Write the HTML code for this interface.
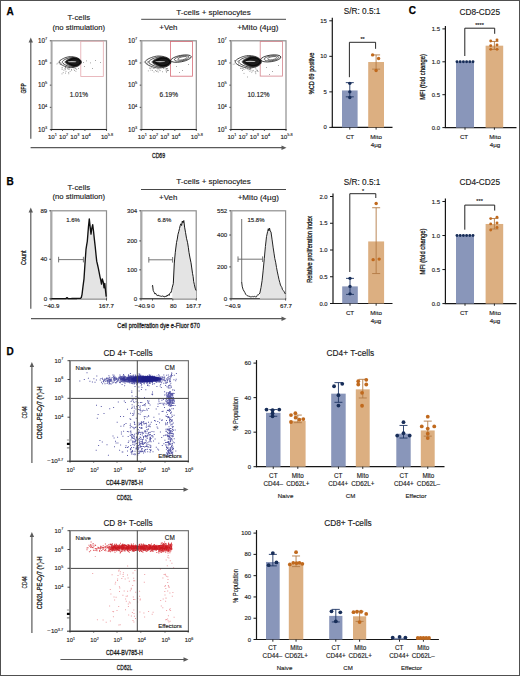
<!DOCTYPE html>
<html><head><meta charset="utf-8"><style>html,body{margin:0;padding:0;background:#fff;overflow:hidden;width:520px;height:676px;}svg{display:block;}text{font-family:"Liberation Sans", sans-serif;}</style></head><body>
<svg width="520" height="676" viewBox="0 0 520 676" font-family='"Liberation Sans", sans-serif'>
<rect x="0.00" y="0.00" width="520.00" height="676.00" fill="#ffffff" stroke="none" stroke-width="1"/>
<text x="6.60" y="14.50" font-size="10.0" text-anchor="start" font-weight="bold" fill="#000" stroke="#000" stroke-width="0.25">A</text>
<text x="6.60" y="184.70" font-size="10.0" text-anchor="start" font-weight="bold" fill="#000" stroke="#000" stroke-width="0.25">B</text>
<text x="408.70" y="14.40" font-size="10.0" text-anchor="start" font-weight="bold" fill="#000" stroke="#000" stroke-width="0.25">C</text>
<text x="6.60" y="354.70" font-size="10.0" text-anchor="start" font-weight="bold" fill="#000" stroke="#000" stroke-width="0.25">D</text>
<rect x="51.30" y="40.80" width="55.20" height="88.70" fill="#fff" stroke="#8e8e8e" stroke-width="1.2"/>
<line x1="51.80" y1="40.80" x2="51.80" y2="129.50" stroke="#a8a8a8" stroke-width="1.6"/>
<line x1="50.80" y1="129.50" x2="107.00" y2="129.50" stroke="#222" stroke-width="1.1"/>
<text x="38.10" y="42.90" font-size="6.3" text-anchor="start" fill="#222" stroke="#222" stroke-width="0.12">10<tspan font-size="3.91" dy="-2.83">7</tspan></text>
<line x1="49.80" y1="40.80" x2="51.30" y2="40.80" stroke="#333" stroke-width="0.8"/>
<text x="38.10" y="65.07" font-size="6.3" text-anchor="start" fill="#222" stroke="#222" stroke-width="0.12">10<tspan font-size="3.91" dy="-2.83">6</tspan></text>
<line x1="49.80" y1="62.97" x2="51.30" y2="62.97" stroke="#333" stroke-width="0.8"/>
<text x="38.10" y="87.25" font-size="6.3" text-anchor="start" fill="#222" stroke="#222" stroke-width="0.12">10<tspan font-size="3.91" dy="-2.83">5</tspan></text>
<line x1="49.80" y1="85.15" x2="51.30" y2="85.15" stroke="#333" stroke-width="0.8"/>
<text x="38.10" y="109.42" font-size="6.3" text-anchor="start" fill="#222" stroke="#222" stroke-width="0.12">10<tspan font-size="3.91" dy="-2.83">4</tspan></text>
<line x1="49.80" y1="107.33" x2="51.30" y2="107.33" stroke="#333" stroke-width="0.8"/>
<text x="38.10" y="131.60" font-size="6.3" text-anchor="start" fill="#222" stroke="#222" stroke-width="0.12">10<tspan font-size="3.91" dy="-2.83">3</tspan></text>
<line x1="49.80" y1="129.50" x2="51.30" y2="129.50" stroke="#333" stroke-width="0.8"/>
<text x="47.90" y="138.70" font-size="6.2" text-anchor="start" fill="#222" stroke="#222" stroke-width="0.12">10<tspan font-size="3.84" dy="-2.79">1</tspan></text>
<line x1="51.30" y1="129.50" x2="51.30" y2="131.00" stroke="#333" stroke-width="0.8"/>
<text x="59.10" y="138.70" font-size="6.2" text-anchor="start" fill="#222" stroke="#222" stroke-width="0.12">10<tspan font-size="3.84" dy="-2.79">2</tspan></text>
<line x1="62.50" y1="129.50" x2="62.50" y2="131.00" stroke="#333" stroke-width="0.8"/>
<text x="70.30" y="138.70" font-size="6.2" text-anchor="start" fill="#222" stroke="#222" stroke-width="0.12">10<tspan font-size="3.84" dy="-2.79">3</tspan></text>
<line x1="73.70" y1="129.50" x2="73.70" y2="131.00" stroke="#333" stroke-width="0.8"/>
<text x="81.50" y="138.70" font-size="6.2" text-anchor="start" fill="#222" stroke="#222" stroke-width="0.12">10<tspan font-size="3.84" dy="-2.79">4</tspan></text>
<line x1="84.90" y1="129.50" x2="84.90" y2="131.00" stroke="#333" stroke-width="0.8"/>
<text x="100.90" y="138.70" font-size="6.2" text-anchor="start" fill="#222" stroke="#222" stroke-width="0.12">10<tspan font-size="3.84" dy="-2.79">5.8</tspan></text>
<line x1="106.50" y1="129.50" x2="106.50" y2="131.00" stroke="#333" stroke-width="0.8"/>
<rect x="80.80" y="41.20" width="22.50" height="35.30" fill="none" stroke="#e4a8ae" stroke-width="0.8"/>
<text x="78.90" y="96.60" font-size="6.5" text-anchor="middle" fill="#222" stroke="#222" stroke-width="0.14">1.01%</text>
<rect x="141.20" y="40.80" width="55.10" height="88.70" fill="#fff" stroke="#8e8e8e" stroke-width="1.2"/>
<line x1="141.70" y1="40.80" x2="141.70" y2="129.50" stroke="#a8a8a8" stroke-width="1.6"/>
<line x1="140.70" y1="129.50" x2="196.80" y2="129.50" stroke="#222" stroke-width="1.1"/>
<text x="128.00" y="42.90" font-size="6.3" text-anchor="start" fill="#222" stroke="#222" stroke-width="0.12">10<tspan font-size="3.91" dy="-2.83">7</tspan></text>
<line x1="139.70" y1="40.80" x2="141.20" y2="40.80" stroke="#333" stroke-width="0.8"/>
<text x="128.00" y="65.07" font-size="6.3" text-anchor="start" fill="#222" stroke="#222" stroke-width="0.12">10<tspan font-size="3.91" dy="-2.83">6</tspan></text>
<line x1="139.70" y1="62.97" x2="141.20" y2="62.97" stroke="#333" stroke-width="0.8"/>
<text x="128.00" y="87.25" font-size="6.3" text-anchor="start" fill="#222" stroke="#222" stroke-width="0.12">10<tspan font-size="3.91" dy="-2.83">5</tspan></text>
<line x1="139.70" y1="85.15" x2="141.20" y2="85.15" stroke="#333" stroke-width="0.8"/>
<text x="128.00" y="109.42" font-size="6.3" text-anchor="start" fill="#222" stroke="#222" stroke-width="0.12">10<tspan font-size="3.91" dy="-2.83">4</tspan></text>
<line x1="139.70" y1="107.33" x2="141.20" y2="107.33" stroke="#333" stroke-width="0.8"/>
<text x="128.00" y="131.60" font-size="6.3" text-anchor="start" fill="#222" stroke="#222" stroke-width="0.12">10<tspan font-size="3.91" dy="-2.83">3</tspan></text>
<line x1="139.70" y1="129.50" x2="141.20" y2="129.50" stroke="#333" stroke-width="0.8"/>
<text x="137.80" y="138.70" font-size="6.2" text-anchor="start" fill="#222" stroke="#222" stroke-width="0.12">10<tspan font-size="3.84" dy="-2.79">1</tspan></text>
<line x1="141.20" y1="129.50" x2="141.20" y2="131.00" stroke="#333" stroke-width="0.8"/>
<text x="149.00" y="138.70" font-size="6.2" text-anchor="start" fill="#222" stroke="#222" stroke-width="0.12">10<tspan font-size="3.84" dy="-2.79">2</tspan></text>
<line x1="152.40" y1="129.50" x2="152.40" y2="131.00" stroke="#333" stroke-width="0.8"/>
<text x="160.20" y="138.70" font-size="6.2" text-anchor="start" fill="#222" stroke="#222" stroke-width="0.12">10<tspan font-size="3.84" dy="-2.79">3</tspan></text>
<line x1="163.60" y1="129.50" x2="163.60" y2="131.00" stroke="#333" stroke-width="0.8"/>
<text x="171.40" y="138.70" font-size="6.2" text-anchor="start" fill="#222" stroke="#222" stroke-width="0.12">10<tspan font-size="3.84" dy="-2.79">4</tspan></text>
<line x1="174.80" y1="129.50" x2="174.80" y2="131.00" stroke="#333" stroke-width="0.8"/>
<text x="190.70" y="138.70" font-size="6.2" text-anchor="start" fill="#222" stroke="#222" stroke-width="0.12">10<tspan font-size="3.84" dy="-2.79">5.8</tspan></text>
<line x1="196.30" y1="129.50" x2="196.30" y2="131.00" stroke="#333" stroke-width="0.8"/>
<rect x="170.40" y="41.40" width="22.20" height="34.80" fill="none" stroke="#d66c77" stroke-width="0.8"/>
<text x="168.75" y="96.60" font-size="6.5" text-anchor="middle" fill="#222" stroke="#222" stroke-width="0.14">6.19%</text>
<rect x="230.80" y="40.80" width="55.20" height="88.70" fill="#fff" stroke="#8e8e8e" stroke-width="1.2"/>
<line x1="231.30" y1="40.80" x2="231.30" y2="129.50" stroke="#a8a8a8" stroke-width="1.6"/>
<line x1="230.30" y1="129.50" x2="286.50" y2="129.50" stroke="#222" stroke-width="1.1"/>
<text x="217.60" y="42.90" font-size="6.3" text-anchor="start" fill="#222" stroke="#222" stroke-width="0.12">10<tspan font-size="3.91" dy="-2.83">7</tspan></text>
<line x1="229.30" y1="40.80" x2="230.80" y2="40.80" stroke="#333" stroke-width="0.8"/>
<text x="217.60" y="65.07" font-size="6.3" text-anchor="start" fill="#222" stroke="#222" stroke-width="0.12">10<tspan font-size="3.91" dy="-2.83">6</tspan></text>
<line x1="229.30" y1="62.97" x2="230.80" y2="62.97" stroke="#333" stroke-width="0.8"/>
<text x="217.60" y="87.25" font-size="6.3" text-anchor="start" fill="#222" stroke="#222" stroke-width="0.12">10<tspan font-size="3.91" dy="-2.83">5</tspan></text>
<line x1="229.30" y1="85.15" x2="230.80" y2="85.15" stroke="#333" stroke-width="0.8"/>
<text x="217.60" y="109.42" font-size="6.3" text-anchor="start" fill="#222" stroke="#222" stroke-width="0.12">10<tspan font-size="3.91" dy="-2.83">4</tspan></text>
<line x1="229.30" y1="107.33" x2="230.80" y2="107.33" stroke="#333" stroke-width="0.8"/>
<text x="217.60" y="131.60" font-size="6.3" text-anchor="start" fill="#222" stroke="#222" stroke-width="0.12">10<tspan font-size="3.91" dy="-2.83">3</tspan></text>
<line x1="229.30" y1="129.50" x2="230.80" y2="129.50" stroke="#333" stroke-width="0.8"/>
<text x="227.40" y="138.70" font-size="6.2" text-anchor="start" fill="#222" stroke="#222" stroke-width="0.12">10<tspan font-size="3.84" dy="-2.79">1</tspan></text>
<line x1="230.80" y1="129.50" x2="230.80" y2="131.00" stroke="#333" stroke-width="0.8"/>
<text x="238.60" y="138.70" font-size="6.2" text-anchor="start" fill="#222" stroke="#222" stroke-width="0.12">10<tspan font-size="3.84" dy="-2.79">2</tspan></text>
<line x1="242.00" y1="129.50" x2="242.00" y2="131.00" stroke="#333" stroke-width="0.8"/>
<text x="249.80" y="138.70" font-size="6.2" text-anchor="start" fill="#222" stroke="#222" stroke-width="0.12">10<tspan font-size="3.84" dy="-2.79">3</tspan></text>
<line x1="253.20" y1="129.50" x2="253.20" y2="131.00" stroke="#333" stroke-width="0.8"/>
<text x="261.00" y="138.70" font-size="6.2" text-anchor="start" fill="#222" stroke="#222" stroke-width="0.12">10<tspan font-size="3.84" dy="-2.79">4</tspan></text>
<line x1="264.40" y1="129.50" x2="264.40" y2="131.00" stroke="#333" stroke-width="0.8"/>
<text x="280.40" y="138.70" font-size="6.2" text-anchor="start" fill="#222" stroke="#222" stroke-width="0.12">10<tspan font-size="3.84" dy="-2.79">5.8</tspan></text>
<line x1="286.00" y1="129.50" x2="286.00" y2="131.00" stroke="#333" stroke-width="0.8"/>
<rect x="260.20" y="41.40" width="22.30" height="34.70" fill="none" stroke="#d4848d" stroke-width="0.8"/>
<text x="258.40" y="96.60" font-size="6.5" text-anchor="middle" fill="#222" stroke="#222" stroke-width="0.14">10.12%</text>
<rect x="63.5" y="69.8" width="0.8" height="0.8" fill="#777"/>
<rect x="65.6" y="70.9" width="0.8" height="0.8" fill="#777"/>
<rect x="69.7" y="70.9" width="0.8" height="0.8" fill="#777"/>
<rect x="74.7" y="68.3" width="0.8" height="0.8" fill="#777"/>
<rect x="62.8" y="72.3" width="0.8" height="0.8" fill="#777"/>
<rect x="68.6" y="68.0" width="0.8" height="0.8" fill="#777"/>
<rect x="74.2" y="70.1" width="0.8" height="0.8" fill="#777"/>
<rect x="73.5" y="67.1" width="0.8" height="0.8" fill="#777"/>
<rect x="65.1" y="72.7" width="0.8" height="0.8" fill="#777"/>
<rect x="61.7" y="69.1" width="0.8" height="0.8" fill="#777"/>
<rect x="61.6" y="73.5" width="0.8" height="0.8" fill="#777"/>
<rect x="67.7" y="68.8" width="0.8" height="0.8" fill="#777"/>
<rect x="64.9" y="67.6" width="0.8" height="0.8" fill="#777"/>
<rect x="65.0" y="67.4" width="0.8" height="0.8" fill="#777"/>
<rect x="68.7" y="69.1" width="0.8" height="0.8" fill="#777"/>
<rect x="65.1" y="67.1" width="0.8" height="0.8" fill="#777"/>
<rect x="64.9" y="69.3" width="0.8" height="0.8" fill="#777"/>
<rect x="61.6" y="67.6" width="0.8" height="0.8" fill="#777"/>
<rect x="75.5" y="70.8" width="0.8" height="0.8" fill="#777"/>
<rect x="64.4" y="68.4" width="0.8" height="0.8" fill="#777"/>
<rect x="78.2" y="68.0" width="0.8" height="0.8" fill="#777"/>
<rect x="66.9" y="68.1" width="0.8" height="0.8" fill="#777"/>
<rect x="73.5" y="68.6" width="0.8" height="0.8" fill="#777"/>
<rect x="68.4" y="73.4" width="0.8" height="0.8" fill="#777"/>
<rect x="75.4" y="68.2" width="0.8" height="0.8" fill="#777"/>
<rect x="71.2" y="69.1" width="0.8" height="0.8" fill="#777"/>
<rect x="76.3" y="68.9" width="0.8" height="0.8" fill="#777"/>
<rect x="71.3" y="69.8" width="0.8" height="0.8" fill="#777"/>
<rect x="61.8" y="67.3" width="0.8" height="0.8" fill="#777"/>
<rect x="68.3" y="72.0" width="0.8" height="0.8" fill="#777"/>
<rect x="57.4" y="62.8" width="0.8" height="0.8" fill="#888"/>
<rect x="61.1" y="63.5" width="0.8" height="0.8" fill="#888"/>
<rect x="58.8" y="62.3" width="0.8" height="0.8" fill="#888"/>
<rect x="59.8" y="64.0" width="0.8" height="0.8" fill="#888"/>
<rect x="59.8" y="62.1" width="0.8" height="0.8" fill="#888"/>
<rect x="59.6" y="60.2" width="0.8" height="0.8" fill="#888"/>
<rect x="56.5" y="63.6" width="0.8" height="0.8" fill="#888"/>
<rect x="63.1" y="63.1" width="0.8" height="0.8" fill="#888"/>
<rect x="83.0" y="62.0" width="0.8" height="0.8" fill="#777"/>
<rect x="86.0" y="60.5" width="0.8" height="0.8" fill="#777"/>
<rect x="90.0" y="62.5" width="0.8" height="0.8" fill="#777"/>
<rect x="95.0" y="60.0" width="0.8" height="0.8" fill="#777"/>
<rect x="100.0" y="62.0" width="0.8" height="0.8" fill="#777"/>
<rect x="84.0" y="66.0" width="0.8" height="0.8" fill="#777"/>
<rect x="92.0" y="68.0" width="0.8" height="0.8" fill="#777"/>
<path d="M81.30,62.10 L81.21,62.82 L80.92,63.52 L80.46,64.20 L79.82,64.85 L79.02,65.45 L78.06,65.99 L76.98,66.46 L75.78,66.86 L74.48,67.18 L73.11,67.41 L71.69,67.55 L70.25,67.60 L68.81,67.44 L67.39,67.14 L66.02,66.74 L64.73,66.28 L63.52,65.78 L62.44,65.25 L61.48,64.70 L60.68,64.17 L60.04,63.64 L59.58,63.12 L59.29,62.60 L59.20,62.10 L59.29,61.60 L59.58,61.08 L60.04,60.56 L60.68,60.03 L61.48,59.50 L62.44,58.95 L63.52,58.42 L64.72,57.92 L66.02,57.46 L67.39,57.06 L68.81,56.76 L70.25,56.60 L71.69,56.65 L73.11,56.79 L74.48,57.02 L75.78,57.34 L76.98,57.74 L78.06,58.21 L79.02,58.75 L79.82,59.35 L80.46,60.00 L80.92,60.68 L81.21,61.38Z" fill="none" stroke="#111" stroke-width="0.75"/>
<path d="M80.97,62.10 L80.89,62.71 L80.65,63.31 L80.26,63.89 L79.72,64.44 L79.04,64.95 L78.23,65.41 L77.32,65.81 L76.30,66.15 L75.20,66.42 L74.05,66.62 L72.85,66.74 L71.63,66.78 L70.41,66.64 L69.21,66.38 L68.06,66.05 L66.96,65.66 L65.95,65.23 L65.03,64.77 L64.22,64.31 L63.54,63.86 L63.00,63.40 L62.61,62.96 L62.37,62.53 L62.29,62.10 L62.37,61.67 L62.61,61.24 L63.00,60.80 L63.54,60.34 L64.22,59.89 L65.03,59.43 L65.95,58.97 L66.96,58.54 L68.06,58.15 L69.21,57.82 L70.41,57.56 L71.63,57.43 L72.85,57.46 L74.05,57.58 L75.20,57.78 L76.30,58.05 L77.32,58.39 L78.23,58.79 L79.04,59.25 L79.72,59.76 L80.26,60.31 L80.65,60.89 L80.89,61.49Z" fill="none" stroke="#111" stroke-width="0.75"/>
<path d="M80.64,62.10 L80.57,62.63 L80.37,63.15 L80.05,63.66 L79.60,64.14 L79.04,64.58 L78.37,64.98 L77.61,65.33 L76.77,65.62 L75.86,65.86 L74.90,66.03 L73.91,66.14 L72.90,66.17 L71.89,66.05 L70.90,65.83 L69.94,65.54 L69.03,65.20 L68.19,64.82 L67.43,64.43 L66.77,64.03 L66.20,63.63 L65.76,63.24 L65.43,62.85 L65.23,62.47 L65.17,62.10 L65.23,61.73 L65.43,61.35 L65.76,60.96 L66.20,60.57 L66.77,60.17 L67.43,59.77 L68.19,59.38 L69.03,59.00 L69.94,58.66 L70.90,58.37 L71.89,58.15 L72.90,58.03 L73.91,58.06 L74.90,58.17 L75.86,58.34 L76.77,58.58 L77.61,58.87 L78.37,59.22 L79.04,59.62 L79.60,60.06 L80.05,60.54 L80.37,61.05 L80.57,61.57Z" fill="none" stroke="#111" stroke-width="0.75"/>
<path d="M80.86,62.00 L80.79,62.57 L80.59,63.14 L80.27,63.68 L79.82,64.20 L79.26,64.68 L78.59,65.11 L77.83,65.49 L76.99,65.81 L76.08,66.07 L75.12,66.25 L74.13,66.36 L73.12,66.40 L72.11,66.22 L71.12,65.92 L70.16,65.54 L69.26,65.11 L68.41,64.67 L67.65,64.22 L66.99,63.79 L66.42,63.38 L65.98,63.00 L65.65,62.65 L65.45,62.32 L65.39,62.00 L65.45,61.68 L65.65,61.35 L65.98,61.00 L66.42,60.62 L66.99,60.21 L67.65,59.78 L68.41,59.33 L69.26,58.89 L70.16,58.46 L71.12,58.08 L72.11,57.78 L73.12,57.60 L74.13,57.64 L75.12,57.75 L76.08,57.93 L76.99,58.19 L77.83,58.51 L78.59,58.89 L79.26,59.32 L79.82,59.80 L80.27,60.32 L80.59,60.86 L80.79,61.43Z" fill="#1c1c1c"/>
<path d="M80.19,62.00 L80.14,62.45 L79.99,62.88 L79.73,63.30 L79.38,63.70 L78.94,64.08 L78.41,64.41 L77.82,64.71 L77.16,64.95 L76.44,65.15 L75.69,65.29 L74.91,65.38 L74.12,65.41 L73.32,65.27 L72.54,65.04 L71.79,64.74 L71.08,64.41 L70.42,64.07 L69.82,63.72 L69.30,63.38 L68.85,63.07 L68.50,62.78 L68.25,62.50 L68.09,62.25 L68.04,62.00 L68.09,61.75 L68.25,61.50 L68.50,61.22 L68.85,60.93 L69.30,60.62 L69.82,60.28 L70.42,59.93 L71.08,59.59 L71.79,59.26 L72.54,58.96 L73.32,58.73 L74.12,58.59 L74.91,58.62 L75.69,58.71 L76.44,58.85 L77.16,59.05 L77.82,59.29 L78.41,59.59 L78.94,59.92 L79.38,60.30 L79.73,60.70 L79.99,61.12 L80.14,61.55Z" fill="none" stroke="#000" stroke-width="0.8"/>
<ellipse cx="72.02" cy="61.70" rx="4.42" ry="0.6" fill="#bdbdbd"/>
<ellipse cx="181.00" cy="58.60" rx="10.40" ry="3.20" transform="rotate(-11 181.00 58.60)" fill="#fff" stroke="#111" stroke-width="0.75"/>
<ellipse cx="181.73" cy="58.60" rx="7.49" ry="2.30" transform="rotate(-11 181.00 58.60)" fill="none" stroke="#111" stroke-width="0.6"/>
<ellipse cx="182.43" cy="58.60" rx="4.68" ry="1.44" transform="rotate(-11 181.00 58.60)" fill="none" stroke="#111" stroke-width="0.55"/>
<rect x="167.1" y="68.3" width="0.8" height="0.8" fill="#777"/>
<rect x="149.0" y="67.7" width="0.8" height="0.8" fill="#777"/>
<rect x="164.6" y="67.8" width="0.8" height="0.8" fill="#777"/>
<rect x="153.6" y="71.6" width="0.8" height="0.8" fill="#777"/>
<rect x="159.8" y="70.3" width="0.8" height="0.8" fill="#777"/>
<rect x="150.5" y="69.7" width="0.8" height="0.8" fill="#777"/>
<rect x="156.2" y="70.9" width="0.8" height="0.8" fill="#777"/>
<rect x="167.9" y="70.2" width="0.8" height="0.8" fill="#777"/>
<rect x="166.9" y="70.3" width="0.8" height="0.8" fill="#777"/>
<rect x="152.8" y="68.2" width="0.8" height="0.8" fill="#777"/>
<rect x="147.9" y="70.5" width="0.8" height="0.8" fill="#777"/>
<rect x="153.8" y="67.9" width="0.8" height="0.8" fill="#777"/>
<rect x="155.1" y="70.1" width="0.8" height="0.8" fill="#777"/>
<rect x="158.9" y="69.6" width="0.8" height="0.8" fill="#777"/>
<rect x="152.1" y="69.9" width="0.8" height="0.8" fill="#777"/>
<rect x="150.0" y="67.8" width="0.8" height="0.8" fill="#777"/>
<rect x="157.8" y="71.6" width="0.8" height="0.8" fill="#777"/>
<rect x="151.0" y="67.4" width="0.8" height="0.8" fill="#777"/>
<rect x="165.8" y="68.7" width="0.8" height="0.8" fill="#777"/>
<rect x="166.1" y="71.8" width="0.8" height="0.8" fill="#777"/>
<rect x="163.1" y="68.0" width="0.8" height="0.8" fill="#777"/>
<rect x="167.6" y="69.9" width="0.8" height="0.8" fill="#777"/>
<rect x="167.2" y="69.9" width="0.8" height="0.8" fill="#777"/>
<rect x="162.1" y="71.4" width="0.8" height="0.8" fill="#777"/>
<rect x="156.8" y="70.6" width="0.8" height="0.8" fill="#777"/>
<rect x="166.4" y="68.0" width="0.8" height="0.8" fill="#777"/>
<rect x="157.6" y="68.7" width="0.8" height="0.8" fill="#777"/>
<rect x="165.6" y="69.7" width="0.8" height="0.8" fill="#777"/>
<rect x="165.9" y="70.9" width="0.8" height="0.8" fill="#777"/>
<rect x="166.3" y="68.3" width="0.8" height="0.8" fill="#777"/>
<rect x="147.3" y="62.4" width="0.8" height="0.8" fill="#888"/>
<rect x="143.8" y="61.6" width="0.8" height="0.8" fill="#888"/>
<rect x="147.1" y="60.8" width="0.8" height="0.8" fill="#888"/>
<rect x="148.6" y="61.3" width="0.8" height="0.8" fill="#888"/>
<rect x="148.6" y="61.5" width="0.8" height="0.8" fill="#888"/>
<rect x="148.9" y="63.5" width="0.8" height="0.8" fill="#888"/>
<rect x="145.7" y="62.6" width="0.8" height="0.8" fill="#888"/>
<rect x="146.8" y="62.9" width="0.8" height="0.8" fill="#888"/>
<rect x="176.0" y="66.0" width="0.8" height="0.8" fill="#777"/>
<rect x="182.0" y="70.0" width="0.8" height="0.8" fill="#777"/>
<rect x="188.0" y="64.0" width="0.8" height="0.8" fill="#777"/>
<rect x="179.0" y="72.0" width="0.8" height="0.8" fill="#777"/>
<path d="M171.00,62.00 L170.89,62.78 L170.56,63.55 L170.02,64.30 L169.27,65.00 L168.33,65.65 L167.22,66.24 L165.95,66.76 L164.55,67.20 L163.04,67.54 L161.44,67.80 L159.78,67.95 L158.10,68.00 L156.42,67.82 L154.76,67.50 L153.16,67.07 L151.65,66.56 L150.25,66.01 L148.98,65.43 L147.87,64.84 L146.93,64.25 L146.18,63.67 L145.64,63.11 L145.31,62.55 L145.20,62.00 L145.31,61.45 L145.64,60.89 L146.18,60.33 L146.93,59.75 L147.87,59.16 L148.98,58.57 L150.25,57.99 L151.65,57.44 L153.16,56.93 L154.76,56.50 L156.42,56.18 L158.10,56.00 L159.78,56.05 L161.44,56.20 L163.04,56.46 L164.55,56.80 L165.95,57.24 L167.22,57.76 L168.33,58.35 L169.27,59.00 L170.02,59.70 L170.56,60.45 L170.89,61.22Z" fill="none" stroke="#111" stroke-width="0.75"/>
<path d="M170.61,62.00 L170.52,62.67 L170.24,63.32 L169.78,63.95 L169.15,64.55 L168.36,65.10 L167.42,65.61 L166.35,66.05 L165.16,66.42 L163.88,66.71 L162.53,66.93 L161.14,67.06 L159.71,67.10 L158.29,66.95 L156.89,66.67 L155.54,66.31 L154.26,65.88 L153.08,65.41 L152.00,64.92 L151.06,64.42 L150.27,63.92 L149.64,63.42 L149.18,62.94 L148.91,62.47 L148.81,62.00 L148.91,61.53 L149.18,61.06 L149.64,60.58 L150.27,60.08 L151.06,59.58 L152.00,59.08 L153.08,58.59 L154.26,58.12 L155.54,57.69 L156.89,57.33 L158.29,57.05 L159.71,56.90 L161.14,56.94 L162.53,57.07 L163.88,57.29 L165.16,57.58 L166.35,57.95 L167.42,58.39 L168.36,58.90 L169.15,59.45 L169.78,60.05 L170.24,60.68 L170.52,61.33Z" fill="none" stroke="#111" stroke-width="0.75"/>
<path d="M170.23,62.00 L170.15,62.58 L169.92,63.15 L169.54,63.70 L169.02,64.22 L168.36,64.70 L167.58,65.14 L166.69,65.52 L165.71,65.85 L164.65,66.10 L163.53,66.29 L162.37,66.40 L161.20,66.44 L160.02,66.31 L158.86,66.07 L157.74,65.75 L156.68,65.38 L155.70,64.97 L154.81,64.54 L154.03,64.10 L153.38,63.67 L152.85,63.24 L152.47,62.82 L152.24,62.41 L152.17,62.00 L152.24,61.59 L152.47,61.18 L152.85,60.76 L153.38,60.33 L154.03,59.90 L154.81,59.46 L155.70,59.03 L156.68,58.62 L157.74,58.25 L158.86,57.93 L160.02,57.69 L161.20,57.56 L162.37,57.60 L163.53,57.71 L164.65,57.90 L165.71,58.15 L166.69,58.48 L167.58,58.86 L168.36,59.30 L169.02,59.78 L169.54,60.30 L169.92,60.85 L170.15,61.42Z" fill="none" stroke="#111" stroke-width="0.75"/>
<path d="M170.48,61.90 L170.41,62.53 L170.18,63.14 L169.80,63.74 L169.27,64.30 L168.62,64.82 L167.84,65.29 L166.95,65.71 L165.97,66.06 L164.91,66.33 L163.79,66.54 L162.63,66.66 L161.45,66.70 L160.28,66.51 L159.12,66.18 L158.00,65.76 L156.94,65.30 L155.96,64.81 L155.07,64.32 L154.29,63.85 L153.63,63.40 L153.11,62.99 L152.73,62.61 L152.50,62.25 L152.42,61.90 L152.50,61.55 L152.73,61.19 L153.11,60.81 L153.63,60.40 L154.29,59.95 L155.07,59.48 L155.96,58.99 L156.94,58.50 L158.00,58.04 L159.12,57.62 L160.28,57.29 L161.45,57.10 L162.63,57.14 L163.79,57.26 L164.91,57.47 L165.97,57.74 L166.95,58.09 L167.84,58.51 L168.62,58.98 L169.27,59.50 L169.80,60.06 L170.18,60.66 L170.41,61.27Z" fill="#1c1c1c"/>
<path d="M169.71,61.90 L169.65,62.39 L169.47,62.86 L169.17,63.32 L168.76,63.76 L168.24,64.16 L167.63,64.53 L166.93,64.85 L166.16,65.12 L165.33,65.34 L164.45,65.49 L163.54,65.59 L162.62,65.62 L161.69,65.47 L160.78,65.21 L159.90,64.89 L159.07,64.53 L158.30,64.15 L157.60,63.78 L156.99,63.41 L156.47,63.07 L156.06,62.75 L155.76,62.45 L155.58,62.17 L155.52,61.90 L155.58,61.63 L155.76,61.35 L156.06,61.05 L156.47,60.73 L156.99,60.39 L157.60,60.02 L158.30,59.65 L159.07,59.27 L159.90,58.91 L160.78,58.59 L161.69,58.33 L162.62,58.18 L163.54,58.21 L164.45,58.31 L165.33,58.46 L166.16,58.68 L166.93,58.95 L167.63,59.27 L168.24,59.64 L168.76,60.04 L169.17,60.48 L169.47,60.94 L169.65,61.41Z" fill="none" stroke="#000" stroke-width="0.8"/>
<ellipse cx="160.16" cy="61.60" rx="5.16" ry="0.6" fill="#bdbdbd"/>
<ellipse cx="270.80" cy="58.40" rx="10.20" ry="3.30" transform="rotate(-8 270.80 58.40)" fill="#fff" stroke="#111" stroke-width="0.75"/>
<ellipse cx="271.51" cy="58.40" rx="7.34" ry="2.38" transform="rotate(-8 270.80 58.40)" fill="none" stroke="#111" stroke-width="0.6"/>
<ellipse cx="272.20" cy="58.40" rx="4.59" ry="1.48" transform="rotate(-8 270.80 58.40)" fill="none" stroke="#111" stroke-width="0.55"/>
<rect x="242.2" y="70.0" width="0.8" height="0.8" fill="#777"/>
<rect x="249.9" y="68.2" width="0.8" height="0.8" fill="#777"/>
<rect x="250.4" y="67.8" width="0.8" height="0.8" fill="#777"/>
<rect x="254.9" y="67.6" width="0.8" height="0.8" fill="#777"/>
<rect x="242.7" y="68.3" width="0.8" height="0.8" fill="#777"/>
<rect x="247.1" y="76.6" width="0.8" height="0.8" fill="#777"/>
<rect x="254.8" y="71.4" width="0.8" height="0.8" fill="#777"/>
<rect x="240.4" y="68.0" width="0.8" height="0.8" fill="#777"/>
<rect x="250.6" y="69.7" width="0.8" height="0.8" fill="#777"/>
<rect x="252.8" y="69.9" width="0.8" height="0.8" fill="#777"/>
<rect x="251.4" y="71.8" width="0.8" height="0.8" fill="#777"/>
<rect x="249.7" y="69.3" width="0.8" height="0.8" fill="#777"/>
<rect x="243.6" y="72.9" width="0.8" height="0.8" fill="#777"/>
<rect x="247.2" y="68.5" width="0.8" height="0.8" fill="#777"/>
<rect x="252.4" y="70.6" width="0.8" height="0.8" fill="#777"/>
<rect x="256.6" y="70.5" width="0.8" height="0.8" fill="#777"/>
<rect x="245.5" y="68.4" width="0.8" height="0.8" fill="#777"/>
<rect x="256.9" y="70.3" width="0.8" height="0.8" fill="#777"/>
<rect x="255.7" y="68.7" width="0.8" height="0.8" fill="#777"/>
<rect x="241.8" y="68.3" width="0.8" height="0.8" fill="#777"/>
<rect x="257.6" y="71.0" width="0.8" height="0.8" fill="#777"/>
<rect x="243.6" y="69.0" width="0.8" height="0.8" fill="#777"/>
<rect x="247.9" y="69.4" width="0.8" height="0.8" fill="#777"/>
<rect x="249.5" y="69.1" width="0.8" height="0.8" fill="#777"/>
<rect x="249.5" y="70.9" width="0.8" height="0.8" fill="#777"/>
<rect x="256.8" y="69.8" width="0.8" height="0.8" fill="#777"/>
<rect x="255.3" y="71.6" width="0.8" height="0.8" fill="#777"/>
<rect x="240.6" y="67.7" width="0.8" height="0.8" fill="#777"/>
<rect x="255.4" y="73.3" width="0.8" height="0.8" fill="#777"/>
<rect x="249.2" y="68.8" width="0.8" height="0.8" fill="#777"/>
<rect x="237.2" y="60.9" width="0.8" height="0.8" fill="#888"/>
<rect x="238.0" y="62.7" width="0.8" height="0.8" fill="#888"/>
<rect x="234.2" y="60.1" width="0.8" height="0.8" fill="#888"/>
<rect x="238.2" y="64.7" width="0.8" height="0.8" fill="#888"/>
<rect x="232.8" y="63.8" width="0.8" height="0.8" fill="#888"/>
<rect x="235.1" y="60.6" width="0.8" height="0.8" fill="#888"/>
<rect x="234.3" y="63.6" width="0.8" height="0.8" fill="#888"/>
<rect x="238.3" y="60.0" width="0.8" height="0.8" fill="#888"/>
<rect x="266.0" y="67.0" width="0.8" height="0.8" fill="#777"/>
<rect x="272.0" y="71.0" width="0.8" height="0.8" fill="#777"/>
<rect x="278.0" y="65.0" width="0.8" height="0.8" fill="#777"/>
<rect x="269.0" y="74.0" width="0.8" height="0.8" fill="#777"/>
<path d="M261.30,61.80 L261.19,62.62 L260.86,63.42 L260.31,64.19 L259.55,64.92 L258.60,65.60 L257.48,66.22 L256.19,66.76 L254.78,67.21 L253.24,67.57 L251.63,67.84 L249.95,68.00 L248.25,68.05 L246.55,67.86 L244.87,67.52 L243.26,67.08 L241.72,66.55 L240.31,65.98 L239.02,65.37 L237.90,64.76 L236.95,64.15 L236.19,63.54 L235.64,62.95 L235.31,62.37 L235.20,61.80 L235.31,61.23 L235.64,60.65 L236.19,60.06 L236.95,59.45 L237.90,58.84 L239.02,58.23 L240.31,57.62 L241.72,57.05 L243.26,56.52 L244.87,56.08 L246.55,55.74 L248.25,55.55 L249.95,55.60 L251.63,55.76 L253.24,56.03 L254.78,56.39 L256.19,56.84 L257.48,57.38 L258.60,58.00 L259.55,58.67 L260.31,59.41 L260.86,60.18 L261.19,60.98Z" fill="none" stroke="#111" stroke-width="0.75"/>
<path d="M260.91,61.80 L260.81,62.49 L260.53,63.17 L260.07,63.83 L259.43,64.46 L258.63,65.03 L257.68,65.56 L256.59,66.01 L255.39,66.40 L254.10,66.71 L252.74,66.93 L251.32,67.07 L249.88,67.11 L248.44,66.96 L247.03,66.67 L245.66,66.29 L244.37,65.84 L243.17,65.35 L242.08,64.84 L241.13,64.32 L240.33,63.80 L239.69,63.28 L239.23,62.78 L238.95,62.29 L238.85,61.80 L238.95,61.31 L239.23,60.82 L239.69,60.32 L240.33,59.80 L241.13,59.28 L242.08,58.76 L243.17,58.25 L244.37,57.76 L245.66,57.31 L247.03,56.93 L248.44,56.64 L249.88,56.49 L251.32,56.53 L252.74,56.67 L254.10,56.89 L255.39,57.20 L256.59,57.59 L257.68,58.04 L258.63,58.57 L259.43,59.14 L260.07,59.77 L260.53,60.43 L260.81,61.11Z" fill="none" stroke="#111" stroke-width="0.75"/>
<path d="M260.52,61.80 L260.44,62.40 L260.21,63.00 L259.82,63.57 L259.29,64.11 L258.63,64.62 L257.84,65.07 L256.94,65.47 L255.95,65.81 L254.88,66.07 L253.75,66.27 L252.57,66.39 L251.38,66.42 L250.19,66.29 L249.02,66.04 L247.89,65.71 L246.81,65.32 L245.82,64.89 L244.92,64.45 L244.13,63.99 L243.47,63.54 L242.94,63.09 L242.56,62.65 L242.33,62.22 L242.25,61.80 L242.33,61.38 L242.56,60.95 L242.94,60.51 L243.47,60.06 L244.13,59.61 L244.92,59.15 L245.82,58.71 L246.81,58.28 L247.89,57.89 L249.02,57.56 L250.19,57.31 L251.38,57.17 L252.57,57.21 L253.75,57.33 L254.88,57.53 L255.95,57.79 L256.94,58.13 L257.84,58.53 L258.63,58.98 L259.29,59.49 L259.82,60.03 L260.21,60.60 L260.44,61.20Z" fill="none" stroke="#111" stroke-width="0.75"/>
<path d="M260.78,61.70 L260.70,62.35 L260.47,62.99 L260.08,63.61 L259.55,64.20 L258.89,64.74 L258.10,65.24 L257.20,65.67 L256.21,66.03 L255.14,66.32 L254.01,66.53 L252.84,66.66 L251.64,66.70 L250.45,66.50 L249.28,66.15 L248.15,65.72 L247.08,65.24 L246.08,64.73 L245.18,64.22 L244.40,63.73 L243.73,63.27 L243.20,62.84 L242.82,62.44 L242.59,62.06 L242.51,61.70 L242.59,61.34 L242.82,60.96 L243.20,60.56 L243.73,60.13 L244.40,59.67 L245.18,59.18 L246.08,58.67 L247.08,58.16 L248.15,57.68 L249.28,57.25 L250.45,56.90 L251.64,56.70 L252.84,56.74 L254.01,56.87 L255.14,57.08 L256.21,57.37 L257.20,57.73 L258.10,58.16 L258.89,58.66 L259.55,59.20 L260.08,59.79 L260.47,60.41 L260.70,61.05Z" fill="#1c1c1c"/>
<path d="M260.00,61.70 L259.93,62.21 L259.75,62.70 L259.45,63.18 L259.03,63.64 L258.51,64.06 L257.89,64.44 L257.19,64.77 L256.41,65.06 L255.56,65.28 L254.68,65.44 L253.75,65.54 L252.82,65.57 L251.88,65.42 L250.96,65.15 L250.07,64.82 L249.23,64.44 L248.45,64.05 L247.74,63.65 L247.12,63.27 L246.60,62.91 L246.19,62.58 L245.88,62.27 L245.70,61.98 L245.64,61.70 L245.70,61.42 L245.88,61.13 L246.19,60.82 L246.60,60.49 L247.12,60.13 L247.74,59.75 L248.45,59.35 L249.23,58.96 L250.07,58.58 L250.96,58.25 L251.88,57.98 L252.82,57.82 L253.75,57.86 L254.68,57.96 L255.56,58.12 L256.41,58.34 L257.19,58.63 L257.89,58.96 L258.51,59.34 L259.03,59.76 L259.45,60.22 L259.75,60.70 L259.93,61.19Z" fill="none" stroke="#000" stroke-width="0.8"/>
<ellipse cx="250.34" cy="61.40" rx="5.22" ry="0.6" fill="#bdbdbd"/>
<text x="78.80" y="20.00" font-size="7.8" text-anchor="middle" fill="#1a1a1a" stroke="#1a1a1a" stroke-width="0.14">T-cells</text>
<text x="78.80" y="29.60" font-size="7.7" text-anchor="middle" fill="#1a1a1a" stroke="#1a1a1a" stroke-width="0.14">(no stimulation)</text>
<text x="213.60" y="14.90" font-size="8.0" text-anchor="middle" fill="#1a1a1a" stroke="#1a1a1a" stroke-width="0.14">T-cells + splenocytes</text>
<line x1="141.20" y1="19.30" x2="286.00" y2="19.30" stroke="#333" stroke-width="0.9"/>
<text x="168.40" y="29.60" font-size="7.9" text-anchor="middle" fill="#1a1a1a" stroke="#1a1a1a" stroke-width="0.14">+Veh</text>
<text x="257.80" y="29.60" font-size="8.1" text-anchor="middle" fill="#1a1a1a" stroke="#1a1a1a" stroke-width="0.14">+Mito (4µg)</text>
<line x1="30.80" y1="41.50" x2="30.80" y2="138.80" stroke="#5a5a5a" stroke-width="1.2"/>
<path d="M28.60,42.50 L30.80,37.50 L33.00,42.50 Z" fill="#5a5a5a" stroke="none" stroke-width="1"/>
<text x="0.00" y="0.00" font-size="7.6" text-anchor="middle" fill="#1a1a1a" transform="translate(25.90,88.40) rotate(-90) scale(0.66,1)" stroke="#1a1a1a" stroke-width="0.3">GFP</text>
<line x1="30.60" y1="147.70" x2="282.50" y2="147.70" stroke="#5a5a5a" stroke-width="1.2"/>
<path d="M281.50,145.50 L286.50,147.70 L281.50,149.90 Z" fill="#5a5a5a" stroke="none" stroke-width="1"/>
<text x="0.00" y="0.00" font-size="7.6" text-anchor="middle" fill="#1a1a1a" transform="translate(158.50,157.50) scale(0.68,1)" stroke="#1a1a1a" stroke-width="0.3">CD69</text>
<line x1="332.30" y1="17.80" x2="332.30" y2="127.90" stroke="#161616" stroke-width="1.2"/>
<line x1="331.70" y1="127.40" x2="392.50" y2="127.40" stroke="#161616" stroke-width="1.2"/>
<line x1="329.30" y1="127.40" x2="332.30" y2="127.40" stroke="#161616" stroke-width="1.0"/>
<text x="326.90" y="129.40" font-size="5.9" text-anchor="end" fill="#222" stroke="#222" stroke-width="0.14">0</text>
<line x1="329.30" y1="91.87" x2="332.30" y2="91.87" stroke="#161616" stroke-width="1.0"/>
<text x="326.90" y="93.87" font-size="5.9" text-anchor="end" fill="#222" stroke="#222" stroke-width="0.14">5</text>
<line x1="329.30" y1="56.33" x2="332.30" y2="56.33" stroke="#161616" stroke-width="1.0"/>
<text x="326.90" y="58.33" font-size="5.9" text-anchor="end" fill="#222" stroke="#222" stroke-width="0.14">10</text>
<line x1="329.30" y1="20.80" x2="332.30" y2="20.80" stroke="#161616" stroke-width="1.0"/>
<text x="326.90" y="22.80" font-size="5.9" text-anchor="end" fill="#222" stroke="#222" stroke-width="0.14">15</text>
<rect x="342.00" y="90.45" width="15.60" height="36.95" fill="#8996ba" stroke="none" stroke-width="1"/>
<line x1="349.80" y1="127.40" x2="349.80" y2="129.60" stroke="#111" stroke-width="0.9"/>
<line x1="349.80" y1="82.63" x2="349.80" y2="96.84" stroke="#1d3463" stroke-width="0.9"/>
<line x1="345.80" y1="82.63" x2="353.80" y2="82.63" stroke="#1d3463" stroke-width="0.9"/>
<line x1="345.80" y1="96.84" x2="353.80" y2="96.84" stroke="#1d3463" stroke-width="0.9"/>
<circle cx="349.80" cy="91.87" r="1.7" fill="#172d58"/>
<circle cx="349.80" cy="97.55" r="1.7" fill="#172d58"/>
<circle cx="349.80" cy="83.34" r="1.7" fill="#172d58"/>
<rect x="368.20" y="62.02" width="15.80" height="65.38" fill="#dcaf81" stroke="none" stroke-width="1"/>
<line x1="376.10" y1="127.40" x2="376.10" y2="129.60" stroke="#111" stroke-width="0.9"/>
<line x1="376.10" y1="54.91" x2="376.10" y2="69.13" stroke="#b27a45" stroke-width="0.9"/>
<line x1="372.10" y1="54.91" x2="380.10" y2="54.91" stroke="#b27a45" stroke-width="0.9"/>
<line x1="372.10" y1="69.13" x2="380.10" y2="69.13" stroke="#b27a45" stroke-width="0.9"/>
<circle cx="372.60" cy="54.91" r="1.7" fill="#c0691d"/>
<circle cx="378.60" cy="58.47" r="1.7" fill="#c0691d"/>
<circle cx="376.10" cy="70.55" r="1.7" fill="#c0691d"/>
<text x="0.00" y="0.00" font-size="7.6" text-anchor="middle" fill="#1a1a1a" transform="translate(313.70,73.50) rotate(-90) scale(0.74,1)" stroke="#1a1a1a" stroke-width="0.3">%CD 69 positive</text>
<text x="362.10" y="13.70" font-size="8.25" text-anchor="middle" fill="#1a1a1a" stroke="#1a1a1a" stroke-width="0.14">S/R: 0.5:1</text>
<path d="M349.4,77.2 V42.3 H375.6 V48.8" fill="none" stroke="#111" stroke-width="0.9"/>
<text x="362.60" y="40.60" font-size="5.5" text-anchor="middle" fill="#222" stroke="#222" stroke-width="0.14">**</text>
<text x="350.00" y="139.00" font-size="6.2" text-anchor="middle" fill="#222" stroke="#222" stroke-width="0.14">CT</text>
<text x="376.00" y="139.00" font-size="6.2" text-anchor="middle" fill="#222" stroke="#222" stroke-width="0.14">Mito</text>
<text x="376.00" y="146.80" font-size="6.2" text-anchor="middle" fill="#222" stroke="#222" stroke-width="0.14">4µg</text>
<line x1="445.40" y1="25.90" x2="445.40" y2="128.10" stroke="#161616" stroke-width="1.2"/>
<line x1="444.80" y1="127.60" x2="516.50" y2="127.60" stroke="#161616" stroke-width="1.2"/>
<line x1="442.40" y1="127.60" x2="445.40" y2="127.60" stroke="#161616" stroke-width="1.0"/>
<text x="440.00" y="129.60" font-size="5.9" text-anchor="end" fill="#222" stroke="#222" stroke-width="0.14">0.0</text>
<line x1="442.40" y1="94.70" x2="445.40" y2="94.70" stroke="#161616" stroke-width="1.0"/>
<text x="440.00" y="96.70" font-size="5.9" text-anchor="end" fill="#222" stroke="#222" stroke-width="0.14">0.5</text>
<line x1="442.40" y1="61.80" x2="445.40" y2="61.80" stroke="#161616" stroke-width="1.0"/>
<text x="440.00" y="63.80" font-size="5.9" text-anchor="end" fill="#222" stroke="#222" stroke-width="0.14">1.0</text>
<line x1="442.40" y1="28.90" x2="445.40" y2="28.90" stroke="#161616" stroke-width="1.0"/>
<text x="440.00" y="30.90" font-size="5.9" text-anchor="end" fill="#222" stroke="#222" stroke-width="0.14">1.5</text>
<rect x="456.00" y="61.80" width="18.00" height="65.80" fill="#8996ba" stroke="none" stroke-width="1"/>
<line x1="465.00" y1="127.60" x2="465.00" y2="129.80" stroke="#111" stroke-width="0.9"/>
<circle cx="457.00" cy="61.80" r="1.45" fill="#172d58"/>
<circle cx="460.20" cy="61.80" r="1.45" fill="#172d58"/>
<circle cx="463.40" cy="61.80" r="1.45" fill="#172d58"/>
<circle cx="466.60" cy="61.80" r="1.45" fill="#172d58"/>
<circle cx="469.80" cy="61.80" r="1.45" fill="#172d58"/>
<circle cx="473.00" cy="61.80" r="1.45" fill="#172d58"/>
<rect x="485.60" y="45.68" width="17.60" height="81.92" fill="#dcaf81" stroke="none" stroke-width="1"/>
<line x1="494.40" y1="127.60" x2="494.40" y2="129.80" stroke="#111" stroke-width="0.9"/>
<line x1="494.40" y1="41.47" x2="494.40" y2="49.43" stroke="#b27a45" stroke-width="0.9"/>
<line x1="490.40" y1="41.47" x2="498.40" y2="41.47" stroke="#b27a45" stroke-width="0.9"/>
<line x1="490.40" y1="49.43" x2="498.40" y2="49.43" stroke="#b27a45" stroke-width="0.9"/>
<circle cx="490.70" cy="41.01" r="1.45" fill="#c0691d"/>
<circle cx="497.00" cy="39.95" r="1.45" fill="#c0691d"/>
<circle cx="490.70" cy="45.68" r="1.45" fill="#c0691d"/>
<circle cx="497.00" cy="44.96" r="1.45" fill="#c0691d"/>
<circle cx="490.70" cy="49.36" r="1.45" fill="#c0691d"/>
<circle cx="497.00" cy="49.36" r="1.45" fill="#c0691d"/>
<text x="0.00" y="0.00" font-size="7.6" text-anchor="middle" fill="#1a1a1a" transform="translate(425.30,76.90) rotate(-90) scale(0.77,1)" stroke="#1a1a1a" stroke-width="0.3">MFI (fold change)</text>
<text x="479.80" y="14.70" font-size="8.3" text-anchor="middle" fill="#1a1a1a" stroke="#1a1a1a" stroke-width="0.14">CD8-CD25</text>
<path d="M464.8,56.0 V28.2 H494.7 V33.8" fill="none" stroke="#222" stroke-width="1.0"/>
<text x="479.50" y="27.30" font-size="5.6" text-anchor="middle" fill="#222" stroke="#222" stroke-width="0.14">****</text>
<text x="464.00" y="139.00" font-size="6.2" text-anchor="middle" fill="#222" stroke="#222" stroke-width="0.14">CT</text>
<text x="495.00" y="139.00" font-size="6.2" text-anchor="middle" fill="#222" stroke="#222" stroke-width="0.14">Mito</text>
<text x="495.00" y="146.80" font-size="6.2" text-anchor="middle" fill="#222" stroke="#222" stroke-width="0.14">4µg</text>
<rect x="51.00" y="210.80" width="55.50" height="88.00" fill="#fff" stroke="#8e8e8e" stroke-width="1.2"/>
<line x1="51.60" y1="210.80" x2="51.60" y2="298.80" stroke="#a8a8a8" stroke-width="1.7"/>
<line x1="50.50" y1="298.80" x2="107.00" y2="298.80" stroke="#333" stroke-width="1.1"/>
<rect x="141.00" y="210.80" width="55.20" height="88.00" fill="#fff" stroke="#8e8e8e" stroke-width="1.2"/>
<line x1="141.60" y1="210.80" x2="141.60" y2="298.80" stroke="#a8a8a8" stroke-width="1.7"/>
<line x1="140.50" y1="298.80" x2="196.70" y2="298.80" stroke="#333" stroke-width="1.1"/>
<rect x="231.00" y="210.80" width="54.60" height="88.00" fill="#fff" stroke="#8e8e8e" stroke-width="1.2"/>
<line x1="231.60" y1="210.80" x2="231.60" y2="298.80" stroke="#a8a8a8" stroke-width="1.7"/>
<line x1="230.50" y1="298.80" x2="286.10" y2="298.80" stroke="#333" stroke-width="1.1"/>
<path d="M80.5,298.8 L80.50,298.40 L81.30,297.50 L82.00,294.58 L83.00,286.37 L84.00,278.83 L85.00,263.45 L86.00,249.31 L86.65,245.19 L87.30,241.37 L87.90,233.83 L88.50,226.42 L89.30,218.86 L90.20,227.06 L91.00,234.14 L91.80,228.48 L92.70,224.67 L93.50,231.04 L94.30,238.68 L95.20,246.53 L96.00,254.49 L96.70,261.18 L97.50,264.51 L98.30,268.20 L99.20,272.70 L100.00,276.87 L100.70,279.87 L101.50,284.11 L102.30,278.84 L103.30,282.17 L104.00,287.77 L104.80,283.51 L105.50,290.48 L106.20,296.70 L106.2,298.8 Z" fill="#e4e4e4" stroke="none" stroke-width="1"/>
<path d="M51.50,298.60 L52.10,298.60 L52.71,298.60 L53.31,298.60 L53.92,298.60 L54.52,298.60 L55.12,298.60 L55.73,298.60 L56.33,298.60 L56.94,298.60 L57.54,298.60 L58.15,298.60 L58.75,298.60 L59.35,298.60 L59.96,298.60 L60.56,298.60 L61.17,298.60 L61.77,298.60 L62.38,298.60 L62.98,298.60 L63.58,298.60 L64.19,298.60 L64.79,298.60 L65.40,298.60 L66.00,298.60 L67.00,297.60 L68.00,298.60 L68.62,298.59 L69.25,298.58 L69.88,298.57 L70.50,298.56 L71.12,298.55 L71.75,298.54 L72.38,298.53 L73.00,298.52 L73.62,298.51 L74.25,298.50 L74.88,298.49 L75.50,298.48 L76.12,298.47 L76.75,298.46 L77.38,298.45 L78.00,298.44 L78.62,298.43 L79.25,298.42 L79.88,298.41 L80.50,298.40 L81.30,297.50 L82.00,294.58 L83.00,286.37 L84.00,278.83 L85.00,263.45 L86.00,249.31 L86.65,245.19 L87.30,241.37 L87.90,233.83 L88.50,226.42 L89.30,218.86 L90.20,227.06 L91.00,234.14 L91.80,228.48 L92.70,224.67 L93.50,231.04 L94.30,238.68 L95.20,246.53 L96.00,254.49 L96.70,261.18 L97.50,264.51 L98.30,268.20 L99.20,272.70 L100.00,276.87 L100.70,279.87 L101.50,284.11 L102.30,278.84 L103.30,282.17 L104.00,287.77 L104.80,283.51 L105.50,290.48 L106.20,296.70" fill="none" stroke="#111" stroke-width="1.35" stroke-linejoin="round"/>
<path d="M172.3,298.8 L172.30,287.21 L173.30,283.65 L174.30,263.05 L175.30,252.25 L176.50,242.59 L177.25,239.12 L178.00,234.27 L178.75,231.65 L179.50,228.55 L180.15,225.72 L180.80,223.81 L181.60,225.53 L182.30,221.00 L183.00,222.89 L183.80,220.52 L184.60,227.14 L185.50,232.30 L186.50,238.25 L187.60,242.77 L188.30,247.23 L189.00,252.45 L190.00,257.97 L191.00,262.74 L191.75,267.97 L192.50,273.29 L193.10,276.38 L193.70,281.67 L194.30,284.33 L195.15,288.10 L196.00,290.50 L196.0,298.8 Z" fill="#e4e4e4" stroke="none" stroke-width="1"/>
<path d="M152.10,286.17 L152.60,285.34 L153.20,290.41 L153.80,291.79 L154.40,292.67 L155.00,294.09 L155.60,293.24 L156.20,294.25 L156.80,295.32 L157.40,295.31 L158.00,296.06 L158.67,295.13 L159.33,295.79 L160.00,295.65 L160.67,296.23 L161.33,296.44 L162.00,295.82 L162.67,296.09 L163.33,296.16 L164.00,297.03 L164.67,296.81 L165.33,295.94 L166.00,296.82 L166.60,295.61 L167.20,296.00 L167.80,295.04 L168.40,294.58 L169.00,295.52 L169.67,293.59 L170.33,292.60 L171.00,292.68 L171.65,290.27 L172.30,287.21 L173.30,283.65 L174.30,263.05 L175.30,252.25 L176.50,242.59 L177.25,239.12 L178.00,234.27 L178.75,231.65 L179.50,228.55 L180.15,225.72 L180.80,223.81 L181.60,225.53 L182.30,221.00 L183.00,222.89 L183.80,220.52 L184.60,227.14 L185.50,232.30 L186.50,238.25 L187.60,242.77 L188.30,247.23 L189.00,252.45 L190.00,257.97 L191.00,262.74 L191.75,267.97 L192.50,273.29 L193.10,276.38 L193.70,281.67 L194.30,284.33 L195.15,288.10 L196.00,290.50" fill="none" stroke="#1a1a1a" stroke-width="1.0" stroke-linejoin="round"/>
<line x1="241.70" y1="219.00" x2="241.70" y2="283.00" stroke="#444" stroke-width="0.75"/>
<path d="M259.9,298.8 L259.90,292.93 L261.00,287.51 L262.10,280.54 L263.20,270.16 L264.30,258.45 L265.40,246.54 L266.50,236.61 L267.60,231.64 L268.30,228.69 L268.90,230.83 L269.50,228.02 L270.20,230.99 L271.00,232.02 L272.00,239.17 L273.20,247.84 L274.00,253.17 L274.80,258.57 L275.65,262.23 L276.50,267.43 L277.35,271.92 L278.20,275.77 L279.00,279.61 L279.80,282.51 L280.48,285.08 L281.15,286.28 L281.82,287.42 L282.50,289.70 L283.23,290.40 L283.95,291.39 L284.67,292.86 L285.40,294.00 L285.4,298.8 Z" fill="#e4e4e4" stroke="none" stroke-width="1"/>
<path d="M241.70,282.35 L242.30,286.89 L243.20,289.68 L244.00,291.06 L244.80,292.40 L245.70,294.35 L246.60,295.26 L247.23,295.83 L247.86,295.58 L248.49,296.27 L249.11,295.88 L249.74,296.73 L250.37,296.86 L251.00,296.70 L251.61,296.80 L252.22,296.93 L252.83,296.30 L253.44,296.69 L254.06,296.94 L254.67,296.25 L255.28,296.85 L255.89,296.67 L256.50,296.81 L257.18,295.52 L257.86,294.55 L258.54,294.72 L259.22,294.05 L259.90,292.93 L261.00,287.51 L262.10,280.54 L263.20,270.16 L264.30,258.45 L265.40,246.54 L266.50,236.61 L267.60,231.64 L268.30,228.69 L268.90,230.83 L269.50,228.02 L270.20,230.99 L271.00,232.02 L272.00,239.17 L273.20,247.84 L274.00,253.17 L274.80,258.57 L275.65,262.23 L276.50,267.43 L277.35,271.92 L278.20,275.77 L279.00,279.61 L279.80,282.51 L280.48,285.08 L281.15,286.28 L281.82,287.42 L282.50,289.70 L283.23,290.40 L283.95,291.39 L284.67,292.86 L285.40,294.00" fill="none" stroke="#1a1a1a" stroke-width="0.95" stroke-linejoin="round"/>
<text x="47.20" y="212.90" font-size="6.1" text-anchor="end" fill="#222" stroke="#222" stroke-width="0.14">89</text>
<line x1="49.20" y1="210.80" x2="51.00" y2="210.80" stroke="#333" stroke-width="0.8"/>
<text x="47.20" y="261.35" font-size="6.1" text-anchor="end" fill="#222" stroke="#222" stroke-width="0.14">40</text>
<line x1="49.20" y1="259.25" x2="51.00" y2="259.25" stroke="#333" stroke-width="0.8"/>
<text x="47.20" y="300.90" font-size="6.1" text-anchor="end" fill="#222" stroke="#222" stroke-width="0.14">0</text>
<line x1="49.20" y1="298.80" x2="51.00" y2="298.80" stroke="#333" stroke-width="0.8"/>
<text x="137.20" y="212.90" font-size="6.1" text-anchor="end" fill="#222" stroke="#222" stroke-width="0.14">304</text>
<line x1="139.20" y1="210.80" x2="141.00" y2="210.80" stroke="#333" stroke-width="0.8"/>
<text x="137.20" y="243.01" font-size="6.1" text-anchor="end" fill="#222" stroke="#222" stroke-width="0.14">200</text>
<line x1="139.20" y1="240.91" x2="141.00" y2="240.91" stroke="#333" stroke-width="0.8"/>
<text x="137.20" y="271.95" font-size="6.1" text-anchor="end" fill="#222" stroke="#222" stroke-width="0.14">100</text>
<line x1="139.20" y1="269.85" x2="141.00" y2="269.85" stroke="#333" stroke-width="0.8"/>
<text x="137.20" y="300.90" font-size="6.1" text-anchor="end" fill="#222" stroke="#222" stroke-width="0.14">0</text>
<line x1="139.20" y1="298.80" x2="141.00" y2="298.80" stroke="#333" stroke-width="0.8"/>
<text x="227.20" y="212.90" font-size="6.1" text-anchor="end" fill="#222" stroke="#222" stroke-width="0.14">552</text>
<line x1="229.20" y1="210.80" x2="231.00" y2="210.80" stroke="#333" stroke-width="0.8"/>
<text x="227.20" y="237.13" font-size="6.1" text-anchor="end" fill="#222" stroke="#222" stroke-width="0.14">400</text>
<line x1="229.20" y1="235.03" x2="231.00" y2="235.03" stroke="#333" stroke-width="0.8"/>
<text x="227.20" y="269.02" font-size="6.1" text-anchor="end" fill="#222" stroke="#222" stroke-width="0.14">200</text>
<line x1="229.20" y1="266.92" x2="231.00" y2="266.92" stroke="#333" stroke-width="0.8"/>
<text x="227.20" y="300.90" font-size="6.1" text-anchor="end" fill="#222" stroke="#222" stroke-width="0.14">0</text>
<line x1="229.20" y1="298.80" x2="231.00" y2="298.80" stroke="#333" stroke-width="0.8"/>
<text x="51.60" y="308.00" font-size="6.1" text-anchor="middle" fill="#222" stroke="#222" stroke-width="0.14">−40.9</text>
<text x="106.30" y="308.00" font-size="6.1" text-anchor="middle" fill="#222" stroke="#222" stroke-width="0.14">167.7</text>
<text x="142.50" y="308.00" font-size="6.1" text-anchor="middle" fill="#222" stroke="#222" stroke-width="0.14">−40.9</text>
<text x="153.00" y="308.00" font-size="6.1" text-anchor="middle" fill="#222" stroke="#222" stroke-width="0.14">0</text>
<text x="173.30" y="308.00" font-size="6.1" text-anchor="middle" fill="#222" stroke="#222" stroke-width="0.14">80</text>
<text x="193.50" y="308.00" font-size="6.1" text-anchor="middle" fill="#222" stroke="#222" stroke-width="0.14">167.7</text>
<text x="233.00" y="308.00" font-size="6.1" text-anchor="middle" fill="#222" stroke="#222" stroke-width="0.14">−40.9</text>
<text x="286.00" y="308.00" font-size="6.1" text-anchor="middle" fill="#222" stroke="#222" stroke-width="0.14">67.7</text>
<line x1="51.00" y1="298.80" x2="51.00" y2="300.60" stroke="#333" stroke-width="0.8"/>
<line x1="106.50" y1="298.80" x2="106.50" y2="300.60" stroke="#333" stroke-width="0.8"/>
<line x1="141.00" y1="298.80" x2="141.00" y2="300.60" stroke="#333" stroke-width="0.8"/>
<line x1="152.50" y1="298.80" x2="152.50" y2="300.60" stroke="#333" stroke-width="0.8"/>
<line x1="172.80" y1="298.80" x2="172.80" y2="300.60" stroke="#333" stroke-width="0.8"/>
<line x1="196.20" y1="298.80" x2="196.20" y2="300.60" stroke="#333" stroke-width="0.8"/>
<line x1="231.00" y1="298.80" x2="231.00" y2="300.60" stroke="#333" stroke-width="0.8"/>
<line x1="285.60" y1="298.80" x2="285.60" y2="300.60" stroke="#333" stroke-width="0.8"/>
<line x1="58.60" y1="259.60" x2="83.40" y2="259.60" stroke="#666" stroke-width="0.9"/>
<line x1="58.60" y1="256.80" x2="58.60" y2="262.40" stroke="#666" stroke-width="0.9"/>
<line x1="83.40" y1="256.80" x2="83.40" y2="262.40" stroke="#666" stroke-width="0.9"/>
<line x1="148.80" y1="259.80" x2="172.60" y2="259.80" stroke="#666" stroke-width="0.9"/>
<line x1="148.80" y1="257.00" x2="148.80" y2="262.60" stroke="#666" stroke-width="0.9"/>
<line x1="172.60" y1="257.00" x2="172.60" y2="262.60" stroke="#666" stroke-width="0.9"/>
<line x1="238.00" y1="259.20" x2="262.60" y2="259.20" stroke="#666" stroke-width="0.9"/>
<line x1="238.00" y1="256.40" x2="238.00" y2="262.00" stroke="#666" stroke-width="0.9"/>
<line x1="262.60" y1="256.40" x2="262.60" y2="262.00" stroke="#666" stroke-width="0.9"/>
<text x="73.00" y="221.60" font-size="6.0" text-anchor="middle" fill="#222" stroke="#222" stroke-width="0.14">1.6%</text>
<text x="164.40" y="222.20" font-size="6.0" text-anchor="middle" fill="#222" stroke="#222" stroke-width="0.14">6.8%</text>
<text x="256.00" y="222.20" font-size="6.0" text-anchor="middle" fill="#222" stroke="#222" stroke-width="0.14">15.8%</text>
<text x="78.80" y="189.70" font-size="7.8" text-anchor="middle" fill="#1a1a1a" stroke="#1a1a1a" stroke-width="0.14">T-cells</text>
<text x="78.80" y="199.40" font-size="7.7" text-anchor="middle" fill="#1a1a1a" stroke="#1a1a1a" stroke-width="0.14">(no stimulation)</text>
<text x="213.60" y="183.80" font-size="8.0" text-anchor="middle" fill="#1a1a1a" stroke="#1a1a1a" stroke-width="0.14">T-cells + splenocytes</text>
<line x1="141.00" y1="189.50" x2="286.00" y2="189.50" stroke="#333" stroke-width="0.9"/>
<text x="168.20" y="199.60" font-size="7.9" text-anchor="middle" fill="#1a1a1a" stroke="#1a1a1a" stroke-width="0.14">+Veh</text>
<text x="258.30" y="199.60" font-size="8.1" text-anchor="middle" fill="#1a1a1a" stroke="#1a1a1a" stroke-width="0.14">+Mito (4µg)</text>
<line x1="30.80" y1="211.50" x2="30.80" y2="308.80" stroke="#5a5a5a" stroke-width="1.2"/>
<path d="M28.60,212.50 L30.80,207.50 L33.00,212.50 Z" fill="#5a5a5a" stroke="none" stroke-width="1"/>
<text x="0.00" y="0.00" font-size="7.6" text-anchor="middle" fill="#1a1a1a" transform="translate(26.00,257.70) rotate(-90) scale(0.71,1)" stroke="#1a1a1a" stroke-width="0.3">Count</text>
<line x1="31.00" y1="318.70" x2="282.50" y2="318.70" stroke="#5a5a5a" stroke-width="1.2"/>
<path d="M281.50,316.50 L286.50,318.70 L281.50,320.90 Z" fill="#5a5a5a" stroke="none" stroke-width="1"/>
<text x="0.00" y="0.00" font-size="7.6" text-anchor="middle" fill="#1a1a1a" transform="translate(158.60,328.40) scale(0.75,1)" stroke="#1a1a1a" stroke-width="0.3">Cell proliferation dye e-Fluor 670</text>
<line x1="333.00" y1="193.50" x2="333.00" y2="304.00" stroke="#161616" stroke-width="1.2"/>
<line x1="332.40" y1="303.50" x2="392.50" y2="303.50" stroke="#161616" stroke-width="1.2"/>
<line x1="330.00" y1="303.50" x2="333.00" y2="303.50" stroke="#161616" stroke-width="1.0"/>
<text x="327.60" y="305.50" font-size="5.9" text-anchor="end" fill="#222" stroke="#222" stroke-width="0.14">0.0</text>
<line x1="330.00" y1="276.75" x2="333.00" y2="276.75" stroke="#161616" stroke-width="1.0"/>
<text x="327.60" y="278.75" font-size="5.9" text-anchor="end" fill="#222" stroke="#222" stroke-width="0.14">0.5</text>
<line x1="330.00" y1="250.00" x2="333.00" y2="250.00" stroke="#161616" stroke-width="1.0"/>
<text x="327.60" y="252.00" font-size="5.9" text-anchor="end" fill="#222" stroke="#222" stroke-width="0.14">1.0</text>
<line x1="330.00" y1="223.25" x2="333.00" y2="223.25" stroke="#161616" stroke-width="1.0"/>
<text x="327.60" y="225.25" font-size="5.9" text-anchor="end" fill="#222" stroke="#222" stroke-width="0.14">1.5</text>
<line x1="330.00" y1="196.50" x2="333.00" y2="196.50" stroke="#161616" stroke-width="1.0"/>
<text x="327.60" y="198.50" font-size="5.9" text-anchor="end" fill="#222" stroke="#222" stroke-width="0.14">2.0</text>
<rect x="342.20" y="286.38" width="15.60" height="17.12" fill="#8996ba" stroke="none" stroke-width="1"/>
<line x1="350.00" y1="303.50" x2="350.00" y2="305.70" stroke="#111" stroke-width="0.9"/>
<line x1="350.00" y1="278.36" x2="350.00" y2="294.40" stroke="#1d3463" stroke-width="0.9"/>
<line x1="346.00" y1="278.36" x2="354.00" y2="278.36" stroke="#1d3463" stroke-width="0.9"/>
<line x1="346.00" y1="294.40" x2="354.00" y2="294.40" stroke="#1d3463" stroke-width="0.9"/>
<circle cx="350.00" cy="278.36" r="1.7" fill="#172d58"/>
<circle cx="350.00" cy="286.38" r="1.7" fill="#172d58"/>
<circle cx="350.00" cy="293.87" r="1.7" fill="#172d58"/>
<rect x="368.20" y="241.44" width="15.90" height="62.06" fill="#dcaf81" stroke="none" stroke-width="1"/>
<line x1="376.15" y1="303.50" x2="376.15" y2="305.70" stroke="#111" stroke-width="0.9"/>
<line x1="376.15" y1="207.74" x2="376.15" y2="273.54" stroke="#b27a45" stroke-width="0.9"/>
<line x1="372.15" y1="207.74" x2="380.15" y2="207.74" stroke="#b27a45" stroke-width="0.9"/>
<line x1="372.15" y1="273.54" x2="380.15" y2="273.54" stroke="#b27a45" stroke-width="0.9"/>
<circle cx="376.15" cy="203.45" r="1.7" fill="#c0691d"/>
<circle cx="373.15" cy="259.63" r="1.7" fill="#c0691d"/>
<circle cx="379.15" cy="259.10" r="1.7" fill="#c0691d"/>
<text x="0.00" y="0.00" font-size="7.6" text-anchor="middle" fill="#1a1a1a" transform="translate(312.30,249.30) rotate(-90) scale(0.75,1)" stroke="#1a1a1a" stroke-width="0.3">Relative proliferation index</text>
<text x="362.10" y="184.50" font-size="8.25" text-anchor="middle" fill="#1a1a1a" stroke="#1a1a1a" stroke-width="0.14">S/R: 0.5:1</text>
<path d="M349.8,272.0 V193.7 H375.8 V198.0" fill="none" stroke="#111" stroke-width="0.9"/>
<text x="363.00" y="193.00" font-size="5.5" text-anchor="middle" fill="#222" stroke="#222" stroke-width="0.14">*</text>
<text x="350.00" y="315.30" font-size="6.2" text-anchor="middle" fill="#222" stroke="#222" stroke-width="0.14">CT</text>
<text x="376.00" y="315.30" font-size="6.2" text-anchor="middle" fill="#222" stroke="#222" stroke-width="0.14">Mito</text>
<text x="376.00" y="323.10" font-size="6.2" text-anchor="middle" fill="#222" stroke="#222" stroke-width="0.14">4µg</text>
<line x1="445.40" y1="198.50" x2="445.40" y2="304.10" stroke="#161616" stroke-width="1.2"/>
<line x1="444.80" y1="303.60" x2="516.50" y2="303.60" stroke="#161616" stroke-width="1.2"/>
<line x1="442.40" y1="303.60" x2="445.40" y2="303.60" stroke="#161616" stroke-width="1.0"/>
<text x="440.00" y="305.60" font-size="5.9" text-anchor="end" fill="#222" stroke="#222" stroke-width="0.14">0.0</text>
<line x1="442.40" y1="269.57" x2="445.40" y2="269.57" stroke="#161616" stroke-width="1.0"/>
<text x="440.00" y="271.57" font-size="5.9" text-anchor="end" fill="#222" stroke="#222" stroke-width="0.14">0.5</text>
<line x1="442.40" y1="235.53" x2="445.40" y2="235.53" stroke="#161616" stroke-width="1.0"/>
<text x="440.00" y="237.53" font-size="5.9" text-anchor="end" fill="#222" stroke="#222" stroke-width="0.14">1.0</text>
<line x1="442.40" y1="201.50" x2="445.40" y2="201.50" stroke="#161616" stroke-width="1.0"/>
<text x="440.00" y="203.50" font-size="5.9" text-anchor="end" fill="#222" stroke="#222" stroke-width="0.14">1.5</text>
<rect x="456.00" y="235.53" width="18.00" height="68.07" fill="#8996ba" stroke="none" stroke-width="1"/>
<line x1="465.00" y1="303.60" x2="465.00" y2="305.80" stroke="#111" stroke-width="0.9"/>
<circle cx="457.00" cy="235.53" r="1.45" fill="#172d58"/>
<circle cx="460.20" cy="235.53" r="1.45" fill="#172d58"/>
<circle cx="463.40" cy="235.53" r="1.45" fill="#172d58"/>
<circle cx="466.60" cy="235.53" r="1.45" fill="#172d58"/>
<circle cx="469.80" cy="235.53" r="1.45" fill="#172d58"/>
<circle cx="473.00" cy="235.53" r="1.45" fill="#172d58"/>
<rect x="485.60" y="223.96" width="17.60" height="79.64" fill="#dcaf81" stroke="none" stroke-width="1"/>
<line x1="494.40" y1="303.60" x2="494.40" y2="305.80" stroke="#111" stroke-width="0.9"/>
<line x1="494.40" y1="218.52" x2="494.40" y2="229.00" stroke="#b27a45" stroke-width="0.9"/>
<line x1="490.40" y1="218.52" x2="498.40" y2="218.52" stroke="#b27a45" stroke-width="0.9"/>
<line x1="490.40" y1="229.00" x2="498.40" y2="229.00" stroke="#b27a45" stroke-width="0.9"/>
<circle cx="490.70" cy="218.58" r="1.45" fill="#c0691d"/>
<circle cx="497.00" cy="217.29" r="1.45" fill="#c0691d"/>
<circle cx="490.70" cy="223.89" r="1.45" fill="#c0691d"/>
<circle cx="497.00" cy="223.01" r="1.45" fill="#c0691d"/>
<circle cx="490.70" cy="229.95" r="1.45" fill="#c0691d"/>
<circle cx="497.00" cy="227.57" r="1.45" fill="#c0691d"/>
<text x="0.00" y="0.00" font-size="7.6" text-anchor="middle" fill="#1a1a1a" transform="translate(425.30,251.50) rotate(-90) scale(0.77,1)" stroke="#1a1a1a" stroke-width="0.3">MFI (fold change)</text>
<text x="479.80" y="184.60" font-size="8.3" text-anchor="middle" fill="#1a1a1a" stroke="#1a1a1a" stroke-width="0.14">CD4-CD25</text>
<path d="M464.8,229.7 V205.1 H494.7 V210.6" fill="none" stroke="#222" stroke-width="1.0"/>
<text x="479.60" y="202.90" font-size="5.6" text-anchor="middle" fill="#222" stroke="#222" stroke-width="0.14">***</text>
<text x="464.00" y="315.30" font-size="6.2" text-anchor="middle" fill="#222" stroke="#222" stroke-width="0.14">CT</text>
<text x="495.00" y="315.30" font-size="6.2" text-anchor="middle" fill="#222" stroke="#222" stroke-width="0.14">Mito</text>
<text x="495.00" y="323.10" font-size="6.2" text-anchor="middle" fill="#222" stroke="#222" stroke-width="0.14">4µg</text>
<rect x="70.00" y="360.70" width="118.40" height="100.50" fill="#fff" stroke="#6a6a6a" stroke-width="1.1"/>
<ellipse cx="141" cy="379.0" rx="21" ry="3.3" fill="#1c1c86" fill-opacity="0.6"/>
<ellipse cx="146" cy="379.0" rx="15" ry="3.0" fill="#1c1c86" fill-opacity="0.75"/>
<ellipse cx="150" cy="379.0" rx="9" ry="2.8" fill="#1c1c86" fill-opacity="0.8"/>
<path d="M128.1,379.6h1v1h-1zM151.4,378.0h1v1h-1zM127.0,378.8h1v1h-1zM146.0,380.9h1v1h-1zM128.2,376.6h1v1h-1zM148.4,379.8h1v1h-1zM157.1,380.7h1v1h-1zM139.9,378.4h1v1h-1zM168.0,378.4h1v1h-1zM132.8,376.9h1v1h-1zM142.0,379.2h1v1h-1zM137.4,378.8h1v1h-1zM143.9,380.1h1v1h-1zM152.5,379.3h1v1h-1zM122.2,380.2h1v1h-1zM126.1,378.6h1v1h-1zM125.5,378.9h1v1h-1zM132.8,379.3h1v1h-1zM175.7,378.8h1v1h-1zM149.8,376.5h1v1h-1zM138.0,380.1h1v1h-1zM140.0,379.6h1v1h-1zM142.1,377.1h1v1h-1zM146.9,377.4h1v1h-1zM160.7,378.0h1v1h-1zM148.2,378.9h1v1h-1zM151.0,377.8h1v1h-1zM151.5,378.7h1v1h-1zM154.3,380.0h1v1h-1zM142.5,377.5h1v1h-1zM149.1,379.7h1v1h-1zM158.2,378.2h1v1h-1zM146.8,379.8h1v1h-1zM144.0,379.3h1v1h-1zM142.9,377.8h1v1h-1zM130.3,378.2h1v1h-1zM147.2,381.6h1v1h-1zM151.3,380.8h1v1h-1zM149.2,380.2h1v1h-1zM142.9,380.3h1v1h-1zM159.6,378.3h1v1h-1zM133.7,382.4h1v1h-1zM143.6,380.6h1v1h-1zM150.2,376.9h1v1h-1zM166.6,382.1h1v1h-1zM142.9,380.3h1v1h-1zM142.3,377.3h1v1h-1zM139.8,379.6h1v1h-1zM152.7,380.2h1v1h-1zM141.6,381.3h1v1h-1zM133.0,380.3h1v1h-1zM152.7,378.4h1v1h-1zM122.2,377.3h1v1h-1zM143.5,379.9h1v1h-1zM157.3,377.1h1v1h-1zM141.0,380.1h1v1h-1zM139.3,374.6h1v1h-1zM149.5,383.1h1v1h-1zM151.5,377.2h1v1h-1zM136.7,379.3h1v1h-1zM167.1,380.0h1v1h-1zM142.2,381.7h1v1h-1zM140.1,382.3h1v1h-1zM133.8,378.0h1v1h-1zM148.6,381.5h1v1h-1zM147.9,379.4h1v1h-1zM121.9,377.6h1v1h-1zM134.6,377.9h1v1h-1zM147.2,378.3h1v1h-1zM149.3,379.0h1v1h-1zM137.5,379.1h1v1h-1zM145.5,380.4h1v1h-1zM136.0,378.5h1v1h-1zM126.7,381.8h1v1h-1zM156.2,378.6h1v1h-1zM136.0,376.7h1v1h-1zM142.8,379.3h1v1h-1zM163.9,379.3h1v1h-1zM132.8,374.5h1v1h-1zM155.8,379.2h1v1h-1zM124.1,379.2h1v1h-1zM124.1,385.2h1v1h-1zM152.7,379.9h1v1h-1zM139.2,375.0h1v1h-1zM139.7,376.1h1v1h-1zM147.3,375.1h1v1h-1zM131.5,381.1h1v1h-1zM158.3,376.8h1v1h-1zM124.9,380.5h1v1h-1zM150.0,377.1h1v1h-1zM133.7,377.7h1v1h-1zM128.5,377.7h1v1h-1zM154.1,380.1h1v1h-1zM162.6,378.7h1v1h-1zM139.6,377.1h1v1h-1zM139.7,376.5h1v1h-1zM122.3,380.2h1v1h-1zM156.1,380.4h1v1h-1zM155.0,379.4h1v1h-1zM133.5,379.1h1v1h-1zM137.1,376.9h1v1h-1zM123.2,376.2h1v1h-1zM140.9,379.2h1v1h-1zM136.0,381.5h1v1h-1zM142.9,379.9h1v1h-1zM153.8,377.4h1v1h-1zM120.3,380.3h1v1h-1zM133.8,381.3h1v1h-1zM144.5,380.7h1v1h-1zM149.0,375.2h1v1h-1zM148.6,377.7h1v1h-1zM133.1,378.1h1v1h-1zM149.1,380.5h1v1h-1zM151.6,375.9h1v1h-1zM134.8,374.6h1v1h-1zM139.9,380.0h1v1h-1zM133.0,379.3h1v1h-1zM143.4,380.7h1v1h-1zM132.4,377.4h1v1h-1zM133.0,382.1h1v1h-1zM152.5,378.7h1v1h-1zM143.4,379.1h1v1h-1zM143.1,378.5h1v1h-1zM137.5,376.6h1v1h-1zM134.3,381.9h1v1h-1zM146.6,379.0h1v1h-1zM138.7,379.0h1v1h-1zM144.7,377.7h1v1h-1zM143.1,379.3h1v1h-1zM133.1,377.5h1v1h-1zM130.5,377.0h1v1h-1zM150.3,374.7h1v1h-1zM138.2,377.8h1v1h-1zM134.5,379.1h1v1h-1zM152.8,379.0h1v1h-1zM139.5,377.8h1v1h-1zM139.6,380.5h1v1h-1zM136.9,376.8h1v1h-1zM127.7,376.9h1v1h-1zM126.4,380.9h1v1h-1zM144.7,378.5h1v1h-1zM156.3,377.7h1v1h-1zM148.9,380.3h1v1h-1zM124.8,376.1h1v1h-1zM131.3,380.5h1v1h-1zM154.6,376.7h1v1h-1zM152.0,378.2h1v1h-1zM136.9,377.9h1v1h-1zM137.6,375.6h1v1h-1zM130.5,376.7h1v1h-1zM146.2,382.7h1v1h-1zM169.7,378.3h1v1h-1zM122.9,378.2h1v1h-1zM131.1,382.5h1v1h-1zM147.0,377.6h1v1h-1zM150.8,379.9h1v1h-1zM123.9,377.9h1v1h-1zM138.5,378.9h1v1h-1zM142.4,378.3h1v1h-1zM143.0,377.8h1v1h-1zM131.6,381.6h1v1h-1zM144.8,379.7h1v1h-1zM124.3,378.6h1v1h-1zM149.6,376.6h1v1h-1zM152.5,378.2h1v1h-1zM145.2,378.7h1v1h-1zM143.3,381.1h1v1h-1zM136.8,381.7h1v1h-1zM132.8,377.2h1v1h-1zM148.5,377.0h1v1h-1zM137.1,380.5h1v1h-1zM153.7,375.7h1v1h-1zM146.3,382.3h1v1h-1zM153.5,378.5h1v1h-1zM134.7,378.4h1v1h-1zM128.9,378.4h1v1h-1zM139.0,378.6h1v1h-1zM153.4,378.5h1v1h-1zM125.7,380.8h1v1h-1zM129.7,378.1h1v1h-1zM139.6,378.3h1v1h-1zM130.5,378.5h1v1h-1zM163.9,377.8h1v1h-1zM139.6,380.9h1v1h-1zM148.8,380.3h1v1h-1zM150.1,375.4h1v1h-1zM131.9,379.1h1v1h-1zM146.2,381.2h1v1h-1zM145.9,378.5h1v1h-1zM141.4,378.5h1v1h-1zM143.6,380.1h1v1h-1zM137.4,377.4h1v1h-1zM132.0,380.9h1v1h-1zM154.5,380.7h1v1h-1zM150.0,380.4h1v1h-1zM141.0,380.1h1v1h-1zM130.0,378.5h1v1h-1zM133.3,380.2h1v1h-1zM134.9,378.7h1v1h-1zM145.2,381.3h1v1h-1zM132.7,377.2h1v1h-1zM149.6,376.9h1v1h-1zM145.8,377.9h1v1h-1zM139.9,375.6h1v1h-1zM148.5,378.0h1v1h-1zM131.6,382.6h1v1h-1zM148.5,385.2h1v1h-1zM145.3,378.3h1v1h-1zM142.1,381.8h1v1h-1zM140.7,379.7h1v1h-1zM146.4,377.3h1v1h-1zM142.4,378.0h1v1h-1zM127.9,380.5h1v1h-1zM148.0,379.0h1v1h-1zM131.5,375.3h1v1h-1zM146.1,378.7h1v1h-1zM123.3,378.8h1v1h-1zM125.0,378.9h1v1h-1zM142.5,379.5h1v1h-1zM143.3,379.2h1v1h-1zM129.0,378.2h1v1h-1zM135.6,378.5h1v1h-1zM143.8,380.0h1v1h-1zM158.2,374.3h1v1h-1zM145.2,378.5h1v1h-1zM164.9,380.6h1v1h-1zM123.6,379.6h1v1h-1zM135.5,380.7h1v1h-1zM129.9,378.7h1v1h-1zM139.6,378.7h1v1h-1zM134.9,375.6h1v1h-1zM145.8,380.7h1v1h-1zM140.3,377.1h1v1h-1zM143.1,379.9h1v1h-1zM139.2,378.9h1v1h-1zM155.8,376.9h1v1h-1zM135.1,375.5h1v1h-1zM133.7,377.6h1v1h-1zM130.9,377.7h1v1h-1zM159.9,378.5h1v1h-1zM139.8,382.9h1v1h-1zM140.4,375.8h1v1h-1zM145.2,377.2h1v1h-1zM158.2,376.7h1v1h-1zM134.9,376.0h1v1h-1zM142.0,377.1h1v1h-1zM140.3,378.2h1v1h-1zM134.6,380.6h1v1h-1zM150.8,379.0h1v1h-1zM131.5,377.0h1v1h-1zM143.8,383.2h1v1h-1zM136.2,377.5h1v1h-1zM133.7,376.9h1v1h-1zM130.8,378.5h1v1h-1zM156.1,378.9h1v1h-1zM135.6,376.0h1v1h-1zM143.2,378.9h1v1h-1zM128.1,376.9h1v1h-1zM140.6,380.7h1v1h-1zM147.6,379.3h1v1h-1zM137.6,379.5h1v1h-1zM140.9,382.8h1v1h-1zM129.1,378.2h1v1h-1zM154.3,378.4h1v1h-1zM156.0,378.8h1v1h-1zM142.5,378.2h1v1h-1zM126.5,377.2h1v1h-1zM164.3,380.1h1v1h-1zM147.4,380.6h1v1h-1zM147.0,380.7h1v1h-1zM138.2,378.5h1v1h-1zM151.3,378.3h1v1h-1zM127.0,378.5h1v1h-1zM135.3,380.0h1v1h-1zM133.4,377.0h1v1h-1zM137.5,381.7h1v1h-1zM140.5,379.2h1v1h-1zM141.1,379.4h1v1h-1zM150.7,381.4h1v1h-1zM123.7,381.4h1v1h-1zM141.0,378.3h1v1h-1zM166.2,378.6h1v1h-1zM161.4,380.6h1v1h-1zM130.2,379.8h1v1h-1zM148.7,378.7h1v1h-1zM116.6,378.3h1v1h-1zM139.0,376.9h1v1h-1zM160.2,378.5h1v1h-1zM136.9,378.4h1v1h-1zM132.8,377.5h1v1h-1zM142.0,379.5h1v1h-1zM135.7,378.7h1v1h-1zM126.4,379.8h1v1h-1zM133.1,379.3h1v1h-1zM131.5,378.0h1v1h-1zM143.3,376.7h1v1h-1zM166.9,378.8h1v1h-1zM140.2,377.6h1v1h-1zM157.7,381.4h1v1h-1zM144.1,376.4h1v1h-1zM135.7,380.0h1v1h-1zM135.6,376.8h1v1h-1zM128.5,377.5h1v1h-1zM141.1,377.7h1v1h-1zM141.2,383.9h1v1h-1zM159.6,377.0h1v1h-1zM144.6,379.1h1v1h-1zM139.6,380.8h1v1h-1zM137.5,378.3h1v1h-1zM137.1,378.7h1v1h-1zM154.5,380.3h1v1h-1zM126.9,378.1h1v1h-1zM132.6,380.4h1v1h-1zM143.4,380.5h1v1h-1zM140.3,375.5h1v1h-1zM145.7,379.3h1v1h-1zM146.3,376.6h1v1h-1zM141.9,377.7h1v1h-1zM133.8,379.5h1v1h-1zM144.7,377.3h1v1h-1zM123.0,374.4h1v1h-1zM135.0,380.9h1v1h-1zM140.4,374.8h1v1h-1zM131.9,379.7h1v1h-1zM158.6,381.0h1v1h-1zM144.9,379.3h1v1h-1zM129.9,378.1h1v1h-1zM137.5,377.5h1v1h-1zM141.7,378.2h1v1h-1zM144.5,381.5h1v1h-1zM148.8,379.7h1v1h-1zM138.5,376.2h1v1h-1zM139.8,379.9h1v1h-1zM130.4,381.2h1v1h-1zM137.5,379.6h1v1h-1zM137.6,376.6h1v1h-1zM162.7,376.8h1v1h-1zM150.6,377.9h1v1h-1zM143.9,377.4h1v1h-1zM136.6,380.6h1v1h-1zM161.4,377.4h1v1h-1zM141.1,380.6h1v1h-1zM134.4,380.2h1v1h-1zM132.8,380.0h1v1h-1zM145.6,381.1h1v1h-1zM144.8,376.8h1v1h-1zM148.0,376.9h1v1h-1zM148.9,381.6h1v1h-1zM147.3,377.9h1v1h-1zM153.5,379.2h1v1h-1zM127.9,378.3h1v1h-1zM155.9,378.4h1v1h-1zM142.3,378.3h1v1h-1zM123.3,378.0h1v1h-1zM144.7,379.3h1v1h-1zM139.2,375.1h1v1h-1zM153.8,380.2h1v1h-1zM151.7,381.2h1v1h-1zM136.3,377.8h1v1h-1zM144.3,381.9h1v1h-1zM123.3,378.5h1v1h-1zM133.5,379.9h1v1h-1zM156.4,378.4h1v1h-1zM128.0,379.0h1v1h-1zM138.0,376.1h1v1h-1zM150.3,378.0h1v1h-1zM148.2,376.5h1v1h-1zM152.5,376.3h1v1h-1zM152.1,375.6h1v1h-1zM155.5,378.2h1v1h-1zM124.7,378.5h1v1h-1zM144.5,377.1h1v1h-1zM135.8,379.4h1v1h-1zM139.2,373.4h1v1h-1zM136.5,379.7h1v1h-1zM144.1,380.7h1v1h-1zM133.8,383.5h1v1h-1zM149.4,379.5h1v1h-1zM152.4,380.6h1v1h-1zM142.1,377.8h1v1h-1zM151.8,379.7h1v1h-1zM121.1,376.9h1v1h-1zM145.9,379.1h1v1h-1zM143.9,380.1h1v1h-1zM142.5,381.7h1v1h-1zM134.8,378.2h1v1h-1zM144.4,380.2h1v1h-1zM149.3,381.6h1v1h-1zM136.0,381.0h1v1h-1zM145.9,377.0h1v1h-1zM139.6,382.7h1v1h-1zM149.2,378.1h1v1h-1zM115.8,377.6h1v1h-1zM133.6,379.0h1v1h-1zM165.3,380.2h1v1h-1zM144.3,377.2h1v1h-1zM128.5,378.5h1v1h-1zM136.1,384.3h1v1h-1zM136.8,377.8h1v1h-1zM152.9,379.0h1v1h-1zM128.0,381.2h1v1h-1zM137.7,376.5h1v1h-1zM144.4,379.8h1v1h-1zM137.5,380.2h1v1h-1zM149.6,377.3h1v1h-1zM119.4,374.6h1v1h-1zM139.7,381.1h1v1h-1zM151.5,381.4h1v1h-1zM160.5,378.9h1v1h-1zM152.1,376.1h1v1h-1zM148.2,379.6h1v1h-1zM140.0,378.1h1v1h-1zM129.3,379.2h1v1h-1zM154.4,378.2h1v1h-1zM146.6,377.7h1v1h-1zM143.7,377.1h1v1h-1zM145.0,378.5h1v1h-1zM144.3,377.8h1v1h-1zM128.6,378.3h1v1h-1zM151.9,381.7h1v1h-1zM137.6,380.3h1v1h-1zM149.0,379.6h1v1h-1zM124.7,379.5h1v1h-1zM130.8,381.0h1v1h-1zM149.3,380.0h1v1h-1zM114.4,380.0h1v1h-1zM148.3,376.6h1v1h-1zM151.2,379.0h1v1h-1zM139.1,377.6h1v1h-1zM130.3,378.1h1v1h-1zM173.4,379.3h1v1h-1zM143.2,377.7h1v1h-1zM134.5,377.9h1v1h-1zM131.7,380.5h1v1h-1zM138.2,380.5h1v1h-1zM128.9,380.6h1v1h-1zM140.7,380.1h1v1h-1zM139.9,377.3h1v1h-1zM153.7,378.1h1v1h-1zM139.5,377.3h1v1h-1zM143.1,378.2h1v1h-1zM144.0,379.5h1v1h-1zM133.8,376.4h1v1h-1zM145.5,380.6h1v1h-1zM148.3,376.8h1v1h-1zM147.4,379.6h1v1h-1zM144.0,379.7h1v1h-1zM137.6,379.3h1v1h-1zM150.7,378.0h1v1h-1zM125.9,378.7h1v1h-1zM143.1,375.6h1v1h-1zM133.9,380.0h1v1h-1zM139.4,379.1h1v1h-1zM127.8,380.5h1v1h-1zM159.4,378.5h1v1h-1zM133.3,376.8h1v1h-1zM150.4,379.1h1v1h-1zM132.7,381.1h1v1h-1zM149.0,380.0h1v1h-1zM122.5,378.7h1v1h-1zM147.6,376.7h1v1h-1zM150.8,381.5h1v1h-1zM151.9,377.6h1v1h-1zM133.6,380.6h1v1h-1zM151.4,381.1h1v1h-1zM153.6,378.7h1v1h-1zM136.7,375.6h1v1h-1zM149.2,383.0h1v1h-1zM136.1,378.0h1v1h-1zM147.8,379.6h1v1h-1zM126.6,377.6h1v1h-1zM129.5,382.5h1v1h-1zM133.5,380.4h1v1h-1zM161.1,382.3h1v1h-1zM156.0,381.8h1v1h-1zM128.0,378.3h1v1h-1zM133.4,378.4h1v1h-1zM168.5,375.9h1v1h-1zM146.9,376.7h1v1h-1zM155.1,381.2h1v1h-1zM135.6,382.6h1v1h-1zM141.8,381.2h1v1h-1zM144.3,377.9h1v1h-1zM137.0,378.7h1v1h-1zM147.5,379.1h1v1h-1zM165.8,378.6h1v1h-1zM136.1,377.6h1v1h-1zM132.8,376.3h1v1h-1zM130.7,380.5h1v1h-1zM141.6,378.6h1v1h-1zM144.7,380.8h1v1h-1zM147.5,380.3h1v1h-1zM135.1,378.4h1v1h-1zM132.8,378.7h1v1h-1zM132.4,378.2h1v1h-1zM139.2,378.5h1v1h-1zM138.2,378.0h1v1h-1zM154.8,378.3h1v1h-1zM130.4,379.2h1v1h-1zM129.6,377.0h1v1h-1zM141.9,375.9h1v1h-1zM107.2,379.4h1v1h-1zM151.9,375.9h1v1h-1zM131.6,379.9h1v1h-1zM120.1,377.3h1v1h-1zM128.4,378.5h1v1h-1zM120.3,380.5h1v1h-1zM139.5,379.4h1v1h-1zM137.6,375.1h1v1h-1zM139.4,376.5h1v1h-1zM141.1,377.4h1v1h-1zM137.7,378.5h1v1h-1zM149.1,380.3h1v1h-1zM130.4,378.9h1v1h-1zM156.3,379.8h1v1h-1zM133.3,378.7h1v1h-1zM137.4,380.6h1v1h-1zM141.4,379.6h1v1h-1zM164.2,376.4h1v1h-1zM130.4,375.8h1v1h-1zM124.3,380.4h1v1h-1zM144.1,381.8h1v1h-1zM120.3,377.3h1v1h-1zM156.2,380.8h1v1h-1zM150.3,380.5h1v1h-1zM141.3,378.9h1v1h-1zM141.3,380.4h1v1h-1zM139.3,379.5h1v1h-1zM156.3,376.9h1v1h-1zM133.1,379.9h1v1h-1zM138.2,378.6h1v1h-1zM163.0,379.6h1v1h-1zM136.6,380.9h1v1h-1zM167.4,376.9h1v1h-1zM134.0,379.1h1v1h-1zM134.3,382.8h1v1h-1zM146.5,378.2h1v1h-1zM146.2,377.5h1v1h-1zM134.6,379.1h1v1h-1zM166.1,374.8h1v1h-1zM145.4,381.3h1v1h-1zM148.8,382.4h1v1h-1zM145.7,379.2h1v1h-1zM139.6,377.4h1v1h-1zM158.2,376.8h1v1h-1zM139.7,378.0h1v1h-1zM132.8,374.9h1v1h-1zM137.0,379.1h1v1h-1zM142.5,380.4h1v1h-1zM139.3,377.7h1v1h-1zM144.2,380.1h1v1h-1zM131.5,376.2h1v1h-1zM130.2,380.8h1v1h-1zM151.5,377.3h1v1h-1zM142.2,380.4h1v1h-1zM155.0,377.7h1v1h-1zM138.5,381.4h1v1h-1zM166.3,381.7h1v1h-1zM129.0,379.7h1v1h-1zM137.9,378.8h1v1h-1zM134.0,378.0h1v1h-1zM140.9,382.1h1v1h-1zM148.3,379.7h1v1h-1zM141.3,377.5h1v1h-1zM138.6,381.1h1v1h-1zM149.7,382.4h1v1h-1zM143.7,378.9h1v1h-1zM124.0,379.6h1v1h-1zM122.9,381.6h1v1h-1zM134.4,378.9h1v1h-1zM126.8,378.0h1v1h-1zM131.2,380.9h1v1h-1zM143.6,376.8h1v1h-1zM120.7,378.8h1v1h-1zM135.9,376.9h1v1h-1zM147.2,378.6h1v1h-1zM142.2,377.8h1v1h-1zM135.0,378.1h1v1h-1zM124.2,380.0h1v1h-1zM145.2,375.8h1v1h-1zM142.1,381.0h1v1h-1zM143.5,381.2h1v1h-1zM138.2,378.9h1v1h-1zM127.4,377.3h1v1h-1zM121.9,377.3h1v1h-1zM143.6,379.8h1v1h-1zM153.2,379.1h1v1h-1zM130.6,379.7h1v1h-1zM139.5,382.1h1v1h-1zM161.6,380.6h1v1h-1zM129.1,378.0h1v1h-1zM143.0,377.6h1v1h-1zM146.5,380.1h1v1h-1zM149.8,379.3h1v1h-1zM131.7,377.4h1v1h-1zM139.7,381.3h1v1h-1zM157.5,380.7h1v1h-1zM144.8,380.1h1v1h-1zM149.6,381.2h1v1h-1zM150.0,376.1h1v1h-1zM151.0,379.6h1v1h-1zM136.2,379.8h1v1h-1zM144.0,378.8h1v1h-1zM123.3,379.1h1v1h-1zM146.8,378.8h1v1h-1zM124.3,379.7h1v1h-1zM148.6,379.2h1v1h-1zM145.5,378.3h1v1h-1zM134.1,379.8h1v1h-1zM137.3,379.2h1v1h-1zM175.2,380.2h1v1h-1zM142.4,376.0h1v1h-1zM142.0,380.3h1v1h-1zM133.6,378.5h1v1h-1zM117.3,379.9h1v1h-1zM134.7,380.1h1v1h-1zM155.3,378.6h1v1h-1zM151.3,379.4h1v1h-1zM138.9,378.4h1v1h-1zM132.1,381.2h1v1h-1zM150.2,377.1h1v1h-1zM149.8,377.6h1v1h-1zM125.2,381.1h1v1h-1zM127.6,381.0h1v1h-1zM143.1,380.5h1v1h-1zM146.4,381.0h1v1h-1zM144.7,379.9h1v1h-1zM143.6,380.9h1v1h-1zM136.9,380.7h1v1h-1zM156.8,378.8h1v1h-1zM145.6,378.0h1v1h-1zM138.0,379.4h1v1h-1zM137.4,377.3h1v1h-1zM140.7,379.2h1v1h-1zM144.4,380.2h1v1h-1zM122.4,381.4h1v1h-1zM139.2,377.5h1v1h-1zM137.1,379.7h1v1h-1zM150.1,378.2h1v1h-1zM142.7,376.0h1v1h-1zM142.8,378.7h1v1h-1zM136.5,380.5h1v1h-1zM159.8,380.8h1v1h-1zM132.8,381.7h1v1h-1zM137.5,378.8h1v1h-1zM134.9,379.7h1v1h-1zM146.8,379.2h1v1h-1zM138.8,378.6h1v1h-1zM136.8,380.6h1v1h-1zM135.5,378.6h1v1h-1zM138.8,377.6h1v1h-1zM138.6,376.3h1v1h-1zM145.3,379.9h1v1h-1zM137.9,381.7h1v1h-1zM132.4,379.9h1v1h-1zM146.0,377.9h1v1h-1zM138.5,380.5h1v1h-1zM141.6,379.4h1v1h-1zM155.6,379.3h1v1h-1zM123.5,377.6h1v1h-1zM149.7,378.7h1v1h-1zM129.7,375.4h1v1h-1zM144.4,381.6h1v1h-1zM127.9,375.0h1v1h-1zM146.2,377.9h1v1h-1zM137.9,378.3h1v1h-1zM131.6,379.7h1v1h-1zM150.6,379.6h1v1h-1zM135.2,380.8h1v1h-1zM139.9,379.9h1v1h-1zM131.2,380.1h1v1h-1zM148.8,381.2h1v1h-1zM141.3,379.7h1v1h-1zM135.0,380.5h1v1h-1zM149.1,380.8h1v1h-1zM137.0,376.7h1v1h-1zM140.3,378.5h1v1h-1zM133.2,380.0h1v1h-1zM150.9,379.6h1v1h-1zM152.6,379.6h1v1h-1zM130.9,377.9h1v1h-1zM137.3,380.1h1v1h-1zM150.6,379.1h1v1h-1zM151.5,377.4h1v1h-1zM139.8,381.6h1v1h-1zM145.6,380.8h1v1h-1zM121.4,375.9h1v1h-1zM132.1,380.7h1v1h-1zM157.9,377.8h1v1h-1zM130.8,377.1h1v1h-1zM131.8,379.9h1v1h-1zM137.8,382.2h1v1h-1zM148.5,377.7h1v1h-1zM143.5,378.6h1v1h-1zM149.2,380.5h1v1h-1zM137.4,380.5h1v1h-1zM146.9,378.8h1v1h-1zM143.7,380.1h1v1h-1zM137.7,377.7h1v1h-1zM154.2,378.9h1v1h-1zM134.9,379.7h1v1h-1zM125.8,379.0h1v1h-1zM127.0,378.1h1v1h-1zM122.6,377.6h1v1h-1zM150.3,378.6h1v1h-1zM128.5,382.0h1v1h-1zM134.5,381.5h1v1h-1zM135.6,376.3h1v1h-1zM160.1,378.1h1v1h-1zM148.9,381.0h1v1h-1zM127.5,379.0h1v1h-1zM135.1,380.0h1v1h-1zM140.9,376.7h1v1h-1zM141.6,380.3h1v1h-1zM138.0,379.9h1v1h-1zM135.6,378.8h1v1h-1zM144.7,379.2h1v1h-1zM154.1,380.6h1v1h-1zM149.7,380.2h1v1h-1zM142.7,376.9h1v1h-1zM152.0,382.0h1v1h-1zM143.4,378.5h1v1h-1zM140.7,381.0h1v1h-1zM144.0,377.2h1v1h-1zM139.3,377.6h1v1h-1zM139.0,377.3h1v1h-1zM132.1,381.5h1v1h-1zM151.8,376.1h1v1h-1zM131.0,378.1h1v1h-1zM137.1,376.5h1v1h-1zM150.2,376.1h1v1h-1zM148.2,380.1h1v1h-1zM137.3,377.8h1v1h-1zM141.7,379.2h1v1h-1zM119.5,376.7h1v1h-1zM146.5,378.7h1v1h-1zM136.8,377.2h1v1h-1zM133.8,377.6h1v1h-1zM169.8,376.7h1v1h-1zM156.8,379.8h1v1h-1zM143.3,379.3h1v1h-1zM137.2,381.7h1v1h-1zM146.3,378.9h1v1h-1zM139.8,379.3h1v1h-1zM129.4,378.4h1v1h-1zM134.7,380.0h1v1h-1zM147.3,375.6h1v1h-1zM138.8,380.7h1v1h-1zM127.8,376.8h1v1h-1zM151.4,378.7h1v1h-1zM136.5,376.8h1v1h-1zM142.8,377.9h1v1h-1zM143.3,379.7h1v1h-1zM148.3,378.3h1v1h-1zM135.7,379.0h1v1h-1zM140.1,379.2h1v1h-1zM135.6,378.5h1v1h-1zM135.1,377.9h1v1h-1zM142.7,380.9h1v1h-1zM135.6,379.9h1v1h-1zM144.6,379.1h1v1h-1zM148.1,377.9h1v1h-1zM146.9,379.4h1v1h-1zM105.2,379.5h1v1h-1zM147.2,382.4h1v1h-1zM130.2,379.1h1v1h-1zM144.7,377.2h1v1h-1zM153.4,379.7h1v1h-1zM132.9,376.8h1v1h-1zM136.8,383.1h1v1h-1zM163.3,374.6h1v1h-1zM122.4,380.1h1v1h-1zM140.0,377.8h1v1h-1zM147.3,379.1h1v1h-1zM144.0,379.4h1v1h-1zM129.9,381.2h1v1h-1zM136.4,380.9h1v1h-1zM148.2,379.0h1v1h-1zM142.5,378.8h1v1h-1zM122.1,378.3h1v1h-1zM145.5,376.1h1v1h-1zM125.7,380.8h1v1h-1zM149.4,376.2h1v1h-1zM145.8,378.8h1v1h-1zM151.1,378.3h1v1h-1zM138.8,377.6h1v1h-1zM142.9,378.7h1v1h-1zM134.3,378.3h1v1h-1zM133.3,380.0h1v1h-1zM130.4,376.2h1v1h-1zM131.1,380.8h1v1h-1zM135.8,380.1h1v1h-1zM148.7,378.0h1v1h-1zM148.9,379.8h1v1h-1zM140.6,377.7h1v1h-1zM140.4,376.6h1v1h-1zM138.2,377.9h1v1h-1zM145.6,379.5h1v1h-1zM134.4,380.4h1v1h-1zM153.4,379.0h1v1h-1zM133.4,379.8h1v1h-1zM115.8,377.9h1v1h-1zM147.1,382.5h1v1h-1zM133.4,381.6h1v1h-1zM165.2,382.3h1v1h-1zM116.6,380.9h1v1h-1zM143.0,380.7h1v1h-1zM139.2,377.8h1v1h-1zM138.7,381.6h1v1h-1zM149.8,378.4h1v1h-1zM145.0,380.4h1v1h-1zM146.9,378.8h1v1h-1zM134.2,377.6h1v1h-1zM136.5,377.9h1v1h-1zM124.6,376.4h1v1h-1zM150.2,376.9h1v1h-1zM127.4,378.8h1v1h-1zM156.1,381.2h1v1h-1zM136.7,377.1h1v1h-1zM135.5,377.3h1v1h-1zM135.3,379.8h1v1h-1zM130.0,377.5h1v1h-1zM138.3,378.9h1v1h-1zM133.0,377.5h1v1h-1zM129.2,377.6h1v1h-1zM146.5,378.5h1v1h-1zM108.6,380.0h1v1h-1zM140.3,377.3h1v1h-1zM138.4,373.5h1v1h-1zM123.8,381.0h1v1h-1zM163.3,382.8h1v1h-1zM133.3,379.0h1v1h-1zM149.2,376.7h1v1h-1zM159.2,377.6h1v1h-1zM144.7,376.8h1v1h-1zM144.8,378.9h1v1h-1zM152.3,376.8h1v1h-1zM140.9,382.2h1v1h-1zM128.5,379.5h1v1h-1zM145.6,378.0h1v1h-1zM138.2,381.4h1v1h-1zM153.0,379.9h1v1h-1zM143.8,376.9h1v1h-1zM142.0,382.1h1v1h-1zM152.1,376.5h1v1h-1zM119.3,377.7h1v1h-1zM142.7,377.9h1v1h-1zM137.8,379.5h1v1h-1zM150.4,379.3h1v1h-1zM154.1,376.3h1v1h-1zM145.9,379.7h1v1h-1zM125.4,381.2h1v1h-1zM124.2,376.3h1v1h-1zM169.1,381.2h1v1h-1zM145.0,381.3h1v1h-1zM153.1,376.9h1v1h-1zM146.1,381.4h1v1h-1zM139.3,379.0h1v1h-1zM136.1,380.2h1v1h-1zM135.2,377.8h1v1h-1zM128.1,377.2h1v1h-1zM143.3,379.8h1v1h-1zM136.9,377.0h1v1h-1zM144.6,379.5h1v1h-1zM154.4,378.0h1v1h-1zM136.7,379.8h1v1h-1zM157.1,378.8h1v1h-1zM140.1,377.2h1v1h-1zM137.0,380.6h1v1h-1zM150.0,380.9h1v1h-1zM123.7,380.4h1v1h-1zM131.2,380.0h1v1h-1zM116.0,378.7h1v1h-1zM131.7,381.2h1v1h-1zM142.3,381.3h1v1h-1zM136.4,382.5h1v1h-1zM136.3,382.3h1v1h-1zM135.9,377.1h1v1h-1zM150.5,378.2h1v1h-1zM140.4,376.5h1v1h-1zM137.4,379.1h1v1h-1zM133.5,379.6h1v1h-1zM116.7,380.5h1v1h-1zM136.7,381.6h1v1h-1zM137.3,377.7h1v1h-1zM136.3,379.4h1v1h-1zM147.3,378.1h1v1h-1zM132.6,379.7h1v1h-1zM149.8,375.7h1v1h-1zM129.9,377.7h1v1h-1zM159.1,381.1h1v1h-1zM149.5,379.8h1v1h-1zM129.1,380.9h1v1h-1zM136.3,377.5h1v1h-1zM161.6,376.3h1v1h-1zM155.7,379.3h1v1h-1zM131.2,379.2h1v1h-1zM132.1,379.2h1v1h-1zM134.2,376.7h1v1h-1zM169.3,378.0h1v1h-1zM151.5,378.8h1v1h-1zM148.2,376.6h1v1h-1zM129.9,372.9h1v1h-1zM151.7,379.7h1v1h-1zM128.5,380.4h1v1h-1zM147.3,384.2h1v1h-1zM143.5,380.6h1v1h-1zM147.6,380.3h1v1h-1zM140.8,378.1h1v1h-1zM148.6,381.2h1v1h-1zM128.6,376.8h1v1h-1zM140.6,382.2h1v1h-1zM138.8,375.8h1v1h-1zM149.6,380.3h1v1h-1zM161.7,379.3h1v1h-1zM162.0,377.6h1v1h-1zM150.7,379.2h1v1h-1zM128.4,378.4h1v1h-1zM155.2,380.9h1v1h-1zM137.0,380.9h1v1h-1zM150.6,380.5h1v1h-1zM144.1,379.5h1v1h-1zM132.3,378.8h1v1h-1zM142.4,377.6h1v1h-1zM138.0,379.2h1v1h-1zM143.3,380.8h1v1h-1zM130.1,378.2h1v1h-1zM143.9,378.2h1v1h-1zM144.6,378.1h1v1h-1zM153.6,378.5h1v1h-1zM129.0,380.3h1v1h-1zM158.7,375.4h1v1h-1zM139.7,379.0h1v1h-1zM152.0,381.6h1v1h-1zM139.4,376.1h1v1h-1zM148.2,380.7h1v1h-1zM146.0,379.1h1v1h-1zM132.4,383.3h1v1h-1zM128.3,376.2h1v1h-1zM151.4,379.4h1v1h-1zM148.2,379.6h1v1h-1zM159.0,381.5h1v1h-1zM135.2,380.7h1v1h-1zM128.6,375.8h1v1h-1zM153.8,378.1h1v1h-1zM118.3,378.9h1v1h-1zM134.0,379.8h1v1h-1zM140.5,377.5h1v1h-1zM133.5,380.3h1v1h-1zM131.2,379.1h1v1h-1zM130.6,379.7h1v1h-1zM160.0,379.9h1v1h-1zM152.9,379.7h1v1h-1zM130.9,378.4h1v1h-1zM141.8,379.7h1v1h-1zM134.7,380.0h1v1h-1zM133.4,379.0h1v1h-1zM141.0,376.8h1v1h-1zM151.7,379.0h1v1h-1zM142.2,378.9h1v1h-1zM118.7,376.4h1v1h-1zM131.6,380.7h1v1h-1zM135.0,380.0h1v1h-1zM130.2,377.4h1v1h-1zM136.1,380.8h1v1h-1zM123.5,378.6h1v1h-1zM145.4,379.2h1v1h-1zM140.9,380.3h1v1h-1zM144.1,377.1h1v1h-1zM147.8,377.5h1v1h-1zM137.5,381.5h1v1h-1zM167.0,381.5h1v1h-1zM145.6,377.5h1v1h-1zM133.0,381.9h1v1h-1zM144.6,376.4h1v1h-1zM157.7,380.0h1v1h-1zM155.0,379.6h1v1h-1zM118.2,377.6h1v1h-1zM139.6,378.6h1v1h-1zM157.1,377.7h1v1h-1zM140.0,378.8h1v1h-1zM140.1,377.0h1v1h-1zM128.1,374.2h1v1h-1zM144.6,378.5h1v1h-1zM143.2,377.0h1v1h-1zM141.1,377.1h1v1h-1zM130.3,379.5h1v1h-1zM147.8,380.0h1v1h-1zM140.6,378.2h1v1h-1zM155.9,381.2h1v1h-1zM134.4,376.9h1v1h-1zM145.0,379.5h1v1h-1zM131.4,383.1h1v1h-1zM118.9,377.4h1v1h-1zM143.6,380.7h1v1h-1zM121.4,378.1h1v1h-1zM156.3,381.5h1v1h-1zM138.4,379.0h1v1h-1zM131.7,379.6h1v1h-1zM130.0,375.2h1v1h-1zM125.0,379.0h1v1h-1zM127.1,380.9h1v1h-1zM154.6,380.7h1v1h-1zM148.0,381.0h1v1h-1zM143.9,380.5h1v1h-1zM146.0,380.3h1v1h-1zM130.3,377.7h1v1h-1zM130.5,380.4h1v1h-1zM146.4,377.5h1v1h-1zM130.6,377.9h1v1h-1zM150.3,378.7h1v1h-1zM138.5,377.7h1v1h-1zM139.8,381.8h1v1h-1zM133.8,378.3h1v1h-1zM159.0,380.2h1v1h-1zM129.0,380.9h1v1h-1zM127.7,379.9h1v1h-1zM114.3,377.1h1v1h-1zM150.8,377.8h1v1h-1zM133.4,379.0h1v1h-1zM141.1,378.1h1v1h-1zM133.9,382.2h1v1h-1zM156.9,379.5h1v1h-1zM128.9,378.0h1v1h-1zM138.0,379.8h1v1h-1zM158.0,378.0h1v1h-1zM142.6,378.1h1v1h-1zM142.6,377.7h1v1h-1zM145.1,381.0h1v1h-1zM136.9,378.3h1v1h-1zM142.3,376.5h1v1h-1zM160.2,376.5h1v1h-1zM137.3,377.3h1v1h-1zM156.9,378.0h1v1h-1zM135.7,382.3h1v1h-1zM139.8,377.5h1v1h-1zM141.0,379.3h1v1h-1zM133.2,378.6h1v1h-1zM138.9,380.2h1v1h-1zM149.2,380.4h1v1h-1zM139.8,380.4h1v1h-1zM138.8,381.0h1v1h-1zM145.4,378.1h1v1h-1zM154.1,376.2h1v1h-1zM130.8,377.5h1v1h-1zM139.7,376.7h1v1h-1zM128.4,375.5h1v1h-1zM142.3,377.5h1v1h-1zM164.2,380.3h1v1h-1zM129.0,381.3h1v1h-1zM142.2,380.9h1v1h-1zM129.3,381.0h1v1h-1zM152.7,378.2h1v1h-1zM132.1,378.2h1v1h-1zM143.9,383.3h1v1h-1zM160.2,381.6h1v1h-1zM138.8,378.3h1v1h-1zM145.0,378.4h1v1h-1zM136.1,378.5h1v1h-1zM150.0,378.8h1v1h-1zM143.6,378.4h1v1h-1zM139.0,378.3h1v1h-1zM154.4,379.3h1v1h-1zM156.9,378.6h1v1h-1zM152.3,376.4h1v1h-1zM136.8,378.8h1v1h-1zM134.4,378.7h1v1h-1zM131.3,378.6h1v1h-1zM134.0,378.9h1v1h-1zM138.0,377.1h1v1h-1zM136.8,379.0h1v1h-1zM127.6,379.1h1v1h-1zM154.3,378.5h1v1h-1zM146.9,380.0h1v1h-1zM132.6,381.3h1v1h-1zM167.6,377.1h1v1h-1zM163.7,377.6h1v1h-1zM156.5,375.6h1v1h-1zM153.1,379.2h1v1h-1zM127.5,377.4h1v1h-1zM130.0,377.3h1v1h-1zM145.1,378.6h1v1h-1zM114.6,378.4h1v1h-1zM146.0,379.1h1v1h-1zM158.9,375.6h1v1h-1zM143.6,379.0h1v1h-1zM148.7,376.5h1v1h-1zM127.3,378.6h1v1h-1zM141.9,375.6h1v1h-1zM144.9,378.9h1v1h-1zM148.8,374.2h1v1h-1zM146.4,377.3h1v1h-1zM136.0,380.3h1v1h-1zM158.9,379.2h1v1h-1zM139.9,381.3h1v1h-1zM131.6,378.6h1v1h-1zM135.7,377.1h1v1h-1zM143.1,382.6h1v1h-1zM143.7,379.8h1v1h-1zM140.7,381.0h1v1h-1zM120.0,378.6h1v1h-1zM117.1,380.6h1v1h-1zM108.0,377.8h1v1h-1zM122.2,379.1h1v1h-1zM106.2,379.5h1v1h-1zM109.6,381.0h1v1h-1zM118.7,377.7h1v1h-1zM114.4,376.2h1v1h-1zM103.8,379.4h1v1h-1zM107.0,377.8h1v1h-1zM111.5,381.2h1v1h-1zM110.2,379.2h1v1h-1zM123.0,381.3h1v1h-1zM105.1,379.2h1v1h-1zM120.2,379.7h1v1h-1zM120.2,377.5h1v1h-1zM110.7,378.7h1v1h-1zM119.1,381.9h1v1h-1zM112.9,379.4h1v1h-1zM113.5,379.0h1v1h-1zM110.7,383.4h1v1h-1zM105.3,381.1h1v1h-1zM106.7,383.0h1v1h-1zM123.4,375.8h1v1h-1zM109.9,380.3h1v1h-1zM118.4,378.8h1v1h-1zM123.7,379.7h1v1h-1zM117.6,380.3h1v1h-1zM122.3,378.6h1v1h-1zM112.4,374.5h1v1h-1zM110.6,380.5h1v1h-1zM123.6,380.4h1v1h-1zM103.6,380.0h1v1h-1zM103.1,381.0h1v1h-1zM109.1,379.7h1v1h-1zM114.1,380.2h1v1h-1zM114.4,376.2h1v1h-1zM114.1,377.9h1v1h-1zM123.8,380.5h1v1h-1zM103.8,380.0h1v1h-1zM109.1,379.6h1v1h-1zM113.6,374.8h1v1h-1zM105.7,378.0h1v1h-1zM108.8,381.6h1v1h-1zM120.2,381.5h1v1h-1zM115.9,378.9h1v1h-1zM121.5,378.0h1v1h-1zM123.7,379.6h1v1h-1zM124.5,382.7h1v1h-1zM111.2,379.8h1v1h-1zM103.2,379.9h1v1h-1zM118.9,380.4h1v1h-1zM106.9,380.7h1v1h-1zM120.4,379.5h1v1h-1zM113.5,378.0h1v1h-1zM106.2,377.5h1v1h-1zM102.3,379.1h1v1h-1zM108.0,379.8h1v1h-1zM116.2,377.8h1v1h-1zM116.3,381.0h1v1h-1zM109.3,376.7h1v1h-1zM115.4,382.6h1v1h-1zM111.6,377.1h1v1h-1zM109.6,378.7h1v1h-1zM123.0,379.8h1v1h-1zM121.6,384.0h1v1h-1zM122.3,380.5h1v1h-1zM124.6,381.3h1v1h-1zM108.6,380.8h1v1h-1zM107.4,382.1h1v1h-1zM115.4,382.0h1v1h-1zM108.5,383.4h1v1h-1zM104.2,378.6h1v1h-1zM114.9,377.6h1v1h-1zM113.4,381.4h1v1h-1zM110.7,378.2h1v1h-1zM102.0,377.7h1v1h-1zM115.2,379.3h1v1h-1zM116.5,378.5h1v1h-1zM113.4,379.5h1v1h-1zM113.1,376.0h1v1h-1zM108.4,375.2h1v1h-1zM112.2,382.4h1v1h-1zM107.4,381.1h1v1h-1zM121.1,379.8h1v1h-1zM122.8,377.8h1v1h-1zM113.6,377.0h1v1h-1zM123.8,380.4h1v1h-1zM113.3,377.7h1v1h-1zM121.3,379.5h1v1h-1zM113.6,378.6h1v1h-1zM106.9,380.4h1v1h-1zM121.2,381.1h1v1h-1zM123.1,374.1h1v1h-1zM117.8,380.2h1v1h-1zM120.6,376.3h1v1h-1zM120.4,380.9h1v1h-1zM109.0,382.6h1v1h-1zM107.6,379.7h1v1h-1zM113.8,379.1h1v1h-1zM109.9,380.0h1v1h-1zM123.0,376.6h1v1h-1zM123.4,378.8h1v1h-1zM117.3,378.7h1v1h-1zM104.5,383.3h1v1h-1zM109.1,378.8h1v1h-1zM106.3,378.1h1v1h-1zM124.7,376.1h1v1h-1zM116.3,381.6h1v1h-1zM103.3,381.6h1v1h-1zM122.0,379.7h1v1h-1zM122.1,375.8h1v1h-1zM115.1,382.0h1v1h-1zM113.3,378.3h1v1h-1zM110.8,379.0h1v1h-1zM105.7,379.6h1v1h-1zM120.3,379.7h1v1h-1zM119.8,382.2h1v1h-1zM118.0,377.6h1v1h-1zM108.3,379.1h1v1h-1zM106.3,377.5h1v1h-1zM123.7,376.9h1v1h-1zM109.6,383.3h1v1h-1zM108.7,377.4h1v1h-1zM123.9,375.5h1v1h-1zM119.8,375.8h1v1h-1zM109.7,378.9h1v1h-1zM113.2,381.7h1v1h-1zM102.8,380.9h1v1h-1zM112.9,377.4h1v1h-1zM95.9,379.5h1v1h-1zM91.9,381.5h1v1h-1zM83.8,379.0h1v1h-1zM79.3,380.5h1v1h-1zM86.5,372.3h1v1h-1zM93.4,378.3h1v1h-1zM87.9,377.7h1v1h-1zM89.4,380.7h1v1h-1zM101.0,381.8h1v1h-1zM94.5,381.7h1v1h-1zM96.3,375.5h1v1h-1zM100.5,378.0h1v1h-1zM99.7,379.5h1v1h-1zM101.9,383.2h1v1h-1zM168.2,416.3h1v1h-1zM168.4,450.0h1v1h-1zM167.0,394.5h1v1h-1zM169.9,381.0h1v1h-1zM168.2,398.0h1v1h-1zM169.7,444.0h1v1h-1zM172.6,434.7h1v1h-1zM170.3,382.8h1v1h-1zM173.6,401.5h1v1h-1zM172.7,441.6h1v1h-1zM170.1,449.8h1v1h-1zM173.6,414.7h1v1h-1zM170.2,450.2h1v1h-1zM172.4,389.2h1v1h-1zM169.0,436.5h1v1h-1zM166.2,400.8h1v1h-1zM170.7,397.2h1v1h-1zM170.0,399.8h1v1h-1zM169.6,395.9h1v1h-1zM166.6,454.3h1v1h-1zM168.1,442.6h1v1h-1zM168.3,455.8h1v1h-1zM167.0,402.7h1v1h-1zM171.2,401.7h1v1h-1zM163.1,435.2h1v1h-1zM167.5,396.2h1v1h-1zM166.8,428.6h1v1h-1zM168.8,403.6h1v1h-1zM171.1,404.6h1v1h-1zM171.7,404.9h1v1h-1zM171.0,373.9h1v1h-1zM170.1,447.3h1v1h-1zM171.4,399.5h1v1h-1zM169.6,396.0h1v1h-1zM169.0,393.0h1v1h-1zM168.9,392.7h1v1h-1zM167.8,374.4h1v1h-1zM167.8,450.7h1v1h-1zM168.8,403.9h1v1h-1zM171.9,443.4h1v1h-1zM170.3,455.0h1v1h-1zM168.4,444.6h1v1h-1zM170.4,447.8h1v1h-1zM168.2,402.6h1v1h-1zM166.5,402.0h1v1h-1zM168.5,429.2h1v1h-1zM165.1,422.4h1v1h-1zM171.7,423.6h1v1h-1zM169.4,437.0h1v1h-1zM169.7,428.1h1v1h-1zM169.9,396.0h1v1h-1zM170.5,385.6h1v1h-1zM170.0,401.8h1v1h-1zM167.0,434.8h1v1h-1zM173.3,398.9h1v1h-1zM169.2,436.0h1v1h-1zM167.2,450.3h1v1h-1zM169.0,443.6h1v1h-1zM169.7,397.2h1v1h-1zM172.2,427.0h1v1h-1zM168.7,399.1h1v1h-1zM169.1,404.4h1v1h-1zM168.5,428.4h1v1h-1zM165.7,403.6h1v1h-1zM172.6,436.0h1v1h-1zM170.8,404.2h1v1h-1zM169.0,399.5h1v1h-1zM169.1,432.6h1v1h-1zM163.3,404.5h1v1h-1zM168.4,387.5h1v1h-1zM170.2,392.4h1v1h-1zM170.4,432.6h1v1h-1zM167.3,453.2h1v1h-1zM167.0,429.2h1v1h-1zM170.3,397.0h1v1h-1zM171.7,453.3h1v1h-1zM165.5,428.7h1v1h-1zM172.8,400.2h1v1h-1zM171.6,438.7h1v1h-1zM169.4,421.4h1v1h-1zM165.3,455.5h1v1h-1zM172.7,426.0h1v1h-1zM166.9,414.0h1v1h-1zM170.1,375.6h1v1h-1zM168.4,403.0h1v1h-1zM170.2,402.6h1v1h-1zM169.5,384.4h1v1h-1zM172.5,448.0h1v1h-1zM169.5,422.5h1v1h-1zM170.7,393.0h1v1h-1zM167.5,432.7h1v1h-1zM170.5,430.7h1v1h-1zM171.4,445.2h1v1h-1zM168.4,451.8h1v1h-1zM173.0,397.0h1v1h-1zM165.9,446.3h1v1h-1zM169.0,402.2h1v1h-1zM166.2,452.2h1v1h-1zM167.4,401.6h1v1h-1zM171.6,453.1h1v1h-1zM170.7,400.5h1v1h-1zM171.1,419.4h1v1h-1zM168.0,394.7h1v1h-1zM170.4,428.1h1v1h-1zM170.2,447.4h1v1h-1zM172.0,400.5h1v1h-1zM168.8,398.1h1v1h-1zM168.7,398.3h1v1h-1zM168.4,441.3h1v1h-1zM171.3,398.0h1v1h-1zM171.4,424.0h1v1h-1zM171.4,403.0h1v1h-1zM170.2,400.8h1v1h-1zM169.7,402.7h1v1h-1zM172.3,393.5h1v1h-1zM170.4,412.0h1v1h-1zM170.2,393.2h1v1h-1zM167.5,446.8h1v1h-1zM167.4,403.2h1v1h-1zM168.8,409.3h1v1h-1zM170.4,395.4h1v1h-1zM168.6,443.1h1v1h-1zM172.0,455.7h1v1h-1zM170.6,404.5h1v1h-1zM170.3,439.1h1v1h-1zM169.8,430.9h1v1h-1zM169.5,409.3h1v1h-1zM166.9,396.8h1v1h-1zM170.1,433.2h1v1h-1zM170.2,392.8h1v1h-1zM169.2,385.0h1v1h-1zM170.0,393.0h1v1h-1zM171.6,375.1h1v1h-1zM165.0,441.9h1v1h-1zM172.2,389.5h1v1h-1zM168.3,398.9h1v1h-1zM173.5,403.0h1v1h-1zM167.9,392.9h1v1h-1zM166.3,395.2h1v1h-1zM170.9,433.1h1v1h-1zM167.8,397.5h1v1h-1zM169.4,378.5h1v1h-1zM173.4,399.8h1v1h-1zM168.8,438.6h1v1h-1zM170.5,438.5h1v1h-1zM170.5,395.5h1v1h-1zM171.4,397.0h1v1h-1zM169.9,455.1h1v1h-1zM166.3,401.1h1v1h-1zM168.7,416.9h1v1h-1zM170.9,445.7h1v1h-1zM164.4,439.7h1v1h-1zM171.6,425.7h1v1h-1zM169.5,379.0h1v1h-1zM166.9,410.1h1v1h-1zM169.1,400.1h1v1h-1zM170.7,420.2h1v1h-1zM172.2,433.0h1v1h-1zM169.5,455.3h1v1h-1zM166.1,411.7h1v1h-1zM168.5,402.5h1v1h-1zM166.0,419.9h1v1h-1zM170.2,448.9h1v1h-1zM170.1,400.2h1v1h-1zM167.2,399.9h1v1h-1zM169.4,396.5h1v1h-1zM167.8,444.5h1v1h-1zM172.1,429.2h1v1h-1zM166.8,394.6h1v1h-1zM168.7,400.5h1v1h-1zM168.0,385.3h1v1h-1zM165.0,444.4h1v1h-1zM168.2,385.8h1v1h-1zM169.5,400.4h1v1h-1zM167.2,417.2h1v1h-1zM169.7,447.2h1v1h-1zM167.7,394.0h1v1h-1zM170.7,374.7h1v1h-1zM172.2,428.8h1v1h-1zM171.8,447.2h1v1h-1zM170.9,386.8h1v1h-1zM173.0,433.6h1v1h-1zM168.4,448.6h1v1h-1zM169.4,380.4h1v1h-1zM172.5,449.3h1v1h-1zM175.3,450.5h1v1h-1zM170.6,430.1h1v1h-1zM173.8,442.3h1v1h-1zM165.9,448.7h1v1h-1zM167.0,434.9h1v1h-1zM166.9,442.0h1v1h-1zM170.7,405.6h1v1h-1zM171.9,429.3h1v1h-1zM171.0,372.6h1v1h-1zM167.8,374.5h1v1h-1zM171.1,393.3h1v1h-1zM165.4,430.7h1v1h-1zM169.2,401.4h1v1h-1zM162.7,403.7h1v1h-1zM168.6,402.7h1v1h-1zM169.5,453.4h1v1h-1zM169.5,453.1h1v1h-1zM170.9,445.7h1v1h-1zM169.4,452.6h1v1h-1zM166.4,452.7h1v1h-1zM167.5,378.5h1v1h-1zM169.7,380.8h1v1h-1zM168.2,442.0h1v1h-1zM169.1,397.7h1v1h-1zM169.7,398.9h1v1h-1zM168.4,400.4h1v1h-1zM166.2,396.7h1v1h-1zM169.4,404.3h1v1h-1zM170.9,438.1h1v1h-1zM165.7,403.8h1v1h-1zM169.9,395.5h1v1h-1zM172.8,422.6h1v1h-1zM174.0,389.8h1v1h-1zM168.5,451.6h1v1h-1zM168.9,433.5h1v1h-1zM174.6,405.0h1v1h-1zM165.1,400.6h1v1h-1zM168.6,429.7h1v1h-1zM165.4,397.9h1v1h-1zM173.0,448.0h1v1h-1zM167.3,402.7h1v1h-1zM166.5,392.3h1v1h-1zM167.0,423.5h1v1h-1zM172.1,403.0h1v1h-1zM167.6,450.6h1v1h-1zM171.3,400.0h1v1h-1zM173.0,429.7h1v1h-1zM170.2,424.5h1v1h-1zM162.6,410.8h1v1h-1zM167.9,392.8h1v1h-1zM170.4,430.7h1v1h-1zM169.9,430.6h1v1h-1zM167.4,454.1h1v1h-1zM168.6,397.4h1v1h-1zM171.8,416.0h1v1h-1zM170.5,404.4h1v1h-1zM169.3,398.1h1v1h-1zM170.9,404.9h1v1h-1zM171.7,444.9h1v1h-1zM170.9,435.5h1v1h-1zM166.1,430.7h1v1h-1zM173.9,400.6h1v1h-1zM169.0,449.4h1v1h-1zM170.4,398.3h1v1h-1zM168.9,432.2h1v1h-1zM170.9,452.8h1v1h-1zM167.3,409.7h1v1h-1zM170.3,393.5h1v1h-1zM171.3,393.6h1v1h-1zM167.1,435.7h1v1h-1zM172.4,402.8h1v1h-1zM164.6,435.1h1v1h-1zM170.1,437.4h1v1h-1zM170.9,394.8h1v1h-1zM171.7,443.3h1v1h-1zM167.4,441.5h1v1h-1zM171.7,434.8h1v1h-1zM168.6,429.7h1v1h-1zM171.8,431.0h1v1h-1zM170.9,376.3h1v1h-1zM172.2,453.7h1v1h-1zM169.6,395.1h1v1h-1zM171.4,393.3h1v1h-1zM170.1,451.0h1v1h-1zM167.8,438.5h1v1h-1zM172.3,451.6h1v1h-1zM172.3,455.7h1v1h-1zM171.9,393.6h1v1h-1zM165.6,394.2h1v1h-1zM169.9,409.9h1v1h-1zM170.0,439.5h1v1h-1zM166.7,452.4h1v1h-1zM167.5,451.1h1v1h-1zM171.5,398.8h1v1h-1zM166.8,441.7h1v1h-1zM170.0,450.6h1v1h-1zM171.6,440.3h1v1h-1zM173.0,408.2h1v1h-1zM165.9,392.8h1v1h-1zM168.6,400.1h1v1h-1zM169.0,410.8h1v1h-1zM170.8,451.9h1v1h-1zM164.2,402.7h1v1h-1zM168.7,410.5h1v1h-1zM168.4,430.2h1v1h-1zM166.6,395.6h1v1h-1zM167.7,429.3h1v1h-1zM169.3,380.1h1v1h-1zM170.0,418.9h1v1h-1zM170.9,411.4h1v1h-1zM165.1,384.9h1v1h-1zM168.7,404.7h1v1h-1zM172.3,395.4h1v1h-1zM167.8,394.2h1v1h-1zM168.5,426.3h1v1h-1zM169.5,420.9h1v1h-1zM168.1,435.4h1v1h-1zM167.9,404.7h1v1h-1zM168.5,393.3h1v1h-1zM169.0,419.9h1v1h-1zM167.8,397.6h1v1h-1zM168.1,396.8h1v1h-1zM166.8,434.6h1v1h-1zM166.9,398.2h1v1h-1zM168.1,410.1h1v1h-1zM169.6,430.3h1v1h-1zM170.1,400.4h1v1h-1zM168.6,438.8h1v1h-1zM171.7,401.5h1v1h-1zM168.8,450.3h1v1h-1zM171.4,408.3h1v1h-1zM172.4,398.6h1v1h-1zM169.2,392.2h1v1h-1zM171.8,451.9h1v1h-1zM169.2,396.7h1v1h-1zM164.1,394.6h1v1h-1zM171.8,432.7h1v1h-1zM170.5,394.0h1v1h-1zM171.9,436.2h1v1h-1zM172.7,455.4h1v1h-1zM171.1,451.9h1v1h-1zM169.4,431.2h1v1h-1zM169.1,394.4h1v1h-1zM172.3,398.7h1v1h-1zM170.2,413.0h1v1h-1zM166.2,434.5h1v1h-1zM170.0,394.3h1v1h-1zM163.4,443.3h1v1h-1zM171.9,399.9h1v1h-1zM168.2,452.4h1v1h-1zM169.9,448.8h1v1h-1zM164.9,434.4h1v1h-1zM168.6,455.1h1v1h-1zM170.0,440.9h1v1h-1zM169.4,404.6h1v1h-1zM168.5,433.2h1v1h-1zM167.9,441.4h1v1h-1zM168.9,433.6h1v1h-1zM172.2,394.4h1v1h-1zM168.9,392.1h1v1h-1zM173.8,374.7h1v1h-1zM173.6,393.1h1v1h-1zM169.1,429.2h1v1h-1zM166.2,444.5h1v1h-1zM162.9,399.0h1v1h-1zM169.5,435.0h1v1h-1zM168.3,394.4h1v1h-1zM171.6,396.8h1v1h-1zM168.5,436.6h1v1h-1zM168.2,449.6h1v1h-1zM171.8,401.9h1v1h-1zM169.1,436.4h1v1h-1zM167.6,434.9h1v1h-1zM168.3,443.2h1v1h-1zM169.0,395.9h1v1h-1zM171.1,394.0h1v1h-1zM168.0,393.8h1v1h-1zM168.0,392.2h1v1h-1zM169.3,418.1h1v1h-1zM172.1,395.0h1v1h-1zM169.6,387.6h1v1h-1zM167.4,450.1h1v1h-1zM167.2,402.9h1v1h-1zM171.5,393.1h1v1h-1zM167.8,395.7h1v1h-1zM170.4,443.4h1v1h-1zM168.5,428.2h1v1h-1zM169.7,397.6h1v1h-1zM169.0,452.9h1v1h-1zM169.8,440.5h1v1h-1zM171.0,450.5h1v1h-1zM175.9,372.9h1v1h-1zM172.7,402.3h1v1h-1zM167.4,395.9h1v1h-1zM165.7,442.0h1v1h-1zM168.5,396.3h1v1h-1zM172.5,392.8h1v1h-1zM172.5,446.4h1v1h-1zM167.9,452.5h1v1h-1zM169.0,429.8h1v1h-1zM168.7,394.7h1v1h-1zM167.9,451.9h1v1h-1zM168.5,397.4h1v1h-1zM166.0,392.4h1v1h-1zM170.3,431.9h1v1h-1zM169.5,396.5h1v1h-1zM174.7,429.4h1v1h-1zM168.5,438.3h1v1h-1zM170.3,430.6h1v1h-1zM171.8,394.2h1v1h-1zM166.9,453.6h1v1h-1zM167.9,392.4h1v1h-1zM172.0,449.1h1v1h-1zM171.3,372.8h1v1h-1zM171.9,397.4h1v1h-1zM168.3,435.6h1v1h-1zM170.6,416.9h1v1h-1zM168.3,402.1h1v1h-1zM165.2,424.3h1v1h-1zM167.7,387.3h1v1h-1zM166.0,446.9h1v1h-1zM166.9,431.9h1v1h-1zM170.3,395.7h1v1h-1zM167.8,440.9h1v1h-1zM167.1,447.9h1v1h-1zM169.9,401.5h1v1h-1zM170.1,405.0h1v1h-1zM167.5,436.2h1v1h-1zM169.5,442.6h1v1h-1zM173.7,438.2h1v1h-1zM168.2,399.0h1v1h-1zM166.6,402.3h1v1h-1zM171.0,446.3h1v1h-1zM169.5,402.9h1v1h-1zM172.8,404.9h1v1h-1zM133.5,441.3h1v1h-1zM145.5,422.8h1v1h-1zM127.0,450.4h1v1h-1zM139.4,450.5h1v1h-1zM132.4,444.0h1v1h-1zM157.2,448.6h1v1h-1zM144.2,446.5h1v1h-1zM149.2,425.8h1v1h-1zM136.8,448.8h1v1h-1zM134.4,453.3h1v1h-1zM147.5,446.4h1v1h-1zM120.0,415.9h1v1h-1zM131.3,433.9h1v1h-1zM131.6,404.2h1v1h-1zM135.8,432.7h1v1h-1zM135.5,448.5h1v1h-1zM161.8,445.0h1v1h-1zM131.0,447.1h1v1h-1zM158.3,442.7h1v1h-1zM136.6,446.3h1v1h-1zM149.4,449.1h1v1h-1zM138.6,447.3h1v1h-1zM145.7,426.5h1v1h-1zM134.6,443.6h1v1h-1zM153.4,431.3h1v1h-1zM139.2,451.4h1v1h-1zM140.4,450.8h1v1h-1zM123.8,424.0h1v1h-1zM149.3,448.9h1v1h-1zM140.8,443.3h1v1h-1zM132.8,453.7h1v1h-1zM139.0,427.0h1v1h-1zM134.9,426.9h1v1h-1zM135.9,443.1h1v1h-1zM142.1,442.2h1v1h-1zM132.3,414.9h1v1h-1zM143.6,450.9h1v1h-1zM130.2,419.1h1v1h-1zM148.2,432.3h1v1h-1zM139.0,443.4h1v1h-1zM149.7,423.8h1v1h-1zM146.7,435.2h1v1h-1zM138.9,452.8h1v1h-1zM144.2,404.1h1v1h-1zM134.9,440.7h1v1h-1zM160.5,402.7h1v1h-1zM132.6,435.2h1v1h-1zM135.6,426.5h1v1h-1zM133.0,400.7h1v1h-1zM143.7,441.9h1v1h-1zM146.6,445.5h1v1h-1zM147.7,428.8h1v1h-1zM135.0,440.6h1v1h-1zM141.7,442.1h1v1h-1zM144.9,435.1h1v1h-1zM150.6,435.6h1v1h-1zM131.3,408.0h1v1h-1zM133.9,407.4h1v1h-1zM132.4,442.3h1v1h-1zM132.3,413.1h1v1h-1zM144.6,415.9h1v1h-1zM138.8,442.0h1v1h-1zM139.2,423.9h1v1h-1zM140.1,432.2h1v1h-1zM146.7,438.0h1v1h-1zM136.1,406.3h1v1h-1zM139.9,445.6h1v1h-1zM150.0,450.0h1v1h-1zM150.0,437.1h1v1h-1zM134.4,441.7h1v1h-1zM141.4,428.1h1v1h-1zM148.0,432.2h1v1h-1zM134.1,437.6h1v1h-1zM144.8,430.3h1v1h-1zM139.0,438.2h1v1h-1zM156.6,426.5h1v1h-1zM124.9,402.1h1v1h-1zM129.9,449.3h1v1h-1zM141.3,424.9h1v1h-1zM141.4,427.2h1v1h-1zM137.7,432.1h1v1h-1zM146.4,429.0h1v1h-1zM142.2,443.7h1v1h-1zM142.9,432.7h1v1h-1zM140.7,431.8h1v1h-1zM138.3,446.8h1v1h-1zM150.6,441.2h1v1h-1zM146.0,426.8h1v1h-1zM145.4,436.5h1v1h-1zM141.8,432.8h1v1h-1zM141.6,450.4h1v1h-1zM142.9,436.1h1v1h-1zM149.9,434.1h1v1h-1zM127.0,408.7h1v1h-1zM146.9,434.9h1v1h-1zM129.9,423.5h1v1h-1zM167.2,447.0h1v1h-1zM138.5,422.6h1v1h-1zM145.1,442.0h1v1h-1zM133.1,438.1h1v1h-1zM144.7,422.9h1v1h-1zM132.2,437.1h1v1h-1zM133.8,435.5h1v1h-1zM141.8,434.4h1v1h-1zM146.8,448.8h1v1h-1zM154.6,438.4h1v1h-1zM148.5,400.4h1v1h-1zM125.5,422.9h1v1h-1zM144.1,418.3h1v1h-1zM135.8,417.8h1v1h-1zM153.4,416.8h1v1h-1zM139.5,451.5h1v1h-1zM145.3,431.1h1v1h-1zM144.4,410.0h1v1h-1zM127.0,455.1h1v1h-1zM120.1,444.6h1v1h-1zM155.8,446.7h1v1h-1zM149.8,439.6h1v1h-1zM142.8,409.8h1v1h-1zM128.3,440.5h1v1h-1zM146.8,430.4h1v1h-1zM134.6,441.0h1v1h-1zM136.2,447.6h1v1h-1zM130.3,430.4h1v1h-1zM147.7,432.9h1v1h-1zM138.0,445.0h1v1h-1zM143.0,438.5h1v1h-1zM138.9,431.9h1v1h-1zM120.9,431.5h1v1h-1zM130.7,425.9h1v1h-1zM143.0,452.5h1v1h-1zM148.2,446.6h1v1h-1zM122.3,451.5h1v1h-1zM153.0,440.5h1v1h-1zM142.2,431.8h1v1h-1zM147.7,426.1h1v1h-1zM142.8,444.0h1v1h-1zM145.8,440.6h1v1h-1zM137.7,432.1h1v1h-1zM130.2,430.9h1v1h-1zM145.9,445.9h1v1h-1zM144.5,431.4h1v1h-1zM116.7,421.8h1v1h-1zM131.9,450.0h1v1h-1zM143.9,443.0h1v1h-1zM134.5,450.7h1v1h-1zM150.6,449.5h1v1h-1zM144.4,435.7h1v1h-1zM148.0,428.6h1v1h-1zM152.4,436.4h1v1h-1zM141.6,446.1h1v1h-1zM139.7,423.1h1v1h-1zM128.2,431.2h1v1h-1zM141.2,421.8h1v1h-1zM115.0,440.8h1v1h-1zM140.4,438.9h1v1h-1zM137.6,402.3h1v1h-1zM140.7,441.0h1v1h-1zM139.3,406.8h1v1h-1zM139.8,445.8h1v1h-1zM149.5,451.6h1v1h-1zM145.3,445.9h1v1h-1zM149.1,439.3h1v1h-1zM139.1,444.3h1v1h-1zM141.9,439.7h1v1h-1zM119.1,449.8h1v1h-1zM143.2,422.4h1v1h-1zM151.5,430.9h1v1h-1zM138.1,438.8h1v1h-1zM114.0,446.3h1v1h-1zM141.2,424.2h1v1h-1zM141.8,448.1h1v1h-1zM149.3,444.5h1v1h-1zM137.3,454.4h1v1h-1zM131.8,406.8h1v1h-1zM143.0,437.0h1v1h-1zM138.7,430.4h1v1h-1zM137.3,449.8h1v1h-1zM136.9,447.0h1v1h-1zM140.7,427.1h1v1h-1zM140.9,421.2h1v1h-1zM154.0,420.0h1v1h-1zM127.8,442.0h1v1h-1zM135.6,448.2h1v1h-1zM148.0,421.8h1v1h-1zM137.5,452.9h1v1h-1zM127.9,446.2h1v1h-1zM139.9,433.9h1v1h-1zM140.5,411.6h1v1h-1zM138.0,452.8h1v1h-1zM137.7,448.9h1v1h-1zM149.1,437.6h1v1h-1zM145.5,432.8h1v1h-1zM151.6,435.1h1v1h-1zM133.6,428.2h1v1h-1zM140.2,446.7h1v1h-1zM132.2,441.6h1v1h-1zM134.8,439.5h1v1h-1zM138.0,448.3h1v1h-1zM149.7,426.2h1v1h-1zM131.6,438.1h1v1h-1zM131.2,453.6h1v1h-1zM132.2,451.1h1v1h-1zM133.5,427.3h1v1h-1zM135.7,447.6h1v1h-1zM150.2,446.6h1v1h-1zM136.5,439.8h1v1h-1zM130.5,451.5h1v1h-1zM148.4,424.8h1v1h-1zM145.7,442.7h1v1h-1zM132.3,426.7h1v1h-1zM130.5,439.4h1v1h-1zM142.3,404.9h1v1h-1zM137.9,432.9h1v1h-1zM137.9,431.8h1v1h-1zM161.2,437.1h1v1h-1zM138.6,440.3h1v1h-1zM149.7,431.8h1v1h-1zM143.7,416.2h1v1h-1zM145.3,435.5h1v1h-1zM140.6,446.0h1v1h-1zM159.9,431.4h1v1h-1zM141.1,448.3h1v1h-1zM138.2,413.2h1v1h-1zM140.4,427.7h1v1h-1zM141.3,449.2h1v1h-1zM149.6,440.4h1v1h-1zM147.6,434.2h1v1h-1zM171.9,442.9h1v1h-1zM152.5,451.3h1v1h-1zM141.9,440.9h1v1h-1zM139.3,440.8h1v1h-1zM140.7,438.6h1v1h-1zM142.0,442.8h1v1h-1zM150.0,438.5h1v1h-1zM125.1,446.9h1v1h-1zM131.4,452.3h1v1h-1zM137.2,442.5h1v1h-1zM125.5,445.2h1v1h-1zM139.6,436.5h1v1h-1zM130.6,451.7h1v1h-1zM133.7,421.4h1v1h-1zM150.6,438.1h1v1h-1zM144.9,449.0h1v1h-1zM131.2,436.8h1v1h-1zM130.4,432.2h1v1h-1zM137.3,446.6h1v1h-1zM136.3,439.5h1v1h-1zM131.3,451.1h1v1h-1zM139.7,443.1h1v1h-1zM136.1,437.4h1v1h-1zM139.7,443.4h1v1h-1zM145.7,435.7h1v1h-1zM145.3,439.5h1v1h-1zM130.3,448.7h1v1h-1zM136.0,436.6h1v1h-1zM152.4,435.8h1v1h-1zM142.1,451.0h1v1h-1zM133.6,436.1h1v1h-1zM158.1,449.4h1v1h-1zM133.2,447.1h1v1h-1zM139.6,442.8h1v1h-1zM123.1,430.8h1v1h-1zM142.1,438.9h1v1h-1zM127.1,447.1h1v1h-1zM146.5,446.1h1v1h-1zM145.9,444.4h1v1h-1zM144.7,451.6h1v1h-1zM150.3,445.2h1v1h-1zM142.0,410.6h1v1h-1zM150.3,446.4h1v1h-1zM131.2,435.8h1v1h-1zM140.4,450.9h1v1h-1zM153.8,434.0h1v1h-1zM142.0,443.7h1v1h-1zM132.1,433.9h1v1h-1zM133.6,402.1h1v1h-1zM149.8,451.6h1v1h-1zM134.1,433.7h1v1h-1zM141.0,443.3h1v1h-1zM143.0,446.0h1v1h-1zM130.2,448.1h1v1h-1zM149.6,404.6h1v1h-1zM117.4,442.5h1v1h-1zM144.6,405.3h1v1h-1zM146.6,449.1h1v1h-1zM134.4,453.8h1v1h-1zM148.6,435.2h1v1h-1zM144.1,430.4h1v1h-1zM130.3,445.0h1v1h-1zM137.6,451.1h1v1h-1zM126.9,431.0h1v1h-1zM136.6,445.3h1v1h-1zM130.5,432.6h1v1h-1zM140.7,423.0h1v1h-1zM138.8,438.0h1v1h-1zM143.5,443.0h1v1h-1zM117.8,401.6h1v1h-1zM147.2,451.2h1v1h-1zM121.7,451.6h1v1h-1zM140.2,437.1h1v1h-1zM146.7,436.4h1v1h-1zM133.7,410.6h1v1h-1zM144.3,450.0h1v1h-1zM149.8,438.1h1v1h-1zM129.7,434.8h1v1h-1zM157.3,427.8h1v1h-1zM146.0,422.7h1v1h-1zM129.8,427.3h1v1h-1zM130.4,434.7h1v1h-1zM149.4,432.0h1v1h-1zM148.5,441.2h1v1h-1zM126.8,446.9h1v1h-1zM139.3,444.6h1v1h-1zM120.4,425.7h1v1h-1zM147.3,442.3h1v1h-1zM143.9,449.8h1v1h-1zM149.8,446.9h1v1h-1zM138.3,424.6h1v1h-1zM143.2,421.0h1v1h-1zM141.0,423.3h1v1h-1zM149.2,433.9h1v1h-1zM130.0,412.7h1v1h-1zM137.6,433.8h1v1h-1zM141.2,451.2h1v1h-1zM137.7,429.0h1v1h-1zM137.0,433.8h1v1h-1zM139.9,402.1h1v1h-1zM133.8,444.7h1v1h-1zM147.5,443.9h1v1h-1zM161.0,419.8h1v1h-1zM165.8,399.2h1v1h-1zM151.4,393.8h1v1h-1zM162.0,419.6h1v1h-1zM138.2,409.1h1v1h-1zM146.7,409.7h1v1h-1zM157.4,406.1h1v1h-1zM170.0,391.3h1v1h-1zM137.0,397.6h1v1h-1zM133.7,405.7h1v1h-1zM166.8,396.1h1v1h-1zM139.3,409.5h1v1h-1zM156.4,386.1h1v1h-1zM164.0,407.1h1v1h-1zM144.0,397.2h1v1h-1zM145.0,403.2h1v1h-1zM152.0,391.5h1v1h-1zM145.3,389.3h1v1h-1zM159.3,403.0h1v1h-1zM159.0,422.3h1v1h-1zM146.6,416.4h1v1h-1zM169.0,391.3h1v1h-1zM157.6,403.4h1v1h-1zM155.7,408.4h1v1h-1zM147.8,402.6h1v1h-1zM160.2,384.0h1v1h-1zM131.6,395.5h1v1h-1zM167.5,416.0h1v1h-1zM154.9,420.5h1v1h-1zM146.2,408.4h1v1h-1zM171.1,420.7h1v1h-1zM161.4,399.8h1v1h-1zM140.7,422.2h1v1h-1zM165.8,398.6h1v1h-1zM147.0,400.2h1v1h-1zM138.3,397.6h1v1h-1zM134.4,423.9h1v1h-1zM131.3,390.5h1v1h-1zM166.2,416.1h1v1h-1zM131.7,406.7h1v1h-1zM171.8,420.4h1v1h-1zM134.5,385.9h1v1h-1zM167.0,422.1h1v1h-1zM148.2,415.7h1v1h-1zM132.5,399.1h1v1h-1zM152.1,393.6h1v1h-1zM158.5,413.5h1v1h-1zM138.4,386.5h1v1h-1zM169.1,408.7h1v1h-1zM142.4,421.7h1v1h-1zM164.1,391.2h1v1h-1zM147.0,384.9h1v1h-1zM143.4,404.6h1v1h-1zM160.8,387.1h1v1h-1zM134.0,421.9h1v1h-1zM133.7,412.6h1v1h-1zM158.4,398.3h1v1h-1zM171.4,414.5h1v1h-1zM135.5,408.6h1v1h-1zM155.9,424.1h1v1h-1zM168.0,417.1h1v1h-1zM162.5,402.7h1v1h-1zM152.4,383.3h1v1h-1zM169.2,419.0h1v1h-1zM150.8,421.7h1v1h-1zM161.6,411.0h1v1h-1zM131.5,399.8h1v1h-1zM135.5,395.9h1v1h-1zM165.5,383.1h1v1h-1zM157.3,421.1h1v1h-1zM164.8,397.9h1v1h-1zM146.0,424.5h1v1h-1zM158.5,401.2h1v1h-1zM135.6,401.3h1v1h-1zM131.3,391.9h1v1h-1zM166.5,386.2h1v1h-1zM152.0,383.7h1v1h-1zM159.3,418.5h1v1h-1zM165.4,415.5h1v1h-1zM171.7,419.2h1v1h-1zM165.6,423.5h1v1h-1zM138.6,390.5h1v1h-1zM159.7,385.4h1v1h-1zM170.5,411.9h1v1h-1zM170.6,394.3h1v1h-1zM140.8,385.2h1v1h-1zM135.4,398.8h1v1h-1zM148.2,407.9h1v1h-1zM169.0,391.5h1v1h-1zM141.4,386.9h1v1h-1zM169.6,406.1h1v1h-1zM171.5,393.5h1v1h-1zM168.5,404.3h1v1h-1zM169.1,401.0h1v1h-1zM139.7,413.8h1v1h-1zM134.0,423.6h1v1h-1zM140.9,389.0h1v1h-1zM147.6,401.4h1v1h-1zM148.5,402.9h1v1h-1zM148.0,415.3h1v1h-1zM139.7,405.4h1v1h-1zM152.1,394.2h1v1h-1zM133.2,414.2h1v1h-1zM140.4,410.1h1v1h-1zM154.1,383.2h1v1h-1zM137.9,405.1h1v1h-1zM143.6,423.4h1v1h-1zM139.9,408.6h1v1h-1zM158.3,399.4h1v1h-1zM141.3,401.9h1v1h-1zM123.1,416.1h1v1h-1zM112.5,435.4h1v1h-1zM95.7,449.8h1v1h-1zM127.7,436.1h1v1h-1zM106.5,444.3h1v1h-1zM120.9,433.4h1v1h-1zM117.1,436.7h1v1h-1zM122.4,435.7h1v1h-1zM134.4,438.8h1v1h-1zM107.9,454.7h1v1h-1zM113.1,407.1h1v1h-1zM123.8,400.5h1v1h-1zM101.8,441.6h1v1h-1zM123.2,425.6h1v1h-1zM99.4,440.0h1v1h-1zM129.5,418.2h1v1h-1zM103.5,413.1h1v1h-1zM134.4,454.2h1v1h-1zM97.6,414.1h1v1h-1zM98.1,444.9h1v1h-1zM134.7,454.0h1v1h-1zM132.3,440.5h1v1h-1zM100.8,406.1h1v1h-1zM96.0,404.8h1v1h-1zM96.8,417.7h1v1h-1zM113.6,437.6h1v1h-1zM129.7,425.1h1v1h-1zM130.6,401.0h1v1h-1zM115.6,442.6h1v1h-1zM109.2,408.3h1v1h-1z" fill="#1c1c86" stroke="none" stroke-width="1" fill-opacity="0.72"/>
<line x1="137.30" y1="360.70" x2="137.30" y2="461.20" stroke="#444" stroke-width="1"/>
<line x1="70.00" y1="398.40" x2="188.40" y2="398.40" stroke="#444" stroke-width="1"/>
<line x1="70.00" y1="360.70" x2="70.00" y2="461.20" stroke="#7a7a7a" stroke-width="1.4"/>
<line x1="69.50" y1="461.20" x2="188.90" y2="461.20" stroke="#222" stroke-width="1.1"/>
<text x="75.60" y="369.80" font-size="6.0" text-anchor="start" fill="#222" stroke="#222" stroke-width="0.14">Naive</text>
<text x="164.80" y="369.80" font-size="6.4" text-anchor="start" fill="#222" stroke="#222" stroke-width="0.14">CM</text>
<text x="158.20" y="458.40" font-size="6.0" text-anchor="start" fill="#222" stroke="#222" stroke-width="0.14">Effectors</text>
<text x="128.00" y="355.80" font-size="8.2" text-anchor="middle" fill="#1a1a1a" stroke="#1a1a1a" stroke-width="0.14">CD 4+ T-cells</text>
<text x="54.60" y="362.70" font-size="5.9" text-anchor="start" fill="#222" stroke="#222" stroke-width="0.12">10<tspan font-size="3.66" dy="-2.66">7</tspan></text>
<line x1="67.50" y1="360.70" x2="70.00" y2="360.70" stroke="#333" stroke-width="0.9"/>
<text x="54.60" y="381.50" font-size="5.9" text-anchor="start" fill="#222" stroke="#222" stroke-width="0.12">10<tspan font-size="3.66" dy="-2.66">6</tspan></text>
<line x1="67.50" y1="379.50" x2="70.00" y2="379.50" stroke="#333" stroke-width="0.9"/>
<text x="54.60" y="400.30" font-size="5.9" text-anchor="start" fill="#222" stroke="#222" stroke-width="0.12">10<tspan font-size="3.66" dy="-2.66">5</tspan></text>
<line x1="67.50" y1="398.30" x2="70.00" y2="398.30" stroke="#333" stroke-width="0.9"/>
<text x="54.60" y="419.20" font-size="5.9" text-anchor="start" fill="#222" stroke="#222" stroke-width="0.12">10<tspan font-size="3.66" dy="-2.66">4</tspan></text>
<line x1="67.50" y1="417.20" x2="70.00" y2="417.20" stroke="#333" stroke-width="0.9"/>
<text x="47.30" y="463.30" font-size="6.2" text-anchor="start" fill="#222" stroke="#222" stroke-width="0.12">−10<tspan font-size="3.84" dy="-2.79">3.7</tspan></text>
<line x1="67.00" y1="461.20" x2="70.00" y2="461.20" stroke="#333" stroke-width="1.0"/>
<line x1="66.90" y1="440.00" x2="69.80" y2="440.00" stroke="#888" stroke-width="0.9"/>
<line x1="66.90" y1="443.90" x2="69.80" y2="443.90" stroke="#000" stroke-width="2.2"/>
<line x1="66.90" y1="447.90" x2="69.80" y2="447.90" stroke="#555" stroke-width="0.9"/>
<text x="66.60" y="472.40" font-size="5.8" text-anchor="start" fill="#222" stroke="#222" stroke-width="0.12">10<tspan font-size="3.60" dy="-2.61">1</tspan></text>
<line x1="70.00" y1="461.20" x2="70.00" y2="462.70" stroke="#333" stroke-width="0.8"/>
<text x="90.30" y="472.40" font-size="5.8" text-anchor="start" fill="#222" stroke="#222" stroke-width="0.12">10<tspan font-size="3.60" dy="-2.61">2</tspan></text>
<line x1="93.70" y1="461.20" x2="93.70" y2="462.70" stroke="#333" stroke-width="0.8"/>
<text x="113.60" y="472.40" font-size="5.8" text-anchor="start" fill="#222" stroke="#222" stroke-width="0.12">10<tspan font-size="3.60" dy="-2.61">3</tspan></text>
<line x1="117.00" y1="461.20" x2="117.00" y2="462.70" stroke="#333" stroke-width="0.8"/>
<text x="137.40" y="472.40" font-size="5.8" text-anchor="start" fill="#222" stroke="#222" stroke-width="0.12">10<tspan font-size="3.60" dy="-2.61">4</tspan></text>
<line x1="140.80" y1="461.20" x2="140.80" y2="462.70" stroke="#333" stroke-width="0.8"/>
<text x="161.60" y="472.40" font-size="5.8" text-anchor="start" fill="#222" stroke="#222" stroke-width="0.12">10<tspan font-size="3.60" dy="-2.61">5</tspan></text>
<line x1="165.00" y1="461.20" x2="165.00" y2="462.70" stroke="#333" stroke-width="0.8"/>
<text x="184.80" y="472.40" font-size="5.8" text-anchor="start" fill="#222" stroke="#222" stroke-width="0.12">10<tspan font-size="3.60" dy="-2.61">6</tspan></text>
<line x1="188.20" y1="461.20" x2="188.20" y2="462.70" stroke="#333" stroke-width="0.8"/>
<text x="0.00" y="0.00" font-size="7.2" text-anchor="middle" fill="#1a1a1a" transform="translate(124.40,484.50) scale(0.736,1)" stroke="#1a1a1a" stroke-width="0.3">CD44-BV785-H</text>
<line x1="60.40" y1="489.50" x2="184.50" y2="489.50" stroke="#5a5a5a" stroke-width="1.2"/>
<path d="M183.50,487.30 L188.50,489.50 L183.50,491.70 Z" fill="#5a5a5a" stroke="none" stroke-width="1"/>
<text x="0.00" y="0.00" font-size="7.4" text-anchor="middle" fill="#1a1a1a" transform="translate(124.50,499.50) scale(0.67,1)" stroke="#1a1a1a" stroke-width="0.3">CD62L</text>
<line x1="31.90" y1="366.00" x2="31.90" y2="463.00" stroke="#5a5a5a" stroke-width="1.2"/>
<path d="M29.70,367.00 L31.90,362.00 L34.10,367.00 Z" fill="#5a5a5a" stroke="none" stroke-width="1"/>
<text x="0.00" y="0.00" font-size="7.2" text-anchor="middle" fill="#1a1a1a" transform="translate(27.30,412.40) rotate(-90) scale(0.67,1)" stroke="#1a1a1a" stroke-width="0.18">CD44</text>
<text x="0.00" y="0.00" font-size="7.0" text-anchor="middle" fill="#1a1a1a" transform="translate(42.20,412.80) rotate(-90) scale(0.79,1)" stroke="#1a1a1a" stroke-width="0.28">CD62L-PE-Cy7 (Y)-H</text>
<rect x="70.00" y="530.70" width="118.40" height="100.50" fill="#fff" stroke="#6a6a6a" stroke-width="1.1"/>
<rect x="112" y="545.2" width="58" height="4.4" rx="2" fill="#cf0a12" fill-opacity="0.45"/>
<path d="M128.0,548.0h1.2v1.2h-1.2zM168.1,543.6h1.2v1.2h-1.2zM170.0,548.0h1.2v1.2h-1.2zM118.1,547.4h1.2v1.2h-1.2zM121.4,545.4h1.2v1.2h-1.2zM140.3,545.3h1.2v1.2h-1.2zM161.7,546.9h1.2v1.2h-1.2zM140.6,547.4h1.2v1.2h-1.2zM166.5,546.4h1.2v1.2h-1.2zM159.0,548.8h1.2v1.2h-1.2zM158.5,546.4h1.2v1.2h-1.2zM142.8,547.7h1.2v1.2h-1.2zM133.0,546.0h1.2v1.2h-1.2zM116.3,549.5h1.2v1.2h-1.2zM126.7,548.9h1.2v1.2h-1.2zM121.4,548.1h1.2v1.2h-1.2zM151.1,549.7h1.2v1.2h-1.2zM158.1,545.4h1.2v1.2h-1.2zM169.8,545.3h1.2v1.2h-1.2zM133.4,550.7h1.2v1.2h-1.2zM119.1,548.3h1.2v1.2h-1.2zM115.0,547.0h1.2v1.2h-1.2zM143.5,548.1h1.2v1.2h-1.2zM128.2,547.4h1.2v1.2h-1.2zM114.8,545.2h1.2v1.2h-1.2zM149.9,545.8h1.2v1.2h-1.2zM154.4,546.1h1.2v1.2h-1.2zM121.4,548.3h1.2v1.2h-1.2zM156.4,548.8h1.2v1.2h-1.2zM143.2,549.3h1.2v1.2h-1.2zM143.4,547.9h1.2v1.2h-1.2zM121.5,546.1h1.2v1.2h-1.2zM162.0,548.4h1.2v1.2h-1.2zM133.5,547.4h1.2v1.2h-1.2zM137.9,546.0h1.2v1.2h-1.2zM113.1,546.7h1.2v1.2h-1.2zM121.3,547.3h1.2v1.2h-1.2zM130.2,547.1h1.2v1.2h-1.2zM148.3,547.3h1.2v1.2h-1.2zM148.9,547.6h1.2v1.2h-1.2zM147.8,549.4h1.2v1.2h-1.2zM160.2,547.1h1.2v1.2h-1.2zM131.8,545.9h1.2v1.2h-1.2zM148.8,548.8h1.2v1.2h-1.2zM138.3,548.4h1.2v1.2h-1.2zM140.2,545.2h1.2v1.2h-1.2zM114.7,547.5h1.2v1.2h-1.2zM132.4,547.8h1.2v1.2h-1.2zM123.4,547.0h1.2v1.2h-1.2zM162.2,549.6h1.2v1.2h-1.2zM136.7,548.2h1.2v1.2h-1.2zM160.9,550.2h1.2v1.2h-1.2zM159.0,548.3h1.2v1.2h-1.2zM155.1,547.2h1.2v1.2h-1.2zM141.1,548.2h1.2v1.2h-1.2zM142.8,547.3h1.2v1.2h-1.2zM165.7,547.3h1.2v1.2h-1.2zM161.5,548.3h1.2v1.2h-1.2zM156.2,548.3h1.2v1.2h-1.2zM144.6,547.8h1.2v1.2h-1.2zM162.5,545.7h1.2v1.2h-1.2zM133.2,547.3h1.2v1.2h-1.2zM157.1,548.2h1.2v1.2h-1.2zM167.1,546.7h1.2v1.2h-1.2zM131.2,549.1h1.2v1.2h-1.2zM112.3,549.5h1.2v1.2h-1.2zM149.4,547.3h1.2v1.2h-1.2zM116.8,547.0h1.2v1.2h-1.2zM133.1,548.4h1.2v1.2h-1.2zM166.0,549.1h1.2v1.2h-1.2zM139.6,546.7h1.2v1.2h-1.2zM117.2,547.0h1.2v1.2h-1.2zM140.9,548.0h1.2v1.2h-1.2zM113.6,546.5h1.2v1.2h-1.2zM140.9,550.2h1.2v1.2h-1.2zM154.8,548.9h1.2v1.2h-1.2zM126.2,548.3h1.2v1.2h-1.2zM128.0,546.2h1.2v1.2h-1.2zM165.3,545.6h1.2v1.2h-1.2zM169.9,544.4h1.2v1.2h-1.2zM117.6,547.3h1.2v1.2h-1.2zM152.2,546.3h1.2v1.2h-1.2zM118.9,547.4h1.2v1.2h-1.2zM116.9,548.9h1.2v1.2h-1.2zM156.2,547.0h1.2v1.2h-1.2zM121.4,544.7h1.2v1.2h-1.2zM125.2,547.9h1.2v1.2h-1.2zM126.7,547.7h1.2v1.2h-1.2zM111.4,548.4h1.2v1.2h-1.2zM165.6,546.1h1.2v1.2h-1.2zM126.7,547.9h1.2v1.2h-1.2zM124.5,550.2h1.2v1.2h-1.2zM134.6,546.1h1.2v1.2h-1.2zM136.0,545.9h1.2v1.2h-1.2zM155.9,546.0h1.2v1.2h-1.2zM112.2,546.9h1.2v1.2h-1.2zM164.9,547.5h1.2v1.2h-1.2zM153.1,549.3h1.2v1.2h-1.2zM158.5,546.7h1.2v1.2h-1.2zM123.5,545.3h1.2v1.2h-1.2zM139.9,548.0h1.2v1.2h-1.2zM156.1,546.2h1.2v1.2h-1.2zM145.3,545.4h1.2v1.2h-1.2zM152.2,546.5h1.2v1.2h-1.2zM140.9,547.8h1.2v1.2h-1.2zM135.6,547.3h1.2v1.2h-1.2zM115.1,547.3h1.2v1.2h-1.2zM152.1,545.9h1.2v1.2h-1.2zM146.5,547.1h1.2v1.2h-1.2zM153.8,545.4h1.2v1.2h-1.2zM149.3,545.3h1.2v1.2h-1.2zM145.1,548.4h1.2v1.2h-1.2zM142.4,544.6h1.2v1.2h-1.2zM135.1,549.7h1.2v1.2h-1.2zM170.9,547.4h1.2v1.2h-1.2zM131.4,547.6h1.2v1.2h-1.2zM125.7,546.7h1.2v1.2h-1.2zM130.9,545.2h1.2v1.2h-1.2zM133.9,548.6h1.2v1.2h-1.2zM152.1,548.6h1.2v1.2h-1.2zM134.4,547.5h1.2v1.2h-1.2zM149.3,547.2h1.2v1.2h-1.2zM164.2,548.9h1.2v1.2h-1.2zM125.6,546.7h1.2v1.2h-1.2zM142.1,547.1h1.2v1.2h-1.2zM126.8,547.7h1.2v1.2h-1.2zM166.4,548.0h1.2v1.2h-1.2zM124.3,549.4h1.2v1.2h-1.2zM144.2,546.4h1.2v1.2h-1.2zM139.0,543.8h1.2v1.2h-1.2zM149.1,548.6h1.2v1.2h-1.2zM136.0,547.5h1.2v1.2h-1.2zM156.9,548.3h1.2v1.2h-1.2zM143.8,545.6h1.2v1.2h-1.2zM165.3,546.4h1.2v1.2h-1.2zM164.9,546.1h1.2v1.2h-1.2zM141.6,547.1h1.2v1.2h-1.2zM155.2,546.8h1.2v1.2h-1.2zM151.6,547.8h1.2v1.2h-1.2zM122.4,544.7h1.2v1.2h-1.2zM117.8,546.3h1.2v1.2h-1.2zM133.3,547.4h1.2v1.2h-1.2zM150.1,547.7h1.2v1.2h-1.2zM147.9,547.9h1.2v1.2h-1.2zM125.1,544.8h1.2v1.2h-1.2zM116.2,547.4h1.2v1.2h-1.2zM153.5,547.9h1.2v1.2h-1.2zM145.1,549.9h1.2v1.2h-1.2zM144.5,544.6h1.2v1.2h-1.2zM150.8,547.1h1.2v1.2h-1.2zM125.5,547.2h1.2v1.2h-1.2zM145.9,544.8h1.2v1.2h-1.2zM156.1,547.3h1.2v1.2h-1.2zM134.8,547.5h1.2v1.2h-1.2zM133.7,548.2h1.2v1.2h-1.2zM160.5,545.0h1.2v1.2h-1.2zM110.1,548.8h1.2v1.2h-1.2zM122.5,546.5h1.2v1.2h-1.2zM139.9,549.9h1.2v1.2h-1.2zM160.3,547.8h1.2v1.2h-1.2zM113.5,545.7h1.2v1.2h-1.2zM148.5,546.8h1.2v1.2h-1.2zM132.4,549.8h1.2v1.2h-1.2zM119.3,546.3h1.2v1.2h-1.2zM146.1,546.1h1.2v1.2h-1.2zM162.7,547.5h1.2v1.2h-1.2zM141.1,546.1h1.2v1.2h-1.2zM133.7,548.0h1.2v1.2h-1.2zM122.2,544.3h1.2v1.2h-1.2zM146.3,549.1h1.2v1.2h-1.2zM112.1,545.1h1.2v1.2h-1.2zM116.0,548.6h1.2v1.2h-1.2zM158.6,548.9h1.2v1.2h-1.2zM115.0,548.5h1.2v1.2h-1.2zM162.4,544.6h1.2v1.2h-1.2zM141.9,548.4h1.2v1.2h-1.2zM167.6,550.2h1.2v1.2h-1.2zM168.9,547.1h1.2v1.2h-1.2zM146.3,549.4h1.2v1.2h-1.2zM135.7,546.0h1.2v1.2h-1.2zM142.9,548.9h1.2v1.2h-1.2zM136.0,547.9h1.2v1.2h-1.2zM144.7,548.7h1.2v1.2h-1.2zM153.8,547.1h1.2v1.2h-1.2zM136.6,548.2h1.2v1.2h-1.2zM127.9,544.8h1.2v1.2h-1.2zM155.6,549.4h1.2v1.2h-1.2zM129.3,546.4h1.2v1.2h-1.2zM139.7,547.0h1.2v1.2h-1.2zM141.7,547.3h1.2v1.2h-1.2zM125.8,547.0h1.2v1.2h-1.2zM144.0,547.4h1.2v1.2h-1.2zM170.6,548.2h1.2v1.2h-1.2zM165.7,547.0h1.2v1.2h-1.2zM111.4,545.1h1.2v1.2h-1.2zM121.5,548.8h1.2v1.2h-1.2zM165.8,547.3h1.2v1.2h-1.2zM126.9,546.0h1.2v1.2h-1.2zM112.3,548.0h1.2v1.2h-1.2zM126.9,546.2h1.2v1.2h-1.2zM121.5,548.5h1.2v1.2h-1.2zM146.6,548.8h1.2v1.2h-1.2zM139.4,546.4h1.2v1.2h-1.2zM111.7,548.1h1.2v1.2h-1.2zM141.0,546.7h1.2v1.2h-1.2zM130.9,548.7h1.2v1.2h-1.2zM112.9,546.5h1.2v1.2h-1.2zM134.6,549.2h1.2v1.2h-1.2zM170.6,546.1h1.2v1.2h-1.2zM149.1,546.7h1.2v1.2h-1.2zM160.0,547.3h1.2v1.2h-1.2zM142.7,546.9h1.2v1.2h-1.2zM169.6,547.9h1.2v1.2h-1.2zM140.3,546.3h1.2v1.2h-1.2zM142.6,547.5h1.2v1.2h-1.2zM146.3,545.1h1.2v1.2h-1.2zM170.5,547.6h1.2v1.2h-1.2zM111.4,543.7h1.2v1.2h-1.2zM131.6,550.4h1.2v1.2h-1.2zM140.1,547.3h1.2v1.2h-1.2zM110.8,546.6h1.2v1.2h-1.2zM128.3,547.8h1.2v1.2h-1.2zM118.8,550.0h1.2v1.2h-1.2zM110.0,544.1h1.2v1.2h-1.2zM120.5,546.6h1.2v1.2h-1.2zM159.6,549.2h1.2v1.2h-1.2zM134.7,546.0h1.2v1.2h-1.2zM139.8,545.9h1.2v1.2h-1.2zM148.7,547.7h1.2v1.2h-1.2zM127.8,547.2h1.2v1.2h-1.2zM113.8,546.7h1.2v1.2h-1.2zM127.8,545.1h1.2v1.2h-1.2zM123.1,547.8h1.2v1.2h-1.2zM153.5,545.8h1.2v1.2h-1.2zM118.0,549.8h1.2v1.2h-1.2zM133.1,547.0h1.2v1.2h-1.2zM162.5,547.9h1.2v1.2h-1.2zM151.4,547.7h1.2v1.2h-1.2zM160.5,547.1h1.2v1.2h-1.2zM121.7,547.9h1.2v1.2h-1.2zM111.2,547.8h1.2v1.2h-1.2zM121.5,545.3h1.2v1.2h-1.2zM154.8,548.1h1.2v1.2h-1.2zM136.8,546.1h1.2v1.2h-1.2zM112.4,547.8h1.2v1.2h-1.2zM150.1,547.1h1.2v1.2h-1.2zM167.9,549.2h1.2v1.2h-1.2zM126.7,549.8h1.2v1.2h-1.2zM164.0,547.7h1.2v1.2h-1.2zM158.9,545.0h1.2v1.2h-1.2zM140.4,550.4h1.2v1.2h-1.2zM149.5,545.4h1.2v1.2h-1.2zM142.3,545.7h1.2v1.2h-1.2zM154.1,548.5h1.2v1.2h-1.2zM115.1,547.8h1.2v1.2h-1.2zM164.1,548.7h1.2v1.2h-1.2zM141.1,546.8h1.2v1.2h-1.2zM112.7,548.5h1.2v1.2h-1.2zM140.1,548.2h1.2v1.2h-1.2zM163.1,543.5h1.2v1.2h-1.2z" fill="#a0000c" fill-opacity="0.6"/>
<path d="M137.9,546.0h1v1h-1zM117.0,545.3h1v1h-1zM108.7,546.4h1v1h-1zM159.1,548.2h1v1h-1zM151.5,545.7h1v1h-1zM149.7,546.1h1v1h-1zM117.2,546.4h1v1h-1zM165.1,547.7h1v1h-1zM111.7,547.6h1v1h-1zM151.3,546.7h1v1h-1zM129.2,544.8h1v1h-1zM109.2,549.0h1v1h-1zM111.8,548.9h1v1h-1zM113.7,546.3h1v1h-1zM170.2,548.0h1v1h-1zM134.7,547.0h1v1h-1zM116.5,546.4h1v1h-1zM118.3,549.4h1v1h-1zM151.9,548.2h1v1h-1zM159.4,547.6h1v1h-1zM133.2,545.4h1v1h-1zM138.0,548.4h1v1h-1zM132.2,549.8h1v1h-1zM168.9,547.8h1v1h-1zM169.5,546.5h1v1h-1zM130.9,546.0h1v1h-1zM151.5,546.9h1v1h-1zM122.8,546.6h1v1h-1zM130.9,544.4h1v1h-1zM139.5,547.1h1v1h-1zM109.8,548.0h1v1h-1zM140.7,545.8h1v1h-1zM122.0,545.9h1v1h-1zM156.6,548.0h1v1h-1zM114.5,546.3h1v1h-1zM151.8,547.0h1v1h-1zM110.3,547.1h1v1h-1zM148.1,548.7h1v1h-1zM111.3,546.2h1v1h-1zM125.8,547.6h1v1h-1zM138.0,549.1h1v1h-1zM168.2,546.8h1v1h-1zM118.6,548.7h1v1h-1zM119.9,546.6h1v1h-1zM155.2,547.5h1v1h-1zM124.9,547.2h1v1h-1zM156.6,546.7h1v1h-1zM108.5,548.3h1v1h-1zM110.5,543.9h1v1h-1zM170.9,544.2h1v1h-1zM139.7,548.7h1v1h-1zM157.6,547.5h1v1h-1zM160.4,546.6h1v1h-1zM141.2,546.4h1v1h-1zM138.1,546.4h1v1h-1zM167.6,546.4h1v1h-1zM164.3,548.0h1v1h-1zM163.0,548.4h1v1h-1zM125.5,549.1h1v1h-1zM151.8,546.6h1v1h-1zM152.4,547.6h1v1h-1zM124.1,548.6h1v1h-1zM151.0,547.0h1v1h-1zM163.8,546.5h1v1h-1zM134.5,547.4h1v1h-1zM169.7,549.0h1v1h-1zM143.3,544.8h1v1h-1zM168.6,544.8h1v1h-1zM155.9,545.4h1v1h-1zM164.8,548.4h1v1h-1zM157.7,546.0h1v1h-1zM131.2,546.6h1v1h-1zM154.4,547.0h1v1h-1zM152.7,547.2h1v1h-1zM164.9,548.3h1v1h-1zM165.4,544.0h1v1h-1zM141.7,547.7h1v1h-1zM114.2,545.8h1v1h-1zM130.2,545.9h1v1h-1zM151.4,550.8h1v1h-1zM142.1,546.7h1v1h-1zM141.7,546.7h1v1h-1zM152.1,546.4h1v1h-1zM133.6,548.0h1v1h-1zM128.4,547.0h1v1h-1zM113.7,546.5h1v1h-1zM127.7,546.4h1v1h-1zM149.5,544.8h1v1h-1zM166.9,547.0h1v1h-1zM138.7,547.6h1v1h-1zM136.0,548.3h1v1h-1zM129.5,549.4h1v1h-1zM123.0,545.5h1v1h-1zM108.5,550.7h1v1h-1zM130.7,547.1h1v1h-1zM135.2,548.4h1v1h-1zM121.9,548.9h1v1h-1zM152.0,546.4h1v1h-1zM118.2,545.2h1v1h-1zM161.1,547.8h1v1h-1zM123.7,544.3h1v1h-1zM160.4,548.1h1v1h-1zM122.3,544.7h1v1h-1zM132.9,546.7h1v1h-1zM150.4,545.1h1v1h-1zM142.9,543.6h1v1h-1zM150.9,545.8h1v1h-1zM128.3,549.4h1v1h-1zM139.5,546.4h1v1h-1zM116.6,548.4h1v1h-1zM122.2,546.1h1v1h-1zM110.9,547.0h1v1h-1zM158.6,546.5h1v1h-1zM145.7,551.0h1v1h-1zM132.5,549.7h1v1h-1zM128.2,544.9h1v1h-1zM115.9,545.4h1v1h-1zM146.3,544.9h1v1h-1zM157.4,545.4h1v1h-1zM124.6,548.5h1v1h-1zM133.6,546.2h1v1h-1zM133.2,548.4h1v1h-1zM158.9,547.8h1v1h-1zM124.0,548.2h1v1h-1zM169.2,546.8h1v1h-1zM160.6,547.2h1v1h-1zM163.0,548.0h1v1h-1zM154.3,545.9h1v1h-1zM127.2,549.4h1v1h-1zM160.5,549.7h1v1h-1zM121.3,547.6h1v1h-1zM127.4,547.1h1v1h-1zM108.8,547.8h1v1h-1zM153.1,548.1h1v1h-1zM126.7,547.7h1v1h-1zM127.7,548.2h1v1h-1zM162.3,546.7h1v1h-1zM151.2,546.8h1v1h-1zM141.8,545.4h1v1h-1zM149.0,547.9h1v1h-1zM158.4,545.0h1v1h-1zM137.4,547.2h1v1h-1zM147.9,546.0h1v1h-1zM140.5,548.4h1v1h-1zM153.0,546.7h1v1h-1zM139.0,550.9h1v1h-1zM161.9,545.8h1v1h-1zM151.0,543.6h1v1h-1zM134.9,545.5h1v1h-1zM155.5,548.5h1v1h-1zM160.9,547.7h1v1h-1zM114.8,547.7h1v1h-1zM113.3,547.5h1v1h-1zM123.7,547.4h1v1h-1zM115.1,546.4h1v1h-1zM168.8,545.3h1v1h-1zM168.5,547.2h1v1h-1zM109.8,543.4h1v1h-1zM122.4,548.9h1v1h-1zM121.0,546.5h1v1h-1zM155.7,545.5h1v1h-1zM127.9,548.2h1v1h-1zM123.2,549.2h1v1h-1zM168.0,548.4h1v1h-1zM170.2,547.7h1v1h-1zM130.8,543.6h1v1h-1zM126.8,549.2h1v1h-1zM150.2,546.3h1v1h-1zM108.8,547.5h1v1h-1zM154.1,549.1h1v1h-1zM160.0,547.4h1v1h-1zM132.0,545.8h1v1h-1zM162.3,549.1h1v1h-1zM120.3,547.2h1v1h-1zM147.3,545.8h1v1h-1zM122.5,547.0h1v1h-1zM132.3,546.7h1v1h-1zM142.1,546.8h1v1h-1zM168.0,547.3h1v1h-1zM134.4,546.1h1v1h-1zM114.4,547.1h1v1h-1zM118.9,545.0h1v1h-1zM142.5,545.6h1v1h-1zM131.8,546.1h1v1h-1zM127.5,543.9h1v1h-1zM128.8,551.7h1v1h-1zM139.7,546.3h1v1h-1zM133.2,547.5h1v1h-1zM120.9,546.6h1v1h-1zM130.0,548.7h1v1h-1zM167.1,546.9h1v1h-1zM149.4,548.7h1v1h-1zM133.0,545.0h1v1h-1zM112.6,547.1h1v1h-1zM150.3,548.3h1v1h-1zM159.0,548.0h1v1h-1zM170.3,546.8h1v1h-1zM135.6,546.4h1v1h-1zM125.8,547.9h1v1h-1zM120.4,546.3h1v1h-1zM148.2,545.9h1v1h-1zM138.2,545.7h1v1h-1zM168.4,543.7h1v1h-1zM132.7,548.3h1v1h-1zM137.3,545.7h1v1h-1zM155.3,549.3h1v1h-1zM123.1,544.8h1v1h-1zM139.6,546.9h1v1h-1zM149.7,545.4h1v1h-1zM130.4,545.6h1v1h-1zM127.3,550.6h1v1h-1zM157.8,547.8h1v1h-1zM132.6,550.7h1v1h-1zM117.5,546.6h1v1h-1zM160.7,546.1h1v1h-1zM124.3,548.0h1v1h-1zM134.1,547.8h1v1h-1zM115.4,547.5h1v1h-1zM127.4,547.7h1v1h-1zM160.4,548.0h1v1h-1zM131.9,545.1h1v1h-1zM166.8,547.4h1v1h-1zM117.2,547.7h1v1h-1zM165.3,550.4h1v1h-1zM166.7,545.8h1v1h-1zM119.9,547.0h1v1h-1zM165.4,547.5h1v1h-1zM157.9,545.3h1v1h-1zM124.4,543.9h1v1h-1zM114.8,546.6h1v1h-1zM146.9,548.5h1v1h-1zM160.9,550.1h1v1h-1zM148.6,547.0h1v1h-1zM139.1,547.4h1v1h-1zM130.6,546.8h1v1h-1zM166.0,547.7h1v1h-1zM140.9,544.5h1v1h-1zM164.5,546.1h1v1h-1zM142.6,544.3h1v1h-1zM131.5,546.5h1v1h-1zM164.7,550.1h1v1h-1zM141.2,547.7h1v1h-1zM147.2,548.4h1v1h-1zM133.7,547.2h1v1h-1zM158.4,547.3h1v1h-1zM157.0,545.4h1v1h-1zM150.7,548.9h1v1h-1zM130.9,545.6h1v1h-1zM126.1,548.0h1v1h-1zM110.7,547.7h1v1h-1zM169.5,548.7h1v1h-1zM116.4,549.0h1v1h-1zM168.9,546.3h1v1h-1zM160.1,547.1h1v1h-1zM162.2,548.4h1v1h-1zM133.4,547.1h1v1h-1zM149.6,546.9h1v1h-1zM152.2,549.3h1v1h-1zM155.3,548.5h1v1h-1zM126.0,544.9h1v1h-1zM155.6,546.4h1v1h-1zM109.3,547.7h1v1h-1zM147.2,546.9h1v1h-1zM138.9,547.9h1v1h-1zM134.1,546.4h1v1h-1zM141.9,549.1h1v1h-1zM141.4,550.8h1v1h-1zM126.8,547.0h1v1h-1zM162.9,545.8h1v1h-1zM111.6,550.8h1v1h-1zM128.0,549.4h1v1h-1zM152.5,546.3h1v1h-1zM120.9,550.2h1v1h-1zM112.2,550.1h1v1h-1zM119.1,544.6h1v1h-1zM150.8,548.5h1v1h-1zM170.9,547.6h1v1h-1zM165.4,545.6h1v1h-1zM127.9,551.1h1v1h-1zM163.5,548.6h1v1h-1zM149.6,546.2h1v1h-1zM121.8,547.4h1v1h-1zM112.2,548.8h1v1h-1zM164.5,548.3h1v1h-1zM166.7,544.9h1v1h-1zM137.5,547.1h1v1h-1zM156.9,546.0h1v1h-1zM161.3,542.8h1v1h-1zM150.7,546.5h1v1h-1zM137.7,546.8h1v1h-1zM136.2,547.9h1v1h-1zM133.9,548.2h1v1h-1zM119.1,546.3h1v1h-1zM170.2,546.3h1v1h-1zM151.1,545.6h1v1h-1zM132.7,547.1h1v1h-1zM120.6,550.7h1v1h-1zM149.0,546.5h1v1h-1zM149.0,548.5h1v1h-1zM118.5,548.9h1v1h-1zM128.4,546.5h1v1h-1zM122.7,546.8h1v1h-1zM154.0,544.0h1v1h-1zM118.0,547.6h1v1h-1zM113.6,549.3h1v1h-1zM151.7,546.5h1v1h-1zM143.0,549.9h1v1h-1zM139.2,550.8h1v1h-1zM165.3,548.1h1v1h-1zM142.6,548.3h1v1h-1zM123.6,548.1h1v1h-1zM113.0,546.3h1v1h-1zM118.3,546.8h1v1h-1zM163.3,551.2h1v1h-1zM150.2,546.9h1v1h-1zM160.4,547.5h1v1h-1zM115.9,547.8h1v1h-1zM162.3,548.9h1v1h-1zM119.5,550.5h1v1h-1zM108.5,548.6h1v1h-1zM154.3,548.2h1v1h-1zM121.1,548.3h1v1h-1zM135.7,550.0h1v1h-1zM141.8,545.8h1v1h-1zM113.5,547.9h1v1h-1zM158.0,548.5h1v1h-1zM165.7,548.7h1v1h-1zM168.5,547.5h1v1h-1zM117.5,548.4h1v1h-1zM164.0,547.9h1v1h-1zM124.6,547.2h1v1h-1zM149.5,546.5h1v1h-1zM118.7,545.1h1v1h-1zM163.4,545.8h1v1h-1zM135.5,548.9h1v1h-1zM167.8,547.1h1v1h-1zM165.6,548.1h1v1h-1zM125.2,547.3h1v1h-1zM151.9,548.2h1v1h-1zM156.4,546.5h1v1h-1zM138.0,548.0h1v1h-1zM108.5,547.3h1v1h-1zM122.4,549.5h1v1h-1zM162.4,546.3h1v1h-1zM165.7,545.4h1v1h-1zM149.2,548.8h1v1h-1zM151.6,550.1h1v1h-1zM117.9,549.1h1v1h-1zM136.1,546.3h1v1h-1zM160.1,544.9h1v1h-1zM127.7,546.5h1v1h-1zM111.0,549.8h1v1h-1zM163.0,546.7h1v1h-1zM127.7,548.8h1v1h-1zM153.0,547.7h1v1h-1zM112.2,548.1h1v1h-1zM116.2,543.9h1v1h-1zM108.4,543.9h1v1h-1zM137.1,546.5h1v1h-1zM129.7,548.4h1v1h-1zM114.8,546.2h1v1h-1zM111.8,547.9h1v1h-1zM116.5,549.6h1v1h-1zM169.9,546.2h1v1h-1zM159.3,547.2h1v1h-1zM114.9,546.2h1v1h-1zM170.0,546.3h1v1h-1zM117.0,545.0h1v1h-1zM157.9,546.6h1v1h-1zM121.3,547.1h1v1h-1zM169.0,546.8h1v1h-1zM113.1,546.8h1v1h-1zM155.3,546.2h1v1h-1zM116.6,548.8h1v1h-1zM119.2,545.6h1v1h-1zM119.7,547.3h1v1h-1zM117.5,546.6h1v1h-1zM111.9,547.6h1v1h-1zM137.8,549.8h1v1h-1zM156.4,548.1h1v1h-1zM152.4,548.2h1v1h-1zM134.6,547.0h1v1h-1zM134.1,550.1h1v1h-1zM110.6,548.7h1v1h-1zM169.9,545.2h1v1h-1zM111.8,543.2h1v1h-1zM164.3,550.0h1v1h-1zM144.5,546.7h1v1h-1zM148.8,544.2h1v1h-1zM144.4,547.7h1v1h-1zM142.5,545.4h1v1h-1zM145.0,548.6h1v1h-1zM167.2,547.5h1v1h-1zM153.4,545.9h1v1h-1zM122.7,545.4h1v1h-1zM153.8,547.5h1v1h-1zM112.6,547.9h1v1h-1zM147.0,548.1h1v1h-1zM118.7,544.2h1v1h-1zM134.9,546.1h1v1h-1zM122.1,546.0h1v1h-1zM135.5,546.4h1v1h-1zM119.2,546.7h1v1h-1zM170.1,546.0h1v1h-1zM139.3,545.8h1v1h-1zM170.0,544.0h1v1h-1zM109.3,548.0h1v1h-1zM167.8,547.0h1v1h-1zM157.7,547.2h1v1h-1zM143.5,549.8h1v1h-1zM136.5,546.1h1v1h-1zM149.4,546.0h1v1h-1zM151.8,549.6h1v1h-1zM152.4,547.4h1v1h-1zM162.6,545.4h1v1h-1zM117.1,546.9h1v1h-1zM120.3,547.8h1v1h-1zM164.7,546.9h1v1h-1zM115.8,545.6h1v1h-1zM109.9,548.8h1v1h-1zM136.2,547.8h1v1h-1zM119.1,545.8h1v1h-1zM111.8,548.0h1v1h-1zM150.2,547.1h1v1h-1zM148.2,546.9h1v1h-1zM151.2,549.3h1v1h-1zM121.1,547.4h1v1h-1zM121.1,550.9h1v1h-1zM138.8,544.6h1v1h-1zM162.0,548.1h1v1h-1zM156.1,545.9h1v1h-1zM113.8,545.9h1v1h-1zM144.2,544.8h1v1h-1zM131.7,548.4h1v1h-1zM115.7,545.1h1v1h-1zM139.3,549.3h1v1h-1zM150.1,548.4h1v1h-1zM124.8,547.7h1v1h-1zM138.5,550.1h1v1h-1zM128.9,549.9h1v1h-1zM108.1,547.4h1v1h-1zM146.8,549.2h1v1h-1zM159.3,550.9h1v1h-1zM161.9,549.5h1v1h-1zM140.4,546.5h1v1h-1zM117.4,546.2h1v1h-1zM108.6,550.6h1v1h-1zM136.1,546.5h1v1h-1zM145.9,544.9h1v1h-1zM114.3,547.7h1v1h-1zM155.5,548.3h1v1h-1zM147.2,549.2h1v1h-1zM161.4,546.5h1v1h-1zM159.4,546.6h1v1h-1zM131.6,544.7h1v1h-1zM169.6,546.2h1v1h-1zM114.6,546.0h1v1h-1zM161.4,547.7h1v1h-1zM133.1,549.7h1v1h-1zM134.4,545.8h1v1h-1zM156.1,547.0h1v1h-1zM126.7,546.6h1v1h-1zM116.6,548.1h1v1h-1zM126.9,545.9h1v1h-1zM153.2,548.2h1v1h-1zM151.6,547.2h1v1h-1zM122.4,548.0h1v1h-1zM156.4,544.7h1v1h-1zM144.7,549.5h1v1h-1zM115.0,549.5h1v1h-1zM144.5,548.5h1v1h-1zM138.3,547.0h1v1h-1zM150.6,546.4h1v1h-1zM134.2,546.2h1v1h-1zM164.5,547.1h1v1h-1zM150.8,546.3h1v1h-1zM161.7,544.6h1v1h-1zM124.7,545.3h1v1h-1zM126.2,548.1h1v1h-1zM116.0,546.4h1v1h-1zM117.3,549.5h1v1h-1zM120.5,545.3h1v1h-1zM154.7,548.0h1v1h-1zM108.7,549.4h1v1h-1zM144.3,547.3h1v1h-1zM147.6,545.4h1v1h-1zM115.4,544.6h1v1h-1zM131.5,548.0h1v1h-1zM154.9,544.9h1v1h-1zM154.6,545.6h1v1h-1zM127.2,548.5h1v1h-1zM134.9,544.6h1v1h-1zM153.3,545.5h1v1h-1zM128.5,548.4h1v1h-1zM137.1,546.1h1v1h-1zM146.6,550.5h1v1h-1zM146.7,545.5h1v1h-1zM119.0,547.0h1v1h-1zM148.8,545.9h1v1h-1zM140.3,547.8h1v1h-1zM116.2,545.6h1v1h-1zM131.1,545.1h1v1h-1zM118.2,549.5h1v1h-1zM128.1,546.9h1v1h-1zM113.7,546.3h1v1h-1zM164.6,546.8h1v1h-1zM153.1,547.0h1v1h-1zM113.5,548.9h1v1h-1zM122.1,544.2h1v1h-1zM134.9,546.1h1v1h-1zM168.6,547.3h1v1h-1zM160.9,548.0h1v1h-1zM131.8,547.0h1v1h-1zM146.5,549.0h1v1h-1zM121.9,549.0h1v1h-1zM149.4,548.6h1v1h-1zM143.3,549.0h1v1h-1zM135.1,550.0h1v1h-1zM142.1,547.9h1v1h-1zM139.2,546.7h1v1h-1zM134.7,546.6h1v1h-1zM123.2,546.4h1v1h-1zM122.3,546.0h1v1h-1zM166.4,546.8h1v1h-1zM162.9,547.1h1v1h-1zM160.0,545.7h1v1h-1zM144.2,548.1h1v1h-1zM115.6,543.4h1v1h-1zM156.0,548.6h1v1h-1zM129.5,546.4h1v1h-1zM110.0,548.2h1v1h-1zM108.5,546.6h1v1h-1zM113.6,544.9h1v1h-1zM165.1,547.1h1v1h-1zM149.8,550.3h1v1h-1zM162.9,549.5h1v1h-1zM158.9,549.8h1v1h-1zM151.1,545.5h1v1h-1zM156.3,552.1h1v1h-1zM108.3,548.0h1v1h-1zM134.8,545.6h1v1h-1zM129.4,546.5h1v1h-1zM140.0,546.4h1v1h-1zM109.9,549.5h1v1h-1zM129.7,546.3h1v1h-1zM109.2,545.9h1v1h-1zM136.9,549.0h1v1h-1zM154.0,546.4h1v1h-1zM132.1,549.2h1v1h-1zM159.1,547.1h1v1h-1zM147.4,547.9h1v1h-1zM166.5,545.8h1v1h-1zM170.3,550.1h1v1h-1zM131.0,545.2h1v1h-1zM129.3,549.6h1v1h-1zM145.2,545.4h1v1h-1zM143.3,549.3h1v1h-1zM111.7,547.5h1v1h-1zM141.2,547.7h1v1h-1zM117.9,549.5h1v1h-1zM128.6,547.6h1v1h-1zM116.4,545.2h1v1h-1zM170.0,548.9h1v1h-1zM153.0,547.5h1v1h-1zM144.6,545.3h1v1h-1zM114.0,544.5h1v1h-1zM140.0,547.3h1v1h-1zM137.3,549.5h1v1h-1zM147.6,547.9h1v1h-1zM134.7,545.5h1v1h-1zM143.1,549.0h1v1h-1zM132.6,550.4h1v1h-1zM139.4,548.9h1v1h-1zM170.8,544.7h1v1h-1zM152.6,545.6h1v1h-1zM157.0,547.0h1v1h-1zM147.1,549.4h1v1h-1zM150.1,547.4h1v1h-1zM130.6,548.6h1v1h-1zM163.8,545.0h1v1h-1zM126.4,546.2h1v1h-1zM129.5,545.6h1v1h-1zM126.8,549.9h1v1h-1zM125.4,548.9h1v1h-1zM129.8,547.2h1v1h-1zM139.1,549.3h1v1h-1zM162.6,548.6h1v1h-1zM160.6,548.0h1v1h-1zM158.0,548.9h1v1h-1zM170.6,548.0h1v1h-1zM169.7,546.2h1v1h-1zM128.8,549.7h1v1h-1zM112.1,548.0h1v1h-1zM170.5,546.8h1v1h-1zM136.4,548.4h1v1h-1zM164.7,545.8h1v1h-1zM155.0,547.5h1v1h-1zM118.7,547.6h1v1h-1zM146.2,547.8h1v1h-1zM132.1,547.7h1v1h-1zM111.4,546.5h1v1h-1zM122.3,549.4h1v1h-1zM157.8,547.2h1v1h-1zM133.5,548.8h1v1h-1zM161.5,550.1h1v1h-1zM114.0,548.2h1v1h-1zM169.2,544.8h1v1h-1zM140.4,546.4h1v1h-1zM150.2,547.0h1v1h-1zM120.2,546.5h1v1h-1zM165.3,547.5h1v1h-1zM111.3,548.5h1v1h-1zM152.9,547.4h1v1h-1zM162.3,546.9h1v1h-1zM115.2,545.4h1v1h-1zM123.9,547.3h1v1h-1zM128.4,544.5h1v1h-1zM124.0,547.5h1v1h-1zM122.7,548.5h1v1h-1zM114.5,547.1h1v1h-1zM166.7,548.3h1v1h-1zM141.3,546.8h1v1h-1zM163.0,546.7h1v1h-1zM108.3,548.6h1v1h-1zM116.2,545.8h1v1h-1zM162.3,546.1h1v1h-1zM136.1,547.1h1v1h-1zM116.8,548.9h1v1h-1zM138.2,546.9h1v1h-1zM144.8,546.3h1v1h-1zM170.9,546.8h1v1h-1zM148.6,546.0h1v1h-1zM114.9,549.6h1v1h-1zM152.6,549.1h1v1h-1zM147.3,545.9h1v1h-1zM160.7,546.7h1v1h-1zM140.4,548.5h1v1h-1zM129.1,545.0h1v1h-1zM159.4,546.0h1v1h-1zM161.1,549.1h1v1h-1zM168.0,546.5h1v1h-1zM118.1,546.6h1v1h-1zM160.3,547.0h1v1h-1zM144.4,548.1h1v1h-1zM134.3,547.2h1v1h-1zM140.2,546.3h1v1h-1zM168.2,548.0h1v1h-1zM132.8,548.7h1v1h-1zM116.2,548.2h1v1h-1zM142.6,548.4h1v1h-1zM116.6,546.3h1v1h-1zM126.9,546.1h1v1h-1zM161.6,547.2h1v1h-1zM124.4,545.6h1v1h-1zM140.1,545.7h1v1h-1zM149.7,545.1h1v1h-1zM108.1,550.2h1v1h-1zM142.4,551.8h1v1h-1zM140.4,549.4h1v1h-1zM160.1,549.2h1v1h-1zM127.6,547.2h1v1h-1zM127.3,547.9h1v1h-1zM140.3,547.1h1v1h-1zM114.2,547.4h1v1h-1zM122.9,549.3h1v1h-1zM162.3,543.7h1v1h-1zM139.1,545.1h1v1h-1zM155.6,549.9h1v1h-1zM148.7,546.1h1v1h-1zM141.1,543.7h1v1h-1zM124.1,546.9h1v1h-1zM122.3,543.6h1v1h-1zM132.2,547.5h1v1h-1zM111.3,544.4h1v1h-1zM158.8,547.3h1v1h-1zM111.1,548.1h1v1h-1zM137.1,546.3h1v1h-1zM152.9,547.6h1v1h-1zM119.7,552.5h1v1h-1zM129.0,544.8h1v1h-1zM109.4,549.1h1v1h-1zM130.3,548.1h1v1h-1zM157.1,546.3h1v1h-1zM118.1,548.0h1v1h-1zM170.5,547.5h1v1h-1zM121.9,544.9h1v1h-1zM135.9,547.4h1v1h-1zM125.5,545.0h1v1h-1zM130.1,547.5h1v1h-1zM148.8,546.8h1v1h-1zM152.5,545.3h1v1h-1zM166.2,547.1h1v1h-1zM128.4,547.3h1v1h-1zM154.5,544.7h1v1h-1zM112.2,546.8h1v1h-1zM116.2,545.8h1v1h-1zM165.2,547.1h1v1h-1zM127.4,549.1h1v1h-1zM115.1,546.7h1v1h-1zM148.2,549.4h1v1h-1zM155.1,548.0h1v1h-1zM160.3,548.3h1v1h-1zM141.0,547.2h1v1h-1zM134.5,545.5h1v1h-1zM110.1,549.2h1v1h-1zM153.1,544.4h1v1h-1zM121.6,545.6h1v1h-1zM125.8,545.5h1v1h-1zM131.7,548.3h1v1h-1zM146.5,546.5h1v1h-1zM111.0,547.8h1v1h-1zM127.2,547.4h1v1h-1zM166.5,545.7h1v1h-1zM117.3,546.4h1v1h-1zM143.1,547.7h1v1h-1zM129.0,547.7h1v1h-1zM124.2,547.7h1v1h-1zM148.3,545.3h1v1h-1zM125.5,546.7h1v1h-1zM126.1,547.8h1v1h-1zM170.6,546.6h1v1h-1zM147.6,546.0h1v1h-1zM165.4,548.0h1v1h-1zM117.8,545.5h1v1h-1zM111.3,550.0h1v1h-1zM157.2,548.6h1v1h-1zM152.1,547.2h1v1h-1zM144.5,546.4h1v1h-1zM108.6,549.5h1v1h-1zM108.5,547.7h1v1h-1zM134.0,545.4h1v1h-1zM130.1,549.9h1v1h-1zM120.9,546.9h1v1h-1zM169.7,546.5h1v1h-1zM166.1,549.5h1v1h-1zM119.4,547.2h1v1h-1zM120.7,546.9h1v1h-1zM152.4,545.6h1v1h-1zM121.2,544.4h1v1h-1zM126.1,546.0h1v1h-1zM160.5,548.8h1v1h-1zM110.6,549.2h1v1h-1zM123.4,548.3h1v1h-1zM141.4,547.8h1v1h-1zM159.1,548.7h1v1h-1zM123.6,544.0h1v1h-1zM167.1,545.2h1v1h-1zM153.5,548.4h1v1h-1zM125.1,547.0h1v1h-1zM129.5,549.0h1v1h-1zM153.9,548.9h1v1h-1zM111.1,545.5h1v1h-1zM158.2,547.8h1v1h-1zM119.9,542.7h1v1h-1zM166.8,545.7h1v1h-1zM120.8,548.5h1v1h-1zM123.8,545.5h1v1h-1zM124.1,548.3h1v1h-1zM142.9,546.3h1v1h-1zM148.8,547.8h1v1h-1zM128.1,548.5h1v1h-1zM134.5,547.6h1v1h-1zM146.9,550.3h1v1h-1zM113.0,548.7h1v1h-1zM167.6,548.7h1v1h-1zM129.2,547.5h1v1h-1zM150.5,548.2h1v1h-1zM159.9,547.9h1v1h-1zM165.9,548.0h1v1h-1zM129.4,547.6h1v1h-1zM130.8,545.6h1v1h-1zM148.0,543.9h1v1h-1zM128.9,547.4h1v1h-1zM112.3,547.9h1v1h-1zM162.4,548.3h1v1h-1zM121.9,546.1h1v1h-1zM162.4,547.5h1v1h-1zM163.9,548.9h1v1h-1zM109.5,546.7h1v1h-1zM136.2,548.1h1v1h-1zM166.9,549.9h1v1h-1zM161.4,546.6h1v1h-1zM131.7,547.1h1v1h-1zM165.0,544.7h1v1h-1zM131.0,547.9h1v1h-1zM144.8,546.5h1v1h-1zM167.7,547.2h1v1h-1zM119.4,544.6h1v1h-1zM131.5,544.6h1v1h-1zM123.0,546.2h1v1h-1zM142.0,547.2h1v1h-1zM124.1,544.9h1v1h-1zM114.2,546.6h1v1h-1zM143.4,548.1h1v1h-1zM141.1,550.9h1v1h-1zM165.6,548.4h1v1h-1zM120.2,546.7h1v1h-1zM110.0,551.3h1v1h-1zM118.1,545.3h1v1h-1zM111.6,549.6h1v1h-1zM141.3,547.4h1v1h-1zM135.8,545.1h1v1h-1zM149.0,546.9h1v1h-1zM125.0,545.5h1v1h-1zM147.8,547.5h1v1h-1zM148.5,546.6h1v1h-1zM134.4,548.0h1v1h-1zM112.4,548.5h1v1h-1zM159.9,545.7h1v1h-1zM162.7,546.7h1v1h-1zM160.2,547.0h1v1h-1zM145.0,547.6h1v1h-1zM122.7,546.7h1v1h-1zM158.3,546.8h1v1h-1zM161.7,548.5h1v1h-1zM113.9,550.0h1v1h-1zM117.0,546.2h1v1h-1zM132.8,546.8h1v1h-1zM131.3,547.5h1v1h-1zM163.7,544.5h1v1h-1zM123.0,547.1h1v1h-1zM133.3,550.3h1v1h-1zM115.2,546.1h1v1h-1zM147.9,547.3h1v1h-1zM133.5,548.7h1v1h-1zM164.2,549.6h1v1h-1zM117.6,547.7h1v1h-1zM118.3,549.1h1v1h-1zM168.6,546.7h1v1h-1zM120.6,547.5h1v1h-1zM121.7,547.3h1v1h-1zM163.4,549.5h1v1h-1zM133.0,543.5h1v1h-1zM139.1,546.1h1v1h-1zM131.9,549.0h1v1h-1zM134.2,545.6h1v1h-1zM159.3,547.3h1v1h-1zM122.7,548.0h1v1h-1zM128.9,548.1h1v1h-1zM112.6,546.3h1v1h-1zM114.9,547.9h1v1h-1zM167.9,545.5h1v1h-1zM129.1,547.9h1v1h-1zM155.4,548.1h1v1h-1zM139.7,549.5h1v1h-1zM138.7,544.1h1v1h-1zM113.7,549.2h1v1h-1zM144.2,544.6h1v1h-1zM141.5,547.6h1v1h-1zM109.3,545.8h1v1h-1zM168.3,545.9h1v1h-1zM163.6,547.6h1v1h-1zM165.1,544.9h1v1h-1zM171.0,548.3h1v1h-1zM140.6,543.5h1v1h-1zM116.4,547.1h1v1h-1zM152.3,547.7h1v1h-1zM157.3,548.7h1v1h-1zM112.8,549.5h1v1h-1zM166.4,546.0h1v1h-1zM161.3,546.0h1v1h-1zM114.1,546.4h1v1h-1zM165.5,547.6h1v1h-1zM126.2,545.9h1v1h-1zM168.8,546.8h1v1h-1zM122.5,548.2h1v1h-1zM152.6,547.8h1v1h-1zM150.8,546.1h1v1h-1zM145.7,546.8h1v1h-1zM157.2,546.5h1v1h-1zM114.5,549.0h1v1h-1zM164.9,548.6h1v1h-1zM151.5,549.2h1v1h-1zM150.1,544.8h1v1h-1zM166.2,550.3h1v1h-1zM117.3,546.7h1v1h-1zM126.1,545.4h1v1h-1zM137.3,547.9h1v1h-1zM164.1,545.0h1v1h-1zM170.3,544.5h1v1h-1zM110.7,546.2h1v1h-1zM114.5,551.8h1v1h-1zM132.0,548.4h1v1h-1zM136.9,549.4h1v1h-1zM162.7,550.5h1v1h-1zM127.6,546.6h1v1h-1zM148.3,549.0h1v1h-1zM135.5,547.2h1v1h-1zM170.4,547.1h1v1h-1zM143.2,547.2h1v1h-1zM116.2,550.5h1v1h-1zM155.6,548.1h1v1h-1zM133.3,548.3h1v1h-1zM111.1,546.9h1v1h-1zM111.6,546.1h1v1h-1zM149.8,547.4h1v1h-1zM169.1,544.3h1v1h-1zM115.2,547.8h1v1h-1zM153.5,548.1h1v1h-1zM142.3,550.3h1v1h-1zM130.7,546.4h1v1h-1zM153.6,548.0h1v1h-1zM138.6,548.1h1v1h-1zM131.9,548.3h1v1h-1zM125.6,548.4h1v1h-1zM153.0,549.0h1v1h-1zM108.2,546.9h1v1h-1zM139.5,546.3h1v1h-1zM159.0,546.5h1v1h-1zM113.6,550.3h1v1h-1zM127.3,548.2h1v1h-1zM151.7,547.3h1v1h-1zM166.3,547.4h1v1h-1zM146.1,546.2h1v1h-1zM147.9,547.2h1v1h-1zM162.3,547.9h1v1h-1zM166.6,546.9h1v1h-1zM158.2,547.9h1v1h-1zM120.1,552.0h1v1h-1zM120.6,548.8h1v1h-1zM123.0,545.9h1v1h-1zM148.8,545.2h1v1h-1zM118.5,548.5h1v1h-1zM120.9,546.4h1v1h-1zM157.7,547.5h1v1h-1zM124.6,549.0h1v1h-1zM137.9,547.3h1v1h-1zM171.0,546.5h1v1h-1zM139.7,548.3h1v1h-1zM131.5,545.9h1v1h-1zM143.6,548.3h1v1h-1zM115.6,547.8h1v1h-1zM119.2,547.2h1v1h-1zM165.9,548.3h1v1h-1zM110.9,547.3h1v1h-1zM145.2,547.9h1v1h-1zM163.8,545.8h1v1h-1zM157.3,546.8h1v1h-1zM145.7,546.7h1v1h-1zM124.4,544.8h1v1h-1zM112.5,547.0h1v1h-1zM154.8,548.3h1v1h-1zM161.2,549.2h1v1h-1zM141.9,548.1h1v1h-1zM136.1,547.6h1v1h-1zM158.4,552.4h1v1h-1zM156.5,549.0h1v1h-1zM164.0,544.1h1v1h-1zM157.3,547.1h1v1h-1zM128.3,547.0h1v1h-1zM129.0,547.4h1v1h-1zM153.9,546.9h1v1h-1zM134.6,548.5h1v1h-1zM125.1,548.2h1v1h-1zM150.3,547.2h1v1h-1zM159.1,548.5h1v1h-1zM133.0,547.4h1v1h-1zM131.6,546.4h1v1h-1zM119.0,547.3h1v1h-1zM162.8,549.2h1v1h-1zM139.7,548.3h1v1h-1zM112.0,546.3h1v1h-1zM160.7,547.0h1v1h-1zM150.8,548.6h1v1h-1zM170.8,545.4h1v1h-1zM122.6,546.9h1v1h-1zM112.1,546.6h1v1h-1zM142.1,548.2h1v1h-1zM116.3,547.2h1v1h-1zM109.6,548.6h1v1h-1zM158.2,545.7h1v1h-1zM154.0,549.3h1v1h-1zM153.3,546.3h1v1h-1zM146.4,547.2h1v1h-1zM129.3,547.0h1v1h-1zM163.7,550.3h1v1h-1zM161.6,549.1h1v1h-1zM160.7,546.1h1v1h-1zM147.5,548.1h1v1h-1zM119.6,546.7h1v1h-1zM113.9,543.7h1v1h-1zM143.8,550.1h1v1h-1zM125.9,546.4h1v1h-1zM146.0,546.2h1v1h-1zM154.0,546.8h1v1h-1zM133.8,545.2h1v1h-1zM119.2,547.9h1v1h-1zM130.4,547.7h1v1h-1zM161.3,548.0h1v1h-1zM153.9,546.5h1v1h-1zM131.3,544.9h1v1h-1zM144.9,549.7h1v1h-1zM143.0,548.4h1v1h-1zM126.7,546.6h1v1h-1zM115.1,546.7h1v1h-1zM112.0,549.7h1v1h-1zM139.6,548.4h1v1h-1zM111.2,548.9h1v1h-1zM149.4,544.1h1v1h-1zM123.0,547.8h1v1h-1zM117.3,546.1h1v1h-1zM167.8,546.6h1v1h-1zM148.7,548.7h1v1h-1zM151.8,545.6h1v1h-1zM123.8,546.2h1v1h-1zM149.9,547.2h1v1h-1zM136.2,549.2h1v1h-1zM153.9,546.3h1v1h-1zM114.7,550.0h1v1h-1zM123.9,547.0h1v1h-1zM151.1,546.8h1v1h-1zM126.2,545.9h1v1h-1zM113.2,548.3h1v1h-1zM125.3,548.4h1v1h-1zM120.8,548.1h1v1h-1zM132.5,546.6h1v1h-1zM115.0,546.8h1v1h-1zM120.3,547.6h1v1h-1zM162.0,545.4h1v1h-1zM141.3,546.1h1v1h-1zM145.8,547.6h1v1h-1zM143.4,547.7h1v1h-1zM122.3,550.4h1v1h-1zM146.7,547.6h1v1h-1zM155.7,547.0h1v1h-1zM156.5,548.3h1v1h-1zM119.7,546.3h1v1h-1zM149.9,551.1h1v1h-1zM157.5,547.6h1v1h-1zM115.1,546.6h1v1h-1zM123.9,550.2h1v1h-1zM114.9,545.5h1v1h-1zM141.4,549.0h1v1h-1zM159.7,547.9h1v1h-1zM136.2,547.2h1v1h-1zM157.1,548.3h1v1h-1zM140.5,548.4h1v1h-1zM113.6,547.5h1v1h-1zM136.5,548.3h1v1h-1zM117.2,548.6h1v1h-1zM170.9,547.3h1v1h-1zM152.7,546.8h1v1h-1zM114.7,547.8h1v1h-1zM155.8,545.3h1v1h-1zM136.3,547.1h1v1h-1zM149.7,545.8h1v1h-1zM125.0,548.9h1v1h-1zM167.0,549.2h1v1h-1zM146.7,547.5h1v1h-1zM121.4,548.4h1v1h-1zM136.2,546.3h1v1h-1zM145.7,548.2h1v1h-1zM136.2,547.5h1v1h-1zM147.8,547.9h1v1h-1zM117.3,546.8h1v1h-1zM132.7,546.7h1v1h-1zM128.0,547.9h1v1h-1zM163.8,546.6h1v1h-1zM128.2,547.7h1v1h-1zM163.7,549.1h1v1h-1zM144.1,548.9h1v1h-1zM120.5,550.7h1v1h-1zM158.7,547.3h1v1h-1zM168.2,543.4h1v1h-1zM148.7,545.9h1v1h-1zM164.0,544.7h1v1h-1zM128.3,548.1h1v1h-1zM146.9,545.4h1v1h-1zM131.3,545.9h1v1h-1zM122.8,546.3h1v1h-1zM146.6,547.5h1v1h-1zM161.6,549.0h1v1h-1zM152.7,550.7h1v1h-1zM113.8,549.5h1v1h-1zM122.2,550.4h1v1h-1zM127.1,548.0h1v1h-1zM112.8,546.1h1v1h-1zM128.2,549.2h1v1h-1zM109.4,545.9h1v1h-1zM156.5,549.1h1v1h-1zM166.4,549.1h1v1h-1zM123.5,546.5h1v1h-1zM129.1,549.0h1v1h-1zM143.7,545.8h1v1h-1zM157.9,546.1h1v1h-1zM144.3,548.4h1v1h-1zM117.9,548.2h1v1h-1zM126.5,544.7h1v1h-1zM150.2,546.7h1v1h-1zM109.6,548.1h1v1h-1zM128.3,545.7h1v1h-1zM144.3,549.8h1v1h-1zM166.8,547.2h1v1h-1zM135.2,546.0h1v1h-1zM163.0,547.4h1v1h-1zM120.4,548.3h1v1h-1zM151.9,550.5h1v1h-1zM162.6,546.8h1v1h-1zM124.9,548.7h1v1h-1zM129.1,546.7h1v1h-1zM162.4,548.7h1v1h-1zM168.9,546.5h1v1h-1zM161.3,547.2h1v1h-1zM164.4,543.2h1v1h-1zM167.3,547.9h1v1h-1zM166.5,546.1h1v1h-1zM162.1,548.0h1v1h-1zM165.4,547.6h1v1h-1zM159.5,545.0h1v1h-1zM163.1,548.5h1v1h-1zM168.3,548.2h1v1h-1zM167.4,550.3h1v1h-1zM160.8,547.1h1v1h-1zM166.8,547.4h1v1h-1zM160.7,547.8h1v1h-1zM166.2,547.1h1v1h-1zM163.5,544.5h1v1h-1zM163.8,549.1h1v1h-1zM167.4,549.5h1v1h-1zM168.1,544.5h1v1h-1zM171.3,549.0h1v1h-1zM159.7,546.3h1v1h-1zM159.6,548.9h1v1h-1zM165.1,549.4h1v1h-1zM164.6,548.3h1v1h-1zM161.7,548.8h1v1h-1zM158.8,546.1h1v1h-1zM162.5,547.4h1v1h-1zM163.9,546.3h1v1h-1zM168.1,548.0h1v1h-1zM170.9,544.2h1v1h-1zM170.1,544.7h1v1h-1zM158.4,546.1h1v1h-1zM161.7,542.2h1v1h-1zM167.9,542.8h1v1h-1zM164.9,545.3h1v1h-1zM169.8,546.7h1v1h-1zM165.0,547.5h1v1h-1zM163.2,548.7h1v1h-1zM160.6,547.9h1v1h-1zM170.2,549.0h1v1h-1zM170.2,545.9h1v1h-1zM163.4,545.8h1v1h-1zM171.1,545.0h1v1h-1zM167.4,546.9h1v1h-1zM168.8,549.5h1v1h-1zM168.6,547.4h1v1h-1zM165.2,551.7h1v1h-1zM169.0,550.5h1v1h-1zM160.2,546.3h1v1h-1zM164.1,548.3h1v1h-1zM159.4,548.1h1v1h-1zM161.3,549.6h1v1h-1zM171.0,549.0h1v1h-1zM167.7,548.8h1v1h-1zM164.7,545.2h1v1h-1zM164.0,550.2h1v1h-1zM159.8,547.9h1v1h-1zM170.0,547.1h1v1h-1zM166.4,549.3h1v1h-1zM164.1,541.6h1v1h-1zM168.9,549.7h1v1h-1zM160.2,545.8h1v1h-1zM162.0,544.8h1v1h-1zM159.5,545.6h1v1h-1zM163.8,546.8h1v1h-1zM166.9,549.3h1v1h-1zM169.4,548.6h1v1h-1zM168.8,547.0h1v1h-1zM162.2,546.2h1v1h-1zM162.4,550.8h1v1h-1zM165.5,547.0h1v1h-1zM161.1,546.1h1v1h-1zM171.0,543.4h1v1h-1zM170.2,547.4h1v1h-1zM167.5,552.4h1v1h-1zM168.8,549.8h1v1h-1zM170.2,550.7h1v1h-1zM167.2,546.3h1v1h-1zM162.6,545.2h1v1h-1zM169.0,546.9h1v1h-1zM165.9,544.5h1v1h-1zM169.0,544.4h1v1h-1zM167.5,548.4h1v1h-1zM170.4,543.5h1v1h-1zM160.9,549.5h1v1h-1zM165.0,542.9h1v1h-1zM167.0,547.2h1v1h-1zM162.3,548.3h1v1h-1zM163.1,549.1h1v1h-1zM162.5,545.4h1v1h-1zM167.2,549.0h1v1h-1zM159.4,549.6h1v1h-1zM164.1,549.2h1v1h-1zM169.0,549.0h1v1h-1zM167.8,550.5h1v1h-1zM166.4,548.3h1v1h-1zM165.9,546.8h1v1h-1zM171.4,548.2h1v1h-1zM168.0,548.4h1v1h-1zM161.4,547.3h1v1h-1zM159.5,547.2h1v1h-1zM166.3,546.4h1v1h-1zM166.9,550.2h1v1h-1zM165.6,549.1h1v1h-1zM159.5,547.8h1v1h-1zM163.9,546.9h1v1h-1zM161.7,548.5h1v1h-1zM170.8,547.3h1v1h-1zM159.5,550.7h1v1h-1zM166.7,545.7h1v1h-1zM160.3,548.2h1v1h-1zM167.3,546.8h1v1h-1zM162.5,549.1h1v1h-1zM165.0,547.6h1v1h-1zM168.9,548.4h1v1h-1zM166.5,547.9h1v1h-1zM161.9,544.4h1v1h-1zM170.8,547.2h1v1h-1zM166.3,547.3h1v1h-1zM168.2,549.9h1v1h-1zM163.1,548.0h1v1h-1zM160.5,544.4h1v1h-1zM169.1,547.4h1v1h-1zM170.6,546.4h1v1h-1zM167.6,547.6h1v1h-1zM163.4,545.7h1v1h-1zM164.4,545.7h1v1h-1zM166.5,546.1h1v1h-1zM165.7,543.2h1v1h-1zM163.1,543.1h1v1h-1zM162.6,544.5h1v1h-1zM158.2,550.3h1v1h-1zM171.0,548.7h1v1h-1zM164.1,548.2h1v1h-1zM164.6,548.4h1v1h-1zM168.2,544.6h1v1h-1zM171.3,545.1h1v1h-1zM162.3,546.9h1v1h-1zM171.1,547.8h1v1h-1zM170.5,544.0h1v1h-1zM168.7,550.1h1v1h-1zM168.3,547.2h1v1h-1zM165.5,544.5h1v1h-1zM161.5,545.9h1v1h-1zM166.4,548.1h1v1h-1zM161.4,548.4h1v1h-1zM159.5,545.9h1v1h-1zM164.3,549.8h1v1h-1zM162.6,547.0h1v1h-1zM158.9,548.1h1v1h-1zM169.7,547.6h1v1h-1zM166.0,547.0h1v1h-1zM163.6,547.0h1v1h-1zM161.4,547.7h1v1h-1zM161.2,545.5h1v1h-1zM171.3,548.1h1v1h-1zM167.2,547.5h1v1h-1zM170.1,546.6h1v1h-1zM160.3,548.7h1v1h-1zM164.2,546.2h1v1h-1zM158.1,545.7h1v1h-1zM162.2,546.3h1v1h-1zM167.3,546.1h1v1h-1zM171.0,542.5h1v1h-1zM158.3,549.4h1v1h-1zM161.6,550.3h1v1h-1zM162.9,548.7h1v1h-1zM161.9,548.0h1v1h-1zM158.1,550.2h1v1h-1zM167.5,550.9h1v1h-1zM166.4,549.4h1v1h-1zM164.4,547.6h1v1h-1zM163.6,547.4h1v1h-1zM167.9,546.2h1v1h-1zM161.5,545.3h1v1h-1zM168.3,545.1h1v1h-1zM169.7,545.1h1v1h-1zM170.1,548.3h1v1h-1zM168.7,549.9h1v1h-1zM166.7,545.1h1v1h-1zM159.1,547.6h1v1h-1zM167.3,548.5h1v1h-1zM162.7,543.9h1v1h-1zM170.2,544.3h1v1h-1zM169.0,548.9h1v1h-1zM163.7,545.9h1v1h-1zM169.7,545.4h1v1h-1zM158.2,551.3h1v1h-1zM169.4,552.2h1v1h-1zM171.5,544.2h1v1h-1zM168.1,542.4h1v1h-1zM160.4,546.4h1v1h-1zM170.8,543.3h1v1h-1zM166.4,550.3h1v1h-1zM158.4,545.5h1v1h-1zM160.8,551.9h1v1h-1zM162.6,545.5h1v1h-1zM158.7,547.6h1v1h-1zM171.3,545.4h1v1h-1zM169.3,549.0h1v1h-1zM164.8,548.7h1v1h-1zM158.1,548.9h1v1h-1zM163.5,546.3h1v1h-1zM163.3,547.7h1v1h-1zM160.7,542.8h1v1h-1zM169.4,545.3h1v1h-1zM158.6,546.4h1v1h-1zM161.2,549.8h1v1h-1zM164.9,545.0h1v1h-1zM167.7,547.9h1v1h-1zM168.4,550.5h1v1h-1zM170.3,546.2h1v1h-1zM167.7,547.4h1v1h-1zM169.6,546.9h1v1h-1zM168.8,544.5h1v1h-1zM166.4,547.5h1v1h-1zM163.9,547.5h1v1h-1zM169.3,546.6h1v1h-1zM162.9,549.4h1v1h-1zM166.1,546.3h1v1h-1zM165.2,548.5h1v1h-1zM161.7,551.3h1v1h-1zM163.0,545.7h1v1h-1zM161.0,547.4h1v1h-1zM169.0,545.4h1v1h-1zM158.3,547.8h1v1h-1zM169.7,544.8h1v1h-1zM158.6,550.2h1v1h-1zM168.8,549.3h1v1h-1zM161.2,544.7h1v1h-1zM164.1,545.1h1v1h-1zM167.0,548.0h1v1h-1zM171.1,547.7h1v1h-1zM165.5,548.4h1v1h-1zM159.2,547.7h1v1h-1zM167.5,548.8h1v1h-1zM163.1,548.2h1v1h-1zM171.1,546.8h1v1h-1zM164.6,548.6h1v1h-1zM168.3,549.6h1v1h-1zM158.9,547.0h1v1h-1zM169.3,549.0h1v1h-1zM162.5,548.2h1v1h-1zM169.1,545.7h1v1h-1zM158.0,548.4h1v1h-1zM161.6,547.8h1v1h-1zM158.8,547.3h1v1h-1zM166.5,546.2h1v1h-1zM160.1,546.8h1v1h-1zM166.2,547.8h1v1h-1zM160.7,548.9h1v1h-1zM169.4,548.4h1v1h-1zM163.9,544.0h1v1h-1zM163.3,546.1h1v1h-1zM171.0,547.4h1v1h-1zM161.1,548.3h1v1h-1zM159.9,544.8h1v1h-1zM169.7,546.6h1v1h-1zM161.5,546.3h1v1h-1zM164.4,547.0h1v1h-1zM170.3,544.0h1v1h-1zM163.6,545.5h1v1h-1zM164.3,549.2h1v1h-1zM163.1,550.8h1v1h-1zM159.2,546.1h1v1h-1zM161.9,548.8h1v1h-1zM158.7,547.6h1v1h-1zM170.3,546.2h1v1h-1zM162.5,547.7h1v1h-1zM166.5,547.2h1v1h-1zM160.0,548.0h1v1h-1zM164.9,547.1h1v1h-1zM163.9,549.0h1v1h-1zM169.5,547.5h1v1h-1zM164.4,548.5h1v1h-1zM167.4,546.6h1v1h-1zM169.1,546.1h1v1h-1zM158.0,546.8h1v1h-1zM160.8,546.2h1v1h-1zM159.6,549.1h1v1h-1zM170.8,546.9h1v1h-1zM170.5,545.6h1v1h-1zM160.4,550.0h1v1h-1zM165.1,550.0h1v1h-1zM168.2,546.3h1v1h-1zM168.3,550.7h1v1h-1zM159.4,547.9h1v1h-1zM164.0,546.5h1v1h-1zM167.4,544.7h1v1h-1zM171.1,547.0h1v1h-1zM168.2,547.8h1v1h-1zM163.7,549.5h1v1h-1zM161.6,547.0h1v1h-1zM167.5,545.4h1v1h-1zM161.7,550.7h1v1h-1zM165.5,548.2h1v1h-1zM162.0,550.7h1v1h-1zM160.3,551.4h1v1h-1zM170.1,548.8h1v1h-1zM95.5,548.0h1v1h-1zM99.2,547.8h1v1h-1zM87.5,547.3h1v1h-1zM100.0,547.5h1v1h-1zM89.4,546.1h1v1h-1zM99.3,551.0h1v1h-1zM91.8,546.9h1v1h-1zM104.9,543.5h1v1h-1zM108.6,546.4h1v1h-1zM95.8,549.5h1v1h-1zM105.4,550.2h1v1h-1zM107.6,550.8h1v1h-1zM92.5,544.6h1v1h-1zM98.3,547.1h1v1h-1zM96.5,550.2h1v1h-1zM101.2,550.0h1v1h-1zM108.1,547.3h1v1h-1zM91.2,545.7h1v1h-1zM90.1,546.7h1v1h-1zM99.7,548.4h1v1h-1zM90.3,544.1h1v1h-1zM105.4,547.6h1v1h-1zM96.5,548.6h1v1h-1zM104.6,546.3h1v1h-1zM105.1,549.1h1v1h-1zM105.6,545.8h1v1h-1zM105.2,546.4h1v1h-1zM104.2,550.1h1v1h-1zM95.1,545.1h1v1h-1zM97.7,548.0h1v1h-1zM99.1,550.1h1v1h-1zM105.2,546.7h1v1h-1zM99.8,548.4h1v1h-1zM90.5,546.7h1v1h-1zM107.1,547.0h1v1h-1zM104.3,546.4h1v1h-1zM102.7,545.3h1v1h-1zM92.7,547.3h1v1h-1zM109.2,550.4h1v1h-1zM86.5,547.5h1v1h-1zM94.5,549.9h1v1h-1zM103.3,547.3h1v1h-1zM97.4,546.7h1v1h-1zM106.9,546.7h1v1h-1zM90.3,545.1h1v1h-1zM101.1,546.4h1v1h-1zM108.5,545.8h1v1h-1zM91.9,546.9h1v1h-1zM92.6,543.1h1v1h-1zM109.6,548.5h1v1h-1zM102.3,548.8h1v1h-1zM90.6,541.6h1v1h-1zM90.1,550.2h1v1h-1zM107.4,545.6h1v1h-1zM94.6,544.5h1v1h-1zM88.9,551.3h1v1h-1zM100.2,546.8h1v1h-1zM106.6,547.4h1v1h-1zM100.2,545.7h1v1h-1zM88.5,544.8h1v1h-1zM94.7,548.2h1v1h-1zM101.4,547.7h1v1h-1zM103.3,548.4h1v1h-1zM86.5,549.2h1v1h-1zM102.9,547.1h1v1h-1zM106.6,545.3h1v1h-1zM93.4,545.8h1v1h-1zM101.2,546.4h1v1h-1zM102.0,547.1h1v1h-1zM93.0,549.7h1v1h-1z" fill="#cf0a12" stroke="none" stroke-width="1" fill-opacity="0.72"/>
<path d="M167.5,578.9h1v1h-1zM165.9,575.7h1v1h-1zM165.3,587.9h1v1h-1zM160.2,600.1h1v1h-1zM169.4,592.6h1v1h-1zM164.3,591.1h1v1h-1zM169.8,560.3h1v1h-1zM168.4,557.5h1v1h-1zM165.2,619.2h1v1h-1zM162.7,598.6h1v1h-1zM165.5,597.5h1v1h-1zM167.1,618.4h1v1h-1zM162.3,607.3h1v1h-1zM164.5,594.6h1v1h-1zM164.9,584.9h1v1h-1zM167.2,590.4h1v1h-1zM168.4,621.6h1v1h-1zM166.0,619.1h1v1h-1zM167.7,554.9h1v1h-1zM167.9,615.2h1v1h-1zM165.5,597.8h1v1h-1zM172.4,592.0h1v1h-1zM165.7,559.5h1v1h-1zM163.6,573.9h1v1h-1zM164.4,585.9h1v1h-1zM167.9,584.9h1v1h-1zM171.4,562.7h1v1h-1zM168.3,586.0h1v1h-1zM173.1,567.2h1v1h-1zM164.2,624.6h1v1h-1zM165.1,600.8h1v1h-1zM166.8,565.3h1v1h-1zM167.6,620.3h1v1h-1zM171.8,595.8h1v1h-1zM168.6,587.1h1v1h-1zM169.6,620.8h1v1h-1zM163.8,623.7h1v1h-1zM166.1,609.9h1v1h-1zM162.4,577.5h1v1h-1zM170.1,610.1h1v1h-1zM169.2,624.4h1v1h-1zM169.0,609.3h1v1h-1zM160.8,605.4h1v1h-1zM164.9,574.4h1v1h-1zM167.2,582.0h1v1h-1zM173.6,616.7h1v1h-1zM164.8,573.8h1v1h-1zM167.3,556.8h1v1h-1zM169.7,608.3h1v1h-1zM167.3,576.2h1v1h-1zM117.5,574.9h1v1h-1zM130.7,588.7h1v1h-1zM134.3,599.0h1v1h-1zM111.6,574.2h1v1h-1zM118.9,586.2h1v1h-1zM134.4,570.0h1v1h-1zM113.5,596.4h1v1h-1zM118.4,624.6h1v1h-1zM125.8,600.7h1v1h-1zM121.3,577.9h1v1h-1zM144.1,616.4h1v1h-1zM114.1,599.6h1v1h-1zM125.0,609.2h1v1h-1zM134.2,580.3h1v1h-1zM112.9,616.3h1v1h-1zM110.4,593.6h1v1h-1zM114.7,583.5h1v1h-1zM132.5,572.6h1v1h-1zM117.0,580.1h1v1h-1zM109.1,605.4h1v1h-1zM125.1,598.4h1v1h-1zM135.2,591.8h1v1h-1zM122.9,572.3h1v1h-1zM128.8,601.5h1v1h-1zM132.8,596.6h1v1h-1zM122.6,574.1h1v1h-1zM122.4,594.7h1v1h-1zM139.6,599.6h1v1h-1zM128.8,580.8h1v1h-1zM109.9,620.4h1v1h-1zM143.4,612.4h1v1h-1zM119.7,573.4h1v1h-1zM133.0,599.1h1v1h-1zM124.7,578.5h1v1h-1zM139.8,598.5h1v1h-1zM118.1,570.6h1v1h-1zM133.2,577.7h1v1h-1zM127.0,574.6h1v1h-1zM143.8,581.7h1v1h-1zM118.2,606.1h1v1h-1zM152.6,611.7h1v1h-1zM135.0,617.9h1v1h-1zM127.9,605.9h1v1h-1zM130.9,615.5h1v1h-1zM132.2,585.0h1v1h-1zM127.0,595.5h1v1h-1zM119.7,624.3h1v1h-1zM119.0,591.1h1v1h-1zM133.4,621.5h1v1h-1zM113.1,611.2h1v1h-1zM116.5,610.0h1v1h-1zM128.2,614.6h1v1h-1zM123.7,590.4h1v1h-1zM133.2,580.3h1v1h-1zM112.4,611.1h1v1h-1zM127.8,603.5h1v1h-1zM131.9,612.0h1v1h-1zM139.1,590.8h1v1h-1zM129.8,590.3h1v1h-1zM132.5,620.1h1v1h-1zM133.5,613.0h1v1h-1zM129.7,602.6h1v1h-1zM137.2,601.4h1v1h-1zM133.3,609.6h1v1h-1zM144.2,574.0h1v1h-1zM119.3,587.4h1v1h-1zM148.1,611.0h1v1h-1zM117.1,578.6h1v1h-1zM127.1,590.8h1v1h-1zM127.6,577.6h1v1h-1zM94.8,556.1h1v1h-1zM119.8,571.3h1v1h-1zM105.7,621.7h1v1h-1zM109.8,588.9h1v1h-1zM159.9,568.8h1v1h-1zM122.7,576.1h1v1h-1zM92.2,573.1h1v1h-1zM115.6,596.8h1v1h-1zM96.9,619.3h1v1h-1zM139.1,595.8h1v1h-1zM125.7,595.7h1v1h-1zM127.1,565.5h1v1h-1zM118.7,569.4h1v1h-1zM137.2,597.7h1v1h-1zM102.6,619.6h1v1h-1zM139.4,611.6h1v1h-1zM133.9,615.8h1v1h-1zM115.1,581.8h1v1h-1zM130.8,587.7h1v1h-1zM151.7,613.8h1v1h-1z" fill="#e0505a" stroke="none" stroke-width="1" fill-opacity="0.55"/>
<line x1="137.30" y1="530.70" x2="137.30" y2="631.20" stroke="#444" stroke-width="1"/>
<line x1="70.00" y1="568.40" x2="188.40" y2="568.40" stroke="#444" stroke-width="1"/>
<line x1="70.00" y1="530.70" x2="70.00" y2="631.20" stroke="#7a7a7a" stroke-width="1.4"/>
<line x1="69.50" y1="631.20" x2="188.90" y2="631.20" stroke="#222" stroke-width="1.1"/>
<text x="75.60" y="539.80" font-size="6.0" text-anchor="start" fill="#222" stroke="#222" stroke-width="0.14">Naive</text>
<text x="164.80" y="539.80" font-size="6.4" text-anchor="start" fill="#222" stroke="#222" stroke-width="0.14">CM</text>
<text x="158.20" y="628.40" font-size="6.0" text-anchor="start" fill="#222" stroke="#222" stroke-width="0.14">Effectors</text>
<text x="128.00" y="525.80" font-size="8.2" text-anchor="middle" fill="#1a1a1a" stroke="#1a1a1a" stroke-width="0.14">CD 8+ T-cells</text>
<text x="54.60" y="532.70" font-size="5.9" text-anchor="start" fill="#222" stroke="#222" stroke-width="0.12">10<tspan font-size="3.66" dy="-2.66">7</tspan></text>
<line x1="67.50" y1="530.70" x2="70.00" y2="530.70" stroke="#333" stroke-width="0.9"/>
<text x="54.60" y="551.50" font-size="5.9" text-anchor="start" fill="#222" stroke="#222" stroke-width="0.12">10<tspan font-size="3.66" dy="-2.66">6</tspan></text>
<line x1="67.50" y1="549.50" x2="70.00" y2="549.50" stroke="#333" stroke-width="0.9"/>
<text x="54.60" y="570.30" font-size="5.9" text-anchor="start" fill="#222" stroke="#222" stroke-width="0.12">10<tspan font-size="3.66" dy="-2.66">5</tspan></text>
<line x1="67.50" y1="568.30" x2="70.00" y2="568.30" stroke="#333" stroke-width="0.9"/>
<text x="54.60" y="589.20" font-size="5.9" text-anchor="start" fill="#222" stroke="#222" stroke-width="0.12">10<tspan font-size="3.66" dy="-2.66">4</tspan></text>
<line x1="67.50" y1="587.20" x2="70.00" y2="587.20" stroke="#333" stroke-width="0.9"/>
<text x="47.30" y="633.30" font-size="6.2" text-anchor="start" fill="#222" stroke="#222" stroke-width="0.12">−10<tspan font-size="3.84" dy="-2.79">3.7</tspan></text>
<line x1="67.00" y1="631.20" x2="70.00" y2="631.20" stroke="#333" stroke-width="1.0"/>
<line x1="66.90" y1="610.00" x2="69.80" y2="610.00" stroke="#888" stroke-width="0.9"/>
<line x1="66.90" y1="613.90" x2="69.80" y2="613.90" stroke="#000" stroke-width="2.2"/>
<line x1="66.90" y1="617.90" x2="69.80" y2="617.90" stroke="#555" stroke-width="0.9"/>
<text x="66.60" y="642.40" font-size="5.8" text-anchor="start" fill="#222" stroke="#222" stroke-width="0.12">10<tspan font-size="3.60" dy="-2.61">1</tspan></text>
<line x1="70.00" y1="631.20" x2="70.00" y2="632.70" stroke="#333" stroke-width="0.8"/>
<text x="90.30" y="642.40" font-size="5.8" text-anchor="start" fill="#222" stroke="#222" stroke-width="0.12">10<tspan font-size="3.60" dy="-2.61">2</tspan></text>
<line x1="93.70" y1="631.20" x2="93.70" y2="632.70" stroke="#333" stroke-width="0.8"/>
<text x="113.60" y="642.40" font-size="5.8" text-anchor="start" fill="#222" stroke="#222" stroke-width="0.12">10<tspan font-size="3.60" dy="-2.61">3</tspan></text>
<line x1="117.00" y1="631.20" x2="117.00" y2="632.70" stroke="#333" stroke-width="0.8"/>
<text x="137.40" y="642.40" font-size="5.8" text-anchor="start" fill="#222" stroke="#222" stroke-width="0.12">10<tspan font-size="3.60" dy="-2.61">4</tspan></text>
<line x1="140.80" y1="631.20" x2="140.80" y2="632.70" stroke="#333" stroke-width="0.8"/>
<text x="161.60" y="642.40" font-size="5.8" text-anchor="start" fill="#222" stroke="#222" stroke-width="0.12">10<tspan font-size="3.60" dy="-2.61">5</tspan></text>
<line x1="165.00" y1="631.20" x2="165.00" y2="632.70" stroke="#333" stroke-width="0.8"/>
<text x="184.80" y="642.40" font-size="5.8" text-anchor="start" fill="#222" stroke="#222" stroke-width="0.12">10<tspan font-size="3.60" dy="-2.61">6</tspan></text>
<line x1="188.20" y1="631.20" x2="188.20" y2="632.70" stroke="#333" stroke-width="0.8"/>
<text x="0.00" y="0.00" font-size="7.2" text-anchor="middle" fill="#1a1a1a" transform="translate(124.40,654.50) scale(0.736,1)" stroke="#1a1a1a" stroke-width="0.3">CD44-BV785-H</text>
<line x1="60.40" y1="659.50" x2="184.50" y2="659.50" stroke="#5a5a5a" stroke-width="1.2"/>
<path d="M183.50,657.30 L188.50,659.50 L183.50,661.70 Z" fill="#5a5a5a" stroke="none" stroke-width="1"/>
<text x="0.00" y="0.00" font-size="7.4" text-anchor="middle" fill="#1a1a1a" transform="translate(124.50,669.50) scale(0.67,1)" stroke="#1a1a1a" stroke-width="0.3">CD62L</text>
<line x1="31.90" y1="536.00" x2="31.90" y2="633.00" stroke="#5a5a5a" stroke-width="1.2"/>
<path d="M29.70,537.00 L31.90,532.00 L34.10,537.00 Z" fill="#5a5a5a" stroke="none" stroke-width="1"/>
<text x="0.00" y="0.00" font-size="7.2" text-anchor="middle" fill="#1a1a1a" transform="translate(27.30,582.40) rotate(-90) scale(0.67,1)" stroke="#1a1a1a" stroke-width="0.18">CD44</text>
<text x="0.00" y="0.00" font-size="7.0" text-anchor="middle" fill="#1a1a1a" transform="translate(42.20,582.80) rotate(-90) scale(0.79,1)" stroke="#1a1a1a" stroke-width="0.28">CD62L-PE-Cy7 (Y)-H</text>
<line x1="256.50" y1="360.10" x2="256.50" y2="467.20" stroke="#161616" stroke-width="1.2"/>
<line x1="255.90" y1="466.70" x2="444.50" y2="466.70" stroke="#161616" stroke-width="1.2"/>
<line x1="253.50" y1="466.70" x2="256.50" y2="466.70" stroke="#161616" stroke-width="1.0"/>
<text x="251.10" y="468.70" font-size="5.9" text-anchor="end" fill="#222" stroke="#222" stroke-width="0.14">0</text>
<line x1="253.50" y1="432.17" x2="256.50" y2="432.17" stroke="#161616" stroke-width="1.0"/>
<text x="251.10" y="434.17" font-size="5.9" text-anchor="end" fill="#222" stroke="#222" stroke-width="0.14">20</text>
<line x1="253.50" y1="397.63" x2="256.50" y2="397.63" stroke="#161616" stroke-width="1.0"/>
<text x="251.10" y="399.63" font-size="5.9" text-anchor="end" fill="#222" stroke="#222" stroke-width="0.14">40</text>
<line x1="253.50" y1="363.10" x2="256.50" y2="363.10" stroke="#161616" stroke-width="1.0"/>
<text x="251.10" y="365.10" font-size="5.9" text-anchor="end" fill="#222" stroke="#222" stroke-width="0.14">60</text>
<rect x="266.00" y="412.83" width="14.50" height="53.87" fill="#8996ba" stroke="none" stroke-width="1"/>
<line x1="273.25" y1="466.70" x2="273.25" y2="468.90" stroke="#111" stroke-width="0.9"/>
<line x1="273.25" y1="409.55" x2="273.25" y2="416.28" stroke="#1d3463" stroke-width="0.9"/>
<line x1="269.25" y1="409.55" x2="277.25" y2="409.55" stroke="#1d3463" stroke-width="0.9"/>
<line x1="269.25" y1="416.28" x2="277.25" y2="416.28" stroke="#1d3463" stroke-width="0.9"/>
<circle cx="266.55" cy="409.55" r="1.9" fill="#172d58"/>
<circle cx="272.55" cy="410.24" r="1.9" fill="#172d58"/>
<circle cx="279.25" cy="409.55" r="1.9" fill="#172d58"/>
<circle cx="272.55" cy="413.35" r="1.9" fill="#172d58"/>
<circle cx="272.55" cy="416.28" r="1.9" fill="#172d58"/>
<rect x="290.00" y="420.77" width="15.60" height="45.93" fill="#dcaf81" stroke="none" stroke-width="1"/>
<line x1="297.80" y1="466.70" x2="297.80" y2="468.90" stroke="#111" stroke-width="0.9"/>
<line x1="297.80" y1="415.07" x2="297.80" y2="422.67" stroke="#b27a45" stroke-width="0.9"/>
<line x1="293.80" y1="415.07" x2="301.80" y2="415.07" stroke="#b27a45" stroke-width="0.9"/>
<line x1="293.80" y1="422.67" x2="301.80" y2="422.67" stroke="#b27a45" stroke-width="0.9"/>
<circle cx="291.00" cy="415.07" r="1.9" fill="#c0691d"/>
<circle cx="295.40" cy="413.17" r="1.9" fill="#c0691d"/>
<circle cx="295.60" cy="417.66" r="1.9" fill="#c0691d"/>
<circle cx="299.40" cy="419.56" r="1.9" fill="#c0691d"/>
<circle cx="303.30" cy="419.04" r="1.9" fill="#c0691d"/>
<circle cx="291.00" cy="421.98" r="1.9" fill="#c0691d"/>
<rect x="331.20" y="393.66" width="14.50" height="73.04" fill="#8996ba" stroke="none" stroke-width="1"/>
<line x1="338.45" y1="466.70" x2="338.45" y2="468.90" stroke="#111" stroke-width="0.9"/>
<line x1="338.45" y1="382.61" x2="338.45" y2="402.30" stroke="#1d3463" stroke-width="0.9"/>
<line x1="334.45" y1="382.61" x2="342.45" y2="382.61" stroke="#1d3463" stroke-width="0.9"/>
<line x1="334.45" y1="402.30" x2="342.45" y2="402.30" stroke="#1d3463" stroke-width="0.9"/>
<circle cx="334.05" cy="386.24" r="1.9" fill="#172d58"/>
<circle cx="342.25" cy="383.82" r="1.9" fill="#172d58"/>
<circle cx="338.45" cy="395.22" r="1.9" fill="#172d58"/>
<circle cx="338.45" cy="405.58" r="1.9" fill="#172d58"/>
<rect x="355.80" y="389.35" width="13.90" height="77.35" fill="#dcaf81" stroke="none" stroke-width="1"/>
<line x1="362.75" y1="466.70" x2="362.75" y2="468.90" stroke="#111" stroke-width="0.9"/>
<line x1="362.75" y1="379.33" x2="362.75" y2="397.98" stroke="#b27a45" stroke-width="0.9"/>
<line x1="358.75" y1="379.33" x2="366.75" y2="379.33" stroke="#b27a45" stroke-width="0.9"/>
<line x1="358.75" y1="397.98" x2="366.75" y2="397.98" stroke="#b27a45" stroke-width="0.9"/>
<circle cx="358.25" cy="381.23" r="1.9" fill="#c0691d"/>
<circle cx="366.25" cy="379.85" r="1.9" fill="#c0691d"/>
<circle cx="358.25" cy="384.51" r="1.9" fill="#c0691d"/>
<circle cx="366.25" cy="384.51" r="1.9" fill="#c0691d"/>
<circle cx="362.05" cy="392.80" r="1.9" fill="#c0691d"/>
<circle cx="362.05" cy="405.75" r="1.9" fill="#c0691d"/>
<rect x="396.30" y="433.72" width="14.40" height="32.98" fill="#8996ba" stroke="none" stroke-width="1"/>
<line x1="403.50" y1="466.70" x2="403.50" y2="468.90" stroke="#111" stroke-width="0.9"/>
<line x1="403.50" y1="425.43" x2="403.50" y2="438.04" stroke="#1d3463" stroke-width="0.9"/>
<line x1="399.50" y1="425.43" x2="407.50" y2="425.43" stroke="#1d3463" stroke-width="0.9"/>
<line x1="399.50" y1="438.04" x2="407.50" y2="438.04" stroke="#1d3463" stroke-width="0.9"/>
<circle cx="403.50" cy="422.15" r="1.9" fill="#172d58"/>
<circle cx="397.20" cy="435.62" r="1.9" fill="#172d58"/>
<circle cx="403.50" cy="433.20" r="1.9" fill="#172d58"/>
<circle cx="409.70" cy="435.62" r="1.9" fill="#172d58"/>
<rect x="420.80" y="430.44" width="13.90" height="36.26" fill="#dcaf81" stroke="none" stroke-width="1"/>
<line x1="427.75" y1="466.70" x2="427.75" y2="468.90" stroke="#111" stroke-width="0.9"/>
<line x1="427.75" y1="421.12" x2="427.75" y2="436.14" stroke="#b27a45" stroke-width="0.9"/>
<line x1="423.75" y1="421.12" x2="431.75" y2="421.12" stroke="#b27a45" stroke-width="0.9"/>
<line x1="423.75" y1="436.14" x2="431.75" y2="436.14" stroke="#b27a45" stroke-width="0.9"/>
<circle cx="427.75" cy="416.63" r="1.9" fill="#c0691d"/>
<circle cx="421.75" cy="426.47" r="1.9" fill="#c0691d"/>
<circle cx="434.25" cy="426.47" r="1.9" fill="#c0691d"/>
<circle cx="427.75" cy="428.54" r="1.9" fill="#c0691d"/>
<circle cx="427.75" cy="433.72" r="1.9" fill="#c0691d"/>
<circle cx="427.75" cy="438.04" r="1.9" fill="#c0691d"/>
<text x="0.00" y="0.00" font-size="7.0" text-anchor="middle" fill="#1a1a1a" transform="translate(237.60,413.80) rotate(-90) scale(0.82,1)" stroke="#1a1a1a" stroke-width="0.14">% Population</text>
<text x="350.40" y="355.90" font-size="8.3" text-anchor="middle" fill="#1a1a1a" stroke="#1a1a1a" stroke-width="0.14">CD4+ T-cells</text>
<text x="273.30" y="478.00" font-size="6.3" text-anchor="middle" fill="#222" stroke="#222" stroke-width="0.14">CT</text>
<text x="273.30" y="486.00" font-size="6.3" text-anchor="middle" fill="#222" stroke="#222" stroke-width="0.14">CD44–</text>
<text x="297.80" y="478.00" font-size="6.3" text-anchor="middle" fill="#222" stroke="#222" stroke-width="0.14">Mito</text>
<text x="297.80" y="486.00" font-size="6.3" text-anchor="middle" fill="#222" stroke="#222" stroke-width="0.14">CD62L+</text>
<text x="285.50" y="497.80" font-size="6.1" text-anchor="middle" fill="#222" stroke="#222" stroke-width="0.14">Naive</text>
<text x="338.20" y="478.00" font-size="6.3" text-anchor="middle" fill="#222" stroke="#222" stroke-width="0.14">CT</text>
<text x="338.20" y="486.00" font-size="6.3" text-anchor="middle" fill="#222" stroke="#222" stroke-width="0.14">CD44+</text>
<text x="362.80" y="478.00" font-size="6.3" text-anchor="middle" fill="#222" stroke="#222" stroke-width="0.14">Mito</text>
<text x="362.80" y="486.00" font-size="6.3" text-anchor="middle" fill="#222" stroke="#222" stroke-width="0.14">CD62L+</text>
<text x="350.50" y="497.80" font-size="6.1" text-anchor="middle" fill="#222" stroke="#222" stroke-width="0.14">CM</text>
<text x="403.80" y="478.00" font-size="6.3" text-anchor="middle" fill="#222" stroke="#222" stroke-width="0.14">CT</text>
<text x="403.80" y="486.00" font-size="6.3" text-anchor="middle" fill="#222" stroke="#222" stroke-width="0.14">CD44+</text>
<text x="428.40" y="478.00" font-size="6.3" text-anchor="middle" fill="#222" stroke="#222" stroke-width="0.14">Mito</text>
<text x="428.40" y="486.00" font-size="6.3" text-anchor="middle" fill="#222" stroke="#222" stroke-width="0.14">CD62L–</text>
<text x="416.00" y="497.80" font-size="6.1" text-anchor="middle" fill="#222" stroke="#222" stroke-width="0.14">Effector</text>
<line x1="256.50" y1="530.10" x2="256.50" y2="640.00" stroke="#161616" stroke-width="1.2"/>
<line x1="255.90" y1="639.50" x2="438.90" y2="639.50" stroke="#161616" stroke-width="1.2"/>
<line x1="253.50" y1="639.50" x2="256.50" y2="639.50" stroke="#161616" stroke-width="1.0"/>
<text x="251.10" y="641.50" font-size="5.9" text-anchor="end" fill="#222" stroke="#222" stroke-width="0.14">0</text>
<line x1="253.50" y1="618.22" x2="256.50" y2="618.22" stroke="#161616" stroke-width="1.0"/>
<text x="251.10" y="620.22" font-size="5.9" text-anchor="end" fill="#222" stroke="#222" stroke-width="0.14">20</text>
<line x1="253.50" y1="596.94" x2="256.50" y2="596.94" stroke="#161616" stroke-width="1.0"/>
<text x="251.10" y="598.94" font-size="5.9" text-anchor="end" fill="#222" stroke="#222" stroke-width="0.14">40</text>
<line x1="253.50" y1="575.66" x2="256.50" y2="575.66" stroke="#161616" stroke-width="1.0"/>
<text x="251.10" y="577.66" font-size="5.9" text-anchor="end" fill="#222" stroke="#222" stroke-width="0.14">60</text>
<line x1="253.50" y1="554.38" x2="256.50" y2="554.38" stroke="#161616" stroke-width="1.0"/>
<text x="251.10" y="556.38" font-size="5.9" text-anchor="end" fill="#222" stroke="#222" stroke-width="0.14">80</text>
<line x1="253.50" y1="533.10" x2="256.50" y2="533.10" stroke="#161616" stroke-width="1.0"/>
<text x="251.10" y="535.10" font-size="5.9" text-anchor="end" fill="#222" stroke="#222" stroke-width="0.14">100</text>
<rect x="266.00" y="562.04" width="13.70" height="77.46" fill="#8996ba" stroke="none" stroke-width="1"/>
<line x1="272.85" y1="639.50" x2="272.85" y2="641.70" stroke="#111" stroke-width="0.9"/>
<line x1="272.85" y1="554.38" x2="272.85" y2="565.87" stroke="#1d3463" stroke-width="0.9"/>
<line x1="268.85" y1="554.38" x2="276.85" y2="554.38" stroke="#1d3463" stroke-width="0.9"/>
<line x1="268.85" y1="565.87" x2="276.85" y2="565.87" stroke="#1d3463" stroke-width="0.9"/>
<circle cx="272.85" cy="553.10" r="1.9" fill="#172d58"/>
<circle cx="268.65" cy="565.13" r="1.9" fill="#172d58"/>
<circle cx="276.45" cy="562.47" r="1.9" fill="#172d58"/>
<rect x="288.80" y="564.59" width="14.50" height="74.91" fill="#dcaf81" stroke="none" stroke-width="1"/>
<line x1="296.05" y1="639.50" x2="296.05" y2="641.70" stroke="#111" stroke-width="0.9"/>
<line x1="296.05" y1="555.98" x2="296.05" y2="566.62" stroke="#b27a45" stroke-width="0.9"/>
<line x1="292.05" y1="555.98" x2="300.05" y2="555.98" stroke="#b27a45" stroke-width="0.9"/>
<line x1="292.05" y1="566.62" x2="300.05" y2="566.62" stroke="#b27a45" stroke-width="0.9"/>
<circle cx="296.05" cy="552.15" r="1.9" fill="#c0691d"/>
<circle cx="289.85" cy="564.38" r="1.9" fill="#c0691d"/>
<circle cx="293.25" cy="562.89" r="1.9" fill="#c0691d"/>
<circle cx="296.55" cy="563.21" r="1.9" fill="#c0691d"/>
<circle cx="299.45" cy="562.89" r="1.9" fill="#c0691d"/>
<circle cx="302.35" cy="563.85" r="1.9" fill="#c0691d"/>
<rect x="329.20" y="615.88" width="13.20" height="23.62" fill="#8996ba" stroke="none" stroke-width="1"/>
<line x1="335.80" y1="639.50" x2="335.80" y2="641.70" stroke="#111" stroke-width="0.9"/>
<line x1="335.80" y1="609.39" x2="335.80" y2="621.94" stroke="#1d3463" stroke-width="0.9"/>
<line x1="331.80" y1="609.39" x2="339.80" y2="609.39" stroke="#1d3463" stroke-width="0.9"/>
<line x1="331.80" y1="621.94" x2="339.80" y2="621.94" stroke="#1d3463" stroke-width="0.9"/>
<circle cx="331.50" cy="611.30" r="1.9" fill="#172d58"/>
<circle cx="340.30" cy="612.37" r="1.9" fill="#172d58"/>
<circle cx="335.80" cy="621.31" r="1.9" fill="#172d58"/>
<rect x="353.00" y="616.30" width="13.20" height="23.20" fill="#dcaf81" stroke="none" stroke-width="1"/>
<line x1="359.60" y1="639.50" x2="359.60" y2="641.70" stroke="#111" stroke-width="0.9"/>
<line x1="359.60" y1="611.30" x2="359.60" y2="621.41" stroke="#b27a45" stroke-width="0.9"/>
<line x1="355.60" y1="611.30" x2="363.60" y2="611.30" stroke="#b27a45" stroke-width="0.9"/>
<line x1="355.60" y1="621.41" x2="363.60" y2="621.41" stroke="#b27a45" stroke-width="0.9"/>
<circle cx="353.50" cy="612.16" r="1.9" fill="#c0691d"/>
<circle cx="357.00" cy="611.73" r="1.9" fill="#c0691d"/>
<circle cx="361.10" cy="611.73" r="1.9" fill="#c0691d"/>
<circle cx="366.20" cy="613.96" r="1.9" fill="#c0691d"/>
<circle cx="359.60" cy="622.05" r="1.9" fill="#c0691d"/>
<rect x="392.50" y="637.90" width="14.00" height="1.60" fill="#8996ba" stroke="none" stroke-width="1"/>
<line x1="399.50" y1="639.50" x2="399.50" y2="641.70" stroke="#111" stroke-width="0.9"/>
<circle cx="392.70" cy="637.58" r="1.9" fill="#172d58"/>
<circle cx="399.60" cy="636.95" r="1.9" fill="#172d58"/>
<circle cx="405.40" cy="637.58" r="1.9" fill="#172d58"/>
<rect x="416.40" y="638.22" width="14.00" height="1.28" fill="#dcaf81" stroke="none" stroke-width="1"/>
<line x1="423.40" y1="639.50" x2="423.40" y2="641.70" stroke="#111" stroke-width="0.9"/>
<circle cx="417.80" cy="638.01" r="1.9" fill="#c0691d"/>
<circle cx="420.60" cy="638.01" r="1.9" fill="#c0691d"/>
<circle cx="423.40" cy="638.01" r="1.9" fill="#c0691d"/>
<circle cx="426.20" cy="638.01" r="1.9" fill="#c0691d"/>
<circle cx="429.00" cy="638.01" r="1.9" fill="#c0691d"/>
<text x="0.00" y="0.00" font-size="7.0" text-anchor="middle" fill="#1a1a1a" transform="translate(237.60,586.00) rotate(-90) scale(0.82,1)" stroke="#1a1a1a" stroke-width="0.14">% Population</text>
<text x="348.00" y="526.00" font-size="8.3" text-anchor="middle" fill="#1a1a1a" stroke="#1a1a1a" stroke-width="0.14">CD8+ T-cells</text>
<text x="272.40" y="650.40" font-size="6.3" text-anchor="middle" fill="#222" stroke="#222" stroke-width="0.14">CT</text>
<text x="272.40" y="658.40" font-size="6.3" text-anchor="middle" fill="#222" stroke="#222" stroke-width="0.14">CD44–</text>
<text x="296.30" y="650.40" font-size="6.3" text-anchor="middle" fill="#222" stroke="#222" stroke-width="0.14">Mito</text>
<text x="296.30" y="658.40" font-size="6.3" text-anchor="middle" fill="#222" stroke="#222" stroke-width="0.14">CD62L+</text>
<text x="284.50" y="670.20" font-size="6.1" text-anchor="middle" fill="#222" stroke="#222" stroke-width="0.14">Naive</text>
<text x="335.80" y="650.40" font-size="6.3" text-anchor="middle" fill="#222" stroke="#222" stroke-width="0.14">CT</text>
<text x="335.80" y="658.40" font-size="6.3" text-anchor="middle" fill="#222" stroke="#222" stroke-width="0.14">CD44+</text>
<text x="360.20" y="650.40" font-size="6.3" text-anchor="middle" fill="#222" stroke="#222" stroke-width="0.14">Mito</text>
<text x="360.20" y="658.40" font-size="6.3" text-anchor="middle" fill="#222" stroke="#222" stroke-width="0.14">CD62L+</text>
<text x="348.00" y="670.20" font-size="6.1" text-anchor="middle" fill="#222" stroke="#222" stroke-width="0.14">CM</text>
<text x="399.20" y="650.40" font-size="6.3" text-anchor="middle" fill="#222" stroke="#222" stroke-width="0.14">CT</text>
<text x="399.20" y="658.40" font-size="6.3" text-anchor="middle" fill="#222" stroke="#222" stroke-width="0.14">CD44+</text>
<text x="423.20" y="650.40" font-size="6.3" text-anchor="middle" fill="#222" stroke="#222" stroke-width="0.14">Mito</text>
<text x="423.20" y="658.40" font-size="6.3" text-anchor="middle" fill="#222" stroke="#222" stroke-width="0.14">CD62L–</text>
<text x="411.50" y="670.20" font-size="6.1" text-anchor="middle" fill="#222" stroke="#222" stroke-width="0.14">Effector</text>
<rect x="0.5" y="0.5" width="519" height="675" fill="none" stroke="#505050" stroke-width="1.1" shape-rendering="crispEdges"/>
</svg>
</body></html>
